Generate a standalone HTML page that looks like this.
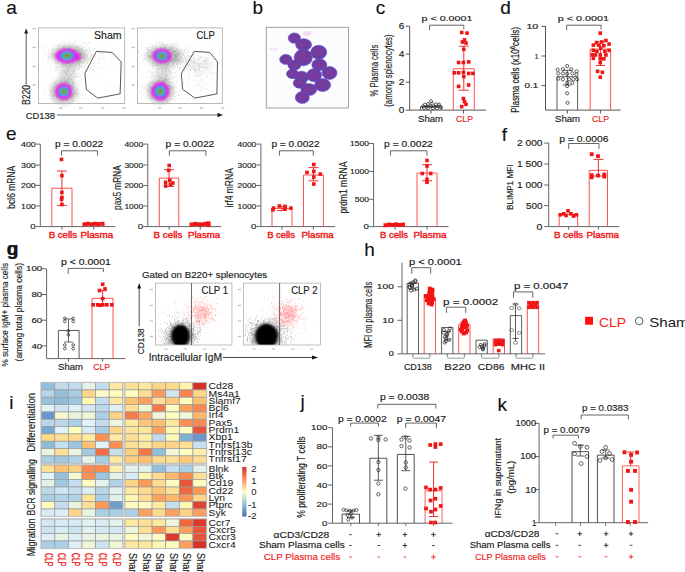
<!DOCTYPE html>
<html><head><meta charset="utf-8"><style>
html,body{margin:0;padding:0;background:#fff;}
body{width:685px;height:572px;overflow:hidden;}
svg{display:block;font-family:"Liberation Sans", sans-serif;}
</style></head><body>
<svg width="685" height="572" viewBox="0 0 685 572">
<defs>
<radialGradient id="fd" cx="50%" cy="50%" r="50%">
<stop offset="0%" stop-color="#c8201a"/>
<stop offset="14%" stop-color="#d85a10"/>
<stop offset="24%" stop-color="#1fb86a"/>
<stop offset="40%" stop-color="#20b8d8"/>
<stop offset="55%" stop-color="#3a3cf0"/>
<stop offset="70%" stop-color="#d43ce8"/>
<stop offset="85%" stop-color="#e860f0" stop-opacity="0.7"/>
<stop offset="100%" stop-color="#f090f0" stop-opacity="0"/>
</radialGradient>
<radialGradient id="blk" cx="50%" cy="50%" r="50%">
<stop offset="0%" stop-color="#000"/>
<stop offset="70%" stop-color="#050505"/>
<stop offset="100%" stop-color="#111" stop-opacity="0"/>
</radialGradient>
<radialGradient id="cellg" cx="48%" cy="48%" r="55%">
<stop offset="0%" stop-color="#7a3e9c"/>
<stop offset="65%" stop-color="#733a9e"/>
<stop offset="88%" stop-color="#6446b4"/>
<stop offset="100%" stop-color="#5e52c4"/>
</radialGradient>
<filter id="bl" x="-50%" y="-50%" width="200%" height="200%"><feGaussianBlur stdDeviation="0.9"/></filter>
<filter id="bl3" x="-50%" y="-50%" width="200%" height="200%"><feGaussianBlur stdDeviation="2.5"/></filter>
<linearGradient id="cbar" x1="0" y1="0" x2="0" y2="1">
<stop offset="0%" stop-color="#d73027"/>
<stop offset="25%" stop-color="#fc8d59"/>
<stop offset="50%" stop-color="#ffffbf"/>
<stop offset="75%" stop-color="#91bfdb"/>
<stop offset="100%" stop-color="#4575b4"/>
</linearGradient>
</defs>
<text x="6.20" y="14.00" font-size="19" fill="#111" stroke="#111" stroke-width="0.15">a</text>
<ellipse cx="69.00" cy="55.80" rx="17.00" ry="10.00" fill="#707070" opacity="0.4" filter="url(#bl3)"/>
<ellipse cx="63.80" cy="91.50" rx="13.00" ry="12.00" fill="#707070" opacity="0.4" filter="url(#bl3)"/>
<ellipse cx="67.40" cy="73.65" rx="8.00" ry="10.00" fill="#707070" opacity="0.18" filter="url(#bl3)"/>
<path d="M73.5 49.5h0.55M78.2 59.1h0.55M73.3 51.0h0.55M57.0 60.3h0.55M79.1 61.9h0.55M74.5 45.9h0.55M64.6 55.0h0.55M75.8 47.1h0.55M73.6 55.4h0.55M72.9 60.7h0.55M70.3 48.2h0.55M75.5 65.6h0.55M62.6 54.0h0.55M68.4 49.2h0.55M65.2 55.0h0.55M76.0 60.1h0.55M70.4 48.1h0.55M67.1 55.7h0.55M62.2 48.2h0.55M67.4 62.3h0.55M70.1 56.6h0.55M67.2 53.4h0.55M82.9 61.4h0.55M80.1 48.6h0.55M42.9 53.5h0.55M51.1 65.9h0.55M68.3 55.0h0.55M65.8 63.2h0.55M72.1 56.8h0.55M72.2 51.8h0.55M91.2 54.3h0.55M58.9 56.1h0.55M66.2 53.4h0.55M90.4 51.2h0.55M76.5 51.4h0.55M76.6 47.5h0.55M64.9 56.3h0.55M53.5 57.8h0.55M71.7 59.8h0.55M71.1 45.7h0.55M57.7 60.1h0.55M63.2 55.6h0.55M69.3 47.8h0.55M60.6 56.2h0.55M69.0 60.2h0.55M71.0 58.6h0.55M70.4 59.7h0.55M64.9 60.9h0.55M75.9 60.6h0.55M78.9 55.5h0.55M73.2 44.2h0.55M61.8 51.5h0.55M77.3 57.6h0.55M65.0 53.1h0.55M78.8 59.5h0.55M59.3 60.1h0.55M79.1 56.0h0.55M69.8 66.0h0.55M57.5 50.3h0.55M66.9 60.8h0.55M70.5 53.1h0.55M72.7 51.4h0.55M60.2 58.9h0.55M58.9 52.3h0.55M72.0 60.4h0.55M65.3 49.3h0.55M72.4 55.9h0.55M77.6 51.1h0.55M53.5 54.4h0.55M72.5 53.6h0.55M82.2 49.5h0.55M67.0 59.3h0.55M61.9 48.8h0.55M77.5 50.3h0.55M72.5 60.6h0.55M79.0 61.1h0.55M66.5 59.4h0.55M55.2 57.6h0.55M68.9 68.2h0.55M65.5 49.0h0.55M77.8 51.6h0.55M71.9 50.2h0.55M53.7 60.6h0.55M58.0 57.3h0.55M78.8 61.8h0.55M76.8 61.1h0.55M63.6 54.5h0.55M70.0 51.2h0.55M74.5 50.3h0.55M74.7 67.9h0.55M78.8 61.0h0.55M72.6 59.0h0.55M69.1 53.9h0.55M67.4 54.6h0.55M80.6 53.8h0.55M47.5 53.9h0.55M68.6 42.5h0.55M70.3 55.4h0.55M55.7 53.6h0.55M73.3 57.3h0.55M63.5 56.9h0.55M78.6 60.4h0.55M68.7 55.6h0.55M76.7 60.1h0.55M82.2 41.6h0.55M73.8 49.7h0.55M61.2 65.2h0.55M54.9 49.0h0.55M87.5 54.2h0.55M68.9 59.6h0.55M63.1 50.9h0.55M71.4 59.7h0.55M68.1 47.9h0.55M78.5 45.2h0.55M70.3 48.4h0.55M70.1 46.6h0.55M62.9 55.6h0.55M74.7 54.0h0.55M59.7 57.5h0.55M76.7 50.0h0.55M85.2 69.7h0.55M54.8 55.2h0.55M45.3 55.5h0.55M76.2 58.2h0.55M95.5 54.4h0.55M60.0 52.2h0.55M57.5 56.2h0.55M75.9 60.8h0.55M61.6 59.4h0.55M64.9 60.9h0.55M66.5 52.6h0.55M75.3 51.5h0.55M65.9 66.8h0.55M72.8 54.4h0.55M68.2 58.4h0.55M61.6 59.8h0.55M66.8 63.5h0.55M60.5 48.3h0.55M70.1 53.1h0.55M58.8 53.4h0.55M59.1 54.1h0.55M84.6 42.5h0.55M69.5 55.2h0.55M69.5 39.8h0.55M75.1 57.4h0.55M65.8 58.7h0.55M67.7 59.0h0.55M74.3 49.1h0.55M72.8 61.0h0.55M58.4 51.0h0.55M78.3 49.0h0.55M64.1 50.4h0.55M59.4 51.1h0.55M61.0 56.7h0.55M66.1 60.3h0.55M86.3 44.2h0.55M58.2 52.8h0.55M71.6 60.7h0.55M48.6 56.9h0.55M70.0 58.6h0.55M79.0 47.5h0.55M67.6 61.0h0.55M63.7 47.2h0.55M72.3 56.8h0.55M77.0 63.3h0.55M76.6 66.1h0.55M89.7 58.6h0.55M72.1 60.6h0.55M64.1 52.5h0.55M68.7 53.2h0.55M69.3 62.2h0.55M71.1 55.8h0.55M69.7 55.1h0.55M71.7 48.0h0.55M53.3 56.6h0.55M78.3 59.4h0.55M64.3 51.4h0.55M58.3 53.0h0.55M76.4 64.5h0.55M83.2 56.8h0.55M74.9 54.2h0.55M71.6 49.5h0.55M60.7 52.4h0.55M98.7 54.4h0.55M78.8 63.3h0.55M58.6 52.4h0.55M62.2 65.7h0.55M70.9 50.7h0.55M54.5 53.8h0.55M71.7 60.4h0.55M65.4 54.5h0.55M82.3 51.2h0.55M79.6 55.1h0.55M42.9 58.3h0.55M70.4 46.4h0.55M53.8 54.4h0.55M81.1 55.2h0.55M71.7 53.6h0.55M75.5 59.8h0.55M59.3 52.7h0.55M88.3 53.8h0.55M90.2 56.0h0.55M59.4 59.8h0.55M73.7 54.6h0.55M63.3 64.1h0.55M69.8 50.8h0.55M57.3 62.9h0.55M88.7 51.1h0.55M60.3 54.9h0.55M67.0 57.8h0.55M75.0 67.1h0.55M63.5 60.7h0.55M67.6 53.6h0.55M64.4 62.9h0.55M68.7 54.6h0.55M58.3 51.4h0.55M65.6 58.3h0.55M67.9 56.3h0.55M66.7 61.0h0.55M70.6 52.8h0.55M67.1 57.9h0.55M77.5 59.3h0.55M66.8 57.3h0.55M68.6 55.6h0.55M63.4 52.0h0.55M64.7 60.8h0.55M57.4 56.6h0.55M75.2 58.5h0.55M58.6 53.9h0.55M62.5 55.9h0.55M73.6 50.1h0.55M74.0 56.3h0.55M66.0 60.0h0.55M49.8 56.3h0.55M74.2 60.5h0.55M72.6 57.5h0.55M55.9 63.3h0.55M77.7 54.8h0.55M63.0 46.8h0.55M58.7 58.2h0.55M71.0 54.9h0.55M68.2 50.4h0.55M72.0 59.4h0.55M53.9 57.3h0.55M88.1 58.2h0.55M64.0 54.0h0.55M54.6 56.9h0.55M76.2 57.2h0.55M66.5 65.6h0.55M73.2 52.0h0.55M66.6 55.7h0.55M69.4 57.8h0.55M72.5 46.3h0.55M62.5 47.0h0.55M76.8 67.7h0.55M65.3 46.1h0.55M61.3 59.0h0.55M70.8 51.1h0.55M74.5 51.6h0.55M67.7 44.9h0.55M61.4 50.8h0.55M76.2 60.1h0.55M52.4 48.2h0.55M59.7 59.1h0.55M70.4 57.5h0.55M56.4 66.9h0.55M70.3 53.2h0.55M69.5 62.7h0.55M79.0 60.7h0.55M60.9 54.2h0.55M63.7 46.7h0.55M73.3 64.1h0.55M45.4 48.3h0.55M101.0 53.2h0.55M63.0 60.7h0.55M62.7 61.9h0.55M78.6 51.2h0.55M69.6 55.6h0.55M52.2 54.4h0.55M76.3 62.3h0.55M78.6 69.6h0.55M65.5 45.7h0.55M67.2 60.8h0.55M74.9 40.1h0.55M60.9 55.9h0.55M74.4 49.7h0.55M72.0 66.8h0.55M63.3 56.7h0.55M56.1 51.7h0.55M67.7 53.1h0.55M61.2 52.6h0.55M80.0 56.8h0.55M71.4 54.9h0.55M77.8 59.4h0.55M71.3 64.3h0.55M72.6 59.7h0.55M62.2 49.1h0.55M76.7 46.9h0.55M87.8 51.6h0.55M66.9 61.6h0.55M64.1 54.0h0.55M68.4 52.1h0.55M65.2 56.6h0.55M63.0 48.0h0.55M71.4 49.5h0.55M67.1 58.6h0.55M84.4 54.1h0.55M70.0 53.3h0.55M73.2 57.5h0.55M79.5 52.6h0.55M67.0 52.0h0.55M84.4 53.3h0.55M63.7 59.1h0.55M61.9 56.1h0.55M66.3 49.2h0.55M68.9 54.1h0.55M56.0 59.4h0.55M69.6 66.1h0.55M53.3 49.5h0.55M83.9 57.7h0.55M69.2 54.4h0.55M63.6 60.3h0.55M60.9 58.3h0.55M66.2 63.9h0.55M67.8 58.7h0.55M59.6 52.8h0.55M60.8 52.8h0.55M68.1 58.0h0.55M64.8 58.0h0.55M79.4 69.0h0.55M81.4 65.0h0.55M70.2 49.3h0.55M74.7 57.7h0.55M56.6 48.5h0.55M76.4 46.7h0.55M69.7 59.9h0.55M74.8 58.8h0.55M86.0 50.1h0.55M47.2 64.8h0.55M72.6 50.4h0.55M59.0 49.4h0.55M75.9 59.4h0.55M56.9 57.0h0.55M65.0 54.9h0.55M72.0 55.4h0.55M76.1 57.0h0.55M70.7 55.0h0.55M62.1 54.9h0.55M64.5 45.4h0.55M78.8 48.4h0.55M69.9 59.2h0.55M53.2 51.9h0.55M78.4 58.8h0.55M74.2 62.6h0.55M78.7 53.8h0.55M66.6 57.4h0.55M78.3 67.2h0.55M59.4 59.6h0.55M75.7 65.9h0.55M65.1 64.2h0.55M76.7 59.9h0.55M80.1 55.2h0.55M62.6 51.2h0.55M69.5 49.7h0.55M70.4 58.5h0.55M81.9 58.4h0.55M77.1 54.8h0.55M57.8 60.5h0.55M74.6 52.5h0.55M77.5 61.9h0.55M91.2 56.0h0.55M53.2 55.6h0.55M64.6 55.8h0.55M83.3 55.3h0.55M56.4 69.5h0.55M58.0 46.9h0.55M75.2 56.8h0.55M80.2 62.6h0.55M63.3 59.7h0.55M75.4 54.1h0.55M71.2 65.4h0.55M85.2 49.9h0.55M70.0 48.6h0.55M79.9 58.9h0.55M61.0 47.8h0.55M68.2 42.7h0.55M69.0 60.7h0.55M81.4 60.0h0.55M75.8 59.8h0.55M62.5 53.1h0.55M76.8 56.8h0.55M77.7 50.5h0.55M68.9 65.3h0.55M67.4 60.2h0.55M68.1 59.9h0.55M53.1 45.1h0.55M71.9 60.2h0.55M72.3 64.0h0.55M61.3 62.5h0.55M77.4 60.1h0.55M56.3 55.8h0.55M64.5 53.9h0.55M65.2 59.1h0.55M89.9 57.9h0.55M54.0 57.1h0.55M75.6 54.1h0.55M79.4 65.0h0.55M73.8 49.4h0.55M81.8 55.7h0.55M60.0 52.6h0.55M47.2 61.5h0.55M77.7 63.7h0.55M58.0 62.6h0.55M66.7 60.0h0.55M58.2 48.1h0.55M80.5 67.2h0.55M78.7 58.6h0.55M62.8 55.2h0.55M79.0 55.9h0.55M71.2 53.9h0.55M68.6 58.1h0.55M70.6 57.5h0.55M68.0 53.8h0.55M76.2 41.7h0.55M73.1 55.6h0.55M66.5 58.4h0.55M80.1 58.7h0.55M63.9 55.0h0.55M72.9 58.3h0.55M74.2 61.5h0.55M84.8 53.2h0.55M64.9 63.9h0.55M87.4 45.0h0.55M71.8 48.9h0.55M68.1 50.8h0.55M63.3 42.4h0.55M75.9 50.3h0.55M70.5 62.7h0.55M59.0 62.6h0.55M58.7 56.3h0.55M64.4 65.3h0.55M63.2 57.1h0.55M80.9 53.1h0.55M83.8 57.1h0.55M78.7 55.0h0.55M73.6 59.8h0.55M65.7 47.5h0.55M70.5 61.3h0.55M78.8 53.3h0.55M91.3 60.5h0.55M79.1 47.3h0.55M67.2 53.5h0.55M70.4 56.2h0.55M65.2 60.8h0.55M62.2 49.1h0.55M68.2 65.0h0.55M72.0 58.5h0.55M88.4 52.9h0.55M70.5 62.5h0.55M83.6 56.4h0.55M87.7 62.2h0.55M70.8 68.6h0.55M86.1 60.0h0.55M77.1 52.9h0.55M65.8 53.5h0.55M72.7 59.0h0.55M70.2 57.4h0.55M67.7 51.2h0.55M68.0 52.1h0.55M71.4 59.5h0.55M74.3 68.7h0.55M61.2 41.3h0.55M69.9 59.8h0.55M54.8 54.6h0.55M72.6 60.1h0.55M76.2 60.6h0.55M71.6 56.1h0.55M72.9 50.2h0.55M75.9 48.1h0.55M63.3 45.5h0.55M67.6 62.5h0.55M75.1 54.6h0.55M80.0 52.8h0.55M73.9 54.3h0.55M95.5 48.4h0.55M69.1 57.5h0.55M80.0 63.1h0.55M82.7 62.1h0.55M68.7 47.2h0.55M61.8 63.3h0.55M58.2 51.6h0.55M71.6 45.3h0.55M81.1 49.0h0.55M72.7 50.5h0.55M71.7 55.8h0.55M66.2 50.1h0.55M75.6 47.5h0.55M48.6 54.3h0.55M72.3 66.4h0.55M70.3 51.9h0.55M56.3 58.4h0.55M91.8 56.2h0.55M56.1 70.4h0.55M59.2 45.4h0.55M58.0 61.8h0.55M81.1 48.8h0.55M61.1 52.5h0.55M76.7 55.3h0.55M75.9 73.3h0.55M72.6 51.6h0.55M56.9 45.4h0.55M63.9 62.9h0.55M86.7 51.2h0.55M57.1 54.5h0.55M61.7 55.7h0.55M68.4 56.3h0.55M78.1 54.9h0.55M72.5 57.3h0.55M77.4 57.9h0.55M59.3 60.5h0.55M79.4 53.5h0.55M75.7 51.7h0.55M54.1 50.0h0.55M85.4 59.1h0.55M92.9 55.5h0.55M62.3 58.8h0.55M70.6 58.8h0.55M84.0 65.1h0.55M55.2 56.9h0.55M50.1 59.9h0.55M57.0 49.2h0.55M64.3 49.9h0.55M64.2 54.1h0.55M76.1 49.1h0.55M72.7 59.6h0.55M57.5 48.5h0.55M75.7 56.2h0.55M88.7 42.3h0.55M82.0 49.7h0.55M79.9 53.9h0.55M70.2 54.4h0.55M79.8 45.9h0.55M60.3 56.4h0.55M77.5 61.2h0.55M69.1 59.4h0.55M81.3 52.2h0.55M74.7 52.6h0.55M59.1 49.3h0.55M71.3 59.3h0.55M82.2 63.7h0.55M58.7 52.9h0.55M64.4 46.5h0.55M62.3 56.9h0.55M55.0 59.7h0.55M79.6 40.8h0.55M83.1 56.6h0.55M78.0 67.7h0.55M72.4 60.3h0.55M69.5 58.8h0.55M72.4 58.0h0.55M62.7 61.6h0.55M78.9 50.6h0.55M80.5 51.2h0.55M79.3 58.0h0.55M64.7 52.0h0.55M70.8 57.2h0.55M68.3 45.3h0.55M87.9 60.0h0.55M71.8 60.5h0.55M51.2 56.0h0.55M74.0 56.7h0.55M88.8 64.7h0.55M76.9 49.8h0.55M78.8 50.8h0.55M70.4 49.8h0.55M50.3 53.5h0.55M51.9 50.2h0.55M57.5 56.0h0.55M68.7 52.2h0.55M73.1 47.8h0.55M76.9 47.3h0.55M66.6 62.5h0.55M79.6 55.4h0.55M67.2 54.5h0.55M63.0 55.9h0.55M78.5 55.3h0.55M60.9 60.0h0.55M42.7 58.9h0.55M59.4 52.6h0.55M70.9 51.3h0.55M39.2 49.8h0.55M66.4 48.9h0.55M66.7 63.5h0.55M55.7 50.8h0.55M55.2 44.7h0.55M65.4 51.2h0.55M64.5 51.5h0.55M82.6 57.6h0.55M73.7 50.9h0.55M54.2 58.7h0.55M61.5 57.9h0.55M77.1 62.8h0.55M89.0 67.7h0.55M73.9 71.5h0.55M73.1 63.2h0.55M88.6 49.4h0.55M69.8 53.6h0.55M66.9 57.2h0.55M55.9 67.2h0.55M64.9 59.5h0.55M91.8 62.4h0.55M55.8 54.8h0.55M70.1 59.0h0.55M55.9 59.8h0.55M71.3 53.3h0.55M78.9 60.1h0.55M67.6 61.7h0.55M77.3 54.9h0.55M77.2 61.4h0.55M74.5 64.9h0.55M87.2 56.2h0.55M77.8 55.8h0.55M67.0 54.1h0.55M63.2 52.4h0.55M61.5 56.7h0.55M74.8 53.5h0.55M66.8 54.1h0.55M97.3 51.5h0.55M88.4 47.4h0.55M67.9 50.6h0.55M66.7 57.6h0.55M86.9 49.3h0.55M51.2 52.2h0.55M65.5 64.8h0.55M79.5 62.0h0.55M60.9 52.0h0.55M65.2 59.1h0.55M66.5 52.2h0.55M76.6 64.8h0.55M71.4 52.6h0.55M74.0 56.2h0.55M76.0 63.4h0.55M70.3 51.2h0.55M81.1 63.0h0.55M62.7 51.3h0.55M55.6 57.1h0.55M52.2 54.2h0.55M53.8 55.3h0.55M64.5 56.7h0.55M80.3 55.4h0.55M71.7 50.2h0.55M64.0 60.6h0.55M59.3 59.8h0.55M64.7 62.9h0.55M66.0 63.4h0.55M64.3 48.4h0.55M55.7 62.9h0.55M65.2 62.9h0.55M80.2 52.9h0.55M48.3 61.5h0.55M67.6 63.9h0.55M48.8 52.8h0.55M71.8 48.2h0.55M62.5 53.8h0.55M49.1 71.2h0.55M71.0 57.1h0.55M88.2 49.1h0.55M71.1 54.4h0.55M81.6 50.3h0.55M69.3 53.6h0.55M48.4 56.3h0.55M74.9 41.7h0.55M65.8 57.8h0.55M55.4 63.6h0.55M77.8 54.7h0.55M72.9 53.7h0.55M64.7 61.8h0.55M78.7 48.8h0.55M61.3 48.9h0.55M76.4 48.2h0.55M60.6 54.9h0.55M75.3 58.0h0.55M59.0 55.3h0.55M84.9 58.8h0.55M72.5 60.4h0.55M84.3 58.5h0.55M61.8 51.4h0.55M65.2 54.3h0.55M78.4 62.7h0.55M42.6 50.0h0.55M59.3 54.4h0.55M80.3 53.5h0.55M74.7 54.8h0.55M79.8 49.9h0.55M66.9 48.4h0.55M75.6 69.9h0.55M62.7 61.0h0.55M56.3 51.9h0.55M53.1 55.5h0.55M64.5 59.5h0.55M64.5 53.9h0.55M63.7 59.2h0.55M50.0 53.8h0.55M64.7 55.3h0.55M72.9 53.3h0.55M64.2 42.3h0.55M61.2 55.9h0.55M46.9 57.2h0.55M90.2 58.4h0.55M59.0 50.3h0.55M86.8 57.7h0.55M85.6 57.0h0.55M72.7 46.1h0.55M64.3 43.7h0.55M71.3 58.4h0.55M58.5 50.6h0.55M72.6 61.3h0.55M70.0 67.6h0.55M75.3 52.6h0.55M79.5 52.0h0.55M87.3 55.7h0.55M66.1 59.5h0.55M80.4 49.6h0.55M62.1 62.7h0.55M61.1 61.3h0.55M63.8 59.4h0.55M60.2 52.8h0.55M79.8 60.8h0.55M79.2 60.5h0.55M82.7 49.2h0.55M69.7 67.3h0.55M72.7 54.1h0.55M64.2 57.8h0.55M58.5 52.9h0.55M74.5 57.9h0.55M72.7 62.2h0.55M58.9 51.4h0.55M75.9 46.7h0.55M52.6 53.3h0.55M68.2 48.6h0.55M63.7 51.6h0.55M64.7 55.1h0.55M59.2 55.4h0.55M79.5 62.9h0.55M75.7 50.2h0.55M81.8 57.7h0.55M71.3 53.0h0.55M57.0 63.3h0.55M66.2 69.7h0.55M58.1 57.5h0.55M74.5 65.0h0.55M82.0 52.9h0.55M73.2 47.0h0.55M63.9 48.8h0.55M66.2 47.1h0.55M71.9 50.5h0.55M55.4 54.5h0.55M71.3 62.1h0.55M71.8 59.6h0.55M64.4 58.4h0.55M65.7 53.5h0.55M71.5 51.8h0.55M61.6 56.0h0.55M61.6 56.6h0.55M77.6 57.2h0.55M72.0 57.8h0.55M86.6 55.2h0.55M59.9 45.2h0.55M52.0 49.7h0.55M79.2 51.3h0.55M79.3 65.1h0.55M62.4 53.5h0.55M55.1 59.5h0.55M69.3 63.9h0.55M52.2 57.6h0.55M66.3 53.6h0.55M47.9 54.2h0.55M67.3 50.2h0.55M48.5 57.5h0.55M67.3 62.0h0.55M84.8 58.9h0.55M67.0 60.0h0.55M77.4 59.7h0.55M63.2 66.8h0.55M60.7 52.3h0.55M54.6 56.7h0.55M80.0 59.7h0.55M69.0 62.7h0.55M85.8 42.4h0.55M57.8 52.9h0.55M67.3 54.7h0.55M70.4 50.1h0.55M83.7 60.5h0.55M87.8 57.0h0.55M63.1 53.6h0.55M58.2 46.8h0.55M52.2 48.5h0.55M82.9 50.4h0.55M68.6 58.3h0.55M63.0 49.1h0.55M69.0 44.4h0.55M43.9 47.8h0.55M52.2 52.5h0.55M78.8 65.0h0.55M73.4 69.6h0.55M71.0 53.2h0.55M59.5 61.0h0.55M75.4 63.5h0.55M87.3 62.9h0.55M57.2 55.2h0.55M69.6 48.6h0.55M65.1 53.1h0.55M73.1 45.6h0.55M69.6 57.1h0.55M68.0 60.1h0.55M60.6 45.4h0.55M69.3 55.5h0.55M63.3 57.4h0.55M68.0 62.7h0.55M68.8 63.4h0.55M76.0 60.2h0.55M63.6 52.0h0.55M66.2 53.8h0.55M80.2 62.4h0.55M67.3 52.5h0.55M66.8 55.6h0.55M78.1 64.4h0.55M72.2 56.5h0.55M70.4 48.2h0.55M71.7 54.2h0.55M57.1 59.3h0.55M74.1 54.8h0.55M82.7 62.2h0.55M75.3 62.9h0.55M53.9 52.2h0.55M72.4 53.0h0.55M60.5 55.2h0.55M67.3 49.2h0.55M70.8 57.9h0.55M57.6 54.8h0.55M82.9 60.1h0.55M68.9 52.5h0.55M77.5 51.0h0.55M75.9 65.9h0.55M83.0 51.0h0.55M81.5 52.6h0.55M54.9 51.8h0.55M70.0 54.1h0.55M48.3 50.8h0.55M65.2 55.6h0.55M76.8 51.9h0.55M78.8 53.5h0.55M82.5 57.8h0.55M65.9 59.7h0.55M72.9 58.4h0.55M70.6 51.8h0.55M82.3 58.0h0.55M85.6 55.1h0.55M66.1 55.2h0.55M107.5 46.3h0.55M69.6 59.5h0.55M66.0 55.0h0.55M75.7 65.2h0.55M77.3 59.3h0.55M75.2 49.7h0.55M63.2 48.3h0.55M84.4 62.1h0.55M70.3 51.0h0.55M85.1 59.6h0.55M83.7 54.1h0.55M57.0 67.4h0.55M60.0 56.2h0.55M59.8 64.1h0.55M72.3 63.1h0.55M70.3 53.3h0.55M72.5 54.0h0.55M61.7 64.0h0.55M74.1 55.8h0.55M83.9 51.1h0.55M56.5 62.5h0.55M67.9 70.0h0.55M72.3 55.7h0.55M68.5 63.6h0.55M67.9 55.0h0.55M87.5 63.4h0.55M82.7 54.6h0.55M78.3 63.3h0.55M62.2 59.0h0.55M92.3 55.0h0.55M73.5 57.3h0.55M64.1 53.0h0.55M66.5 49.8h0.55M65.0 50.2h0.55M91.1 55.8h0.55M71.9 50.3h0.55M70.5 58.5h0.55M48.3 59.0h0.55M77.2 58.7h0.55M59.3 53.4h0.55" stroke="#666" stroke-width="0.55" opacity="0.5"/>
<path d="M64.6 81.8h0.55M64.1 98.0h0.55M73.5 77.0h0.55M58.6 93.1h0.55M61.6 96.1h0.55M62.6 87.3h0.55M63.3 90.0h0.55M59.0 86.4h0.55M59.9 97.3h0.55M71.4 70.9h0.55M59.8 85.2h0.55M70.7 78.9h0.55M78.5 92.7h0.55M73.2 99.9h0.55M51.6 99.2h0.55M69.7 95.8h0.55M67.6 93.1h0.55M68.1 86.5h0.55M52.9 99.4h0.55M69.6 95.6h0.55M56.7 86.0h0.55M73.4 83.2h0.55M71.8 87.4h0.55M82.1 98.5h0.55M61.6 99.6h0.55M53.6 102.0h0.55M71.6 86.5h0.55M70.4 89.2h0.55M61.6 100.5h0.55M73.8 92.9h0.55M69.1 96.5h0.55M55.2 82.9h0.55M61.8 89.1h0.55M61.1 91.4h0.55M63.5 89.2h0.55M65.6 88.8h0.55M59.4 80.9h0.55M62.8 102.1h0.55M68.4 92.5h0.55M63.7 82.1h0.55M62.3 98.5h0.55M62.1 92.0h0.55M63.5 96.2h0.55M50.8 90.3h0.55M65.3 86.5h0.55M57.0 86.6h0.55M65.0 93.8h0.55M53.9 96.6h0.55M70.7 94.8h0.55M65.9 95.8h0.55M54.8 99.4h0.55M65.9 93.5h0.55M58.9 98.2h0.55M76.8 98.8h0.55M67.7 93.6h0.55M58.6 91.2h0.55M65.8 88.9h0.55M64.0 83.9h0.55M72.6 81.6h0.55M66.7 100.2h0.55M67.8 91.6h0.55M56.4 88.2h0.55M69.8 102.0h0.55M78.9 98.1h0.55M68.7 92.1h0.55M64.0 98.3h0.55M65.4 90.5h0.55M57.6 94.1h0.55M56.6 98.7h0.55M64.6 90.0h0.55M61.6 96.3h0.55M58.5 99.5h0.55M68.3 91.1h0.55M53.9 89.2h0.55M55.0 90.0h0.55M77.1 83.3h0.55M78.1 92.9h0.55M77.6 96.1h0.55M68.4 98.3h0.55M68.1 78.0h0.55M61.3 88.6h0.55M58.0 100.0h0.55M65.2 89.6h0.55M60.5 100.8h0.55M61.2 95.4h0.55M69.4 94.9h0.55M53.3 89.1h0.55M62.8 89.3h0.55M58.9 93.0h0.55M62.2 93.8h0.55M56.6 81.3h0.55M72.7 100.4h0.55M77.6 93.9h0.55M56.5 91.3h0.55M68.8 96.4h0.55M68.4 89.8h0.55M56.7 100.2h0.55M65.0 92.8h0.55M74.1 97.1h0.55M70.2 86.6h0.55M75.6 90.6h0.55M56.0 94.8h0.55M59.0 86.2h0.55M66.3 88.1h0.55M66.7 92.0h0.55M64.4 99.6h0.55M61.5 97.3h0.55M61.3 98.2h0.55M59.9 94.3h0.55M67.3 98.2h0.55M44.9 102.3h0.55M75.4 93.4h0.55M60.5 95.2h0.55M54.1 96.1h0.55M68.0 79.3h0.55M54.3 91.7h0.55M66.8 95.0h0.55M61.3 97.2h0.55M68.3 90.2h0.55M69.6 98.6h0.55M73.2 88.1h0.55M60.6 91.1h0.55M64.0 83.5h0.55M54.2 91.7h0.55M68.2 91.3h0.55M65.0 91.6h0.55M54.7 88.7h0.55M72.5 96.4h0.55M73.6 85.2h0.55M54.8 83.6h0.55M68.1 95.3h0.55M72.8 84.4h0.55M69.9 94.6h0.55M57.2 92.2h0.55M54.3 87.6h0.55M63.2 89.8h0.55M60.6 91.4h0.55M64.0 95.0h0.55M63.3 87.9h0.55M67.7 90.7h0.55M60.1 82.7h0.55M62.9 90.2h0.55M84.8 79.5h0.55M63.1 91.7h0.55M69.2 89.0h0.55M65.5 100.3h0.55M57.6 90.9h0.55M67.7 98.0h0.55M63.6 93.7h0.55M69.7 84.4h0.55M78.3 76.1h0.55M65.3 99.0h0.55M69.3 94.3h0.55M56.8 79.1h0.55M64.8 95.9h0.55M74.8 97.7h0.55M63.5 87.3h0.55M59.5 96.9h0.55M65.4 80.6h0.55M62.7 90.3h0.55M62.3 92.0h0.55M61.4 96.8h0.55M77.9 94.3h0.55M57.9 93.2h0.55M61.1 95.3h0.55M60.0 87.5h0.55M72.6 101.3h0.55M62.0 89.5h0.55M73.1 96.9h0.55M65.1 91.7h0.55M63.8 90.1h0.55M53.7 95.5h0.55M72.4 94.6h0.55M67.7 100.4h0.55M66.8 98.7h0.55M63.1 88.0h0.55M61.0 94.9h0.55M55.1 92.3h0.55M70.6 86.5h0.55M65.8 84.5h0.55M61.4 93.3h0.55M59.5 88.2h0.55M64.8 82.7h0.55M63.3 91.1h0.55M75.4 93.1h0.55M69.4 92.3h0.55M59.8 83.8h0.55M56.2 87.9h0.55M62.3 100.5h0.55M57.6 86.6h0.55M64.5 89.5h0.55M68.4 93.9h0.55M66.9 88.4h0.55M62.6 79.0h0.55M68.2 93.6h0.55M57.8 82.6h0.55M63.4 91.4h0.55M69.7 86.0h0.55M66.0 80.7h0.55M55.1 102.3h0.55M55.9 90.9h0.55M52.7 97.6h0.55M76.6 96.4h0.55M53.2 86.8h0.55M63.0 92.1h0.55M76.9 89.2h0.55M71.6 97.8h0.55M73.2 94.3h0.55M60.5 89.2h0.55M69.2 102.3h0.55M85.3 94.9h0.55M63.8 94.5h0.55M66.9 86.4h0.55M61.8 94.2h0.55M63.9 82.0h0.55M66.7 94.5h0.55M73.7 85.4h0.55M57.7 92.7h0.55M54.0 89.7h0.55M64.2 93.0h0.55M65.5 93.8h0.55M73.9 91.1h0.55M69.1 91.1h0.55M59.7 81.8h0.55M68.0 79.2h0.55M71.9 99.7h0.55M66.1 95.2h0.55M61.7 81.9h0.55M61.6 86.9h0.55M51.0 94.8h0.55M73.4 94.3h0.55M55.0 92.2h0.55M61.7 95.5h0.55M61.8 82.6h0.55M61.7 91.3h0.55M62.0 89.8h0.55M53.9 92.1h0.55M67.7 89.7h0.55M64.2 87.3h0.55M64.3 86.7h0.55M71.5 97.3h0.55M71.7 86.0h0.55M73.4 93.9h0.55M77.0 93.8h0.55M67.2 90.9h0.55M53.2 94.3h0.55M65.5 95.0h0.55M64.1 88.0h0.55M64.5 93.7h0.55M57.8 84.5h0.55M69.6 89.5h0.55M70.8 86.5h0.55M67.8 82.4h0.55M62.8 91.5h0.55M61.3 97.5h0.55M68.8 85.9h0.55M63.6 90.6h0.55M60.1 86.9h0.55M64.4 82.8h0.55M50.0 91.0h0.55M59.8 94.7h0.55M60.9 88.9h0.55M54.2 92.6h0.55M65.2 95.9h0.55M65.8 99.3h0.55M59.7 83.5h0.55M62.7 95.5h0.55M68.6 87.5h0.55M71.3 79.3h0.55M58.6 86.4h0.55M66.3 95.7h0.55M71.2 93.5h0.55M63.7 84.4h0.55M58.5 101.9h0.55M58.5 94.1h0.55M61.6 91.1h0.55M56.6 88.0h0.55M77.9 94.2h0.55M59.9 89.0h0.55M66.5 98.9h0.55M65.1 93.5h0.55M68.3 95.5h0.55M61.1 89.5h0.55M54.7 81.9h0.55M75.3 94.9h0.55M63.3 85.0h0.55M64.6 90.8h0.55M65.2 91.4h0.55M72.6 86.4h0.55M69.2 97.3h0.55M72.0 82.2h0.55M69.6 101.2h0.55M64.9 87.7h0.55M65.6 97.7h0.55M58.6 99.9h0.55M50.2 85.9h0.55M62.1 86.7h0.55M56.3 97.6h0.55M81.9 92.7h0.55M74.7 92.0h0.55M72.0 79.7h0.55M60.0 80.9h0.55M78.2 95.0h0.55M51.9 100.8h0.55M55.4 86.9h0.55M58.3 85.9h0.55M57.1 92.9h0.55M64.7 94.5h0.55M65.2 95.1h0.55M77.2 88.7h0.55M70.8 78.9h0.55M72.4 100.9h0.55M66.7 88.3h0.55M62.8 99.6h0.55M59.0 78.6h0.55M53.2 93.9h0.55M57.7 88.3h0.55M61.1 84.5h0.55M69.2 97.8h0.55M52.0 99.8h0.55M54.2 87.7h0.55M65.3 95.7h0.55M56.5 84.6h0.55M66.2 87.5h0.55M60.9 89.9h0.55M58.5 89.3h0.55M54.5 95.6h0.55M63.2 83.7h0.55M58.7 97.8h0.55M59.5 97.7h0.55M59.3 90.1h0.55M65.1 83.9h0.55M64.8 76.2h0.55M51.8 91.1h0.55M62.7 86.9h0.55M66.6 92.2h0.55M71.1 84.7h0.55M69.3 91.5h0.55M65.3 91.1h0.55M55.8 91.6h0.55M58.4 93.3h0.55M70.2 93.4h0.55M58.9 97.8h0.55M71.0 86.5h0.55M72.7 96.1h0.55M56.4 92.5h0.55M66.9 88.8h0.55M63.0 85.1h0.55M78.0 100.9h0.55M69.7 93.0h0.55M60.2 88.2h0.55M66.7 92.0h0.55M57.4 91.5h0.55M62.7 88.1h0.55M65.2 82.6h0.55M64.8 92.5h0.55M66.0 90.5h0.55M57.5 89.7h0.55M50.8 97.9h0.55M61.3 83.1h0.55M57.6 85.4h0.55M58.9 92.6h0.55M78.8 96.9h0.55M71.9 95.5h0.55M62.6 96.2h0.55M53.8 77.4h0.55M54.7 94.7h0.55M66.3 94.2h0.55M71.3 95.9h0.55M61.8 87.1h0.55M64.7 94.8h0.55M65.6 98.0h0.55M71.3 101.8h0.55M50.6 93.2h0.55M64.9 83.0h0.55M66.6 91.9h0.55M70.5 95.7h0.55M66.6 94.8h0.55M59.7 90.3h0.55M53.1 85.0h0.55M65.2 87.5h0.55M65.1 95.8h0.55M67.4 86.4h0.55M57.0 84.9h0.55M55.8 86.2h0.55M74.5 99.3h0.55M65.1 93.1h0.55M76.0 89.4h0.55M66.9 97.0h0.55M53.6 96.0h0.55M69.4 85.3h0.55M72.4 96.9h0.55M60.6 93.1h0.55M50.3 78.3h0.55M68.5 84.0h0.55M62.8 93.2h0.55M65.7 94.7h0.55M45.0 89.7h0.55M67.0 85.2h0.55M44.5 93.2h0.55M57.7 79.8h0.55M70.0 95.2h0.55M51.0 90.6h0.55M50.8 91.4h0.55M60.7 87.4h0.55M75.3 96.9h0.55M75.1 76.6h0.55M59.5 86.0h0.55M70.8 95.3h0.55M67.9 87.1h0.55M65.6 101.0h0.55M66.3 94.4h0.55M58.7 86.7h0.55M69.4 98.8h0.55M71.2 91.1h0.55M82.7 95.4h0.55M70.2 87.7h0.55M46.6 87.8h0.55M55.4 96.3h0.55M66.1 92.4h0.55M64.3 86.9h0.55M50.7 86.1h0.55M62.8 95.9h0.55M61.3 103.0h0.55M63.4 86.4h0.55M62.9 96.1h0.55M70.2 73.1h0.55M74.0 82.9h0.55M68.6 96.1h0.55M56.0 102.0h0.55M57.7 92.2h0.55M59.1 95.3h0.55M63.4 93.5h0.55M60.8 98.3h0.55M61.3 84.9h0.55M57.3 95.9h0.55M70.4 89.0h0.55M69.7 89.6h0.55M70.5 91.8h0.55M63.2 90.5h0.55M67.0 86.9h0.55M57.4 90.2h0.55M56.7 85.7h0.55M60.0 101.3h0.55M67.9 96.3h0.55M62.7 89.2h0.55M55.8 102.0h0.55M64.4 100.1h0.55M66.7 95.0h0.55M64.9 88.4h0.55M59.1 93.5h0.55M64.2 95.5h0.55M60.8 100.8h0.55M61.5 90.7h0.55M63.2 88.2h0.55M76.6 100.8h0.55M74.7 93.8h0.55M68.2 85.9h0.55M61.0 95.0h0.55M61.6 99.0h0.55M61.9 96.7h0.55M71.9 97.1h0.55M44.4 92.1h0.55M65.6 99.1h0.55M49.9 88.0h0.55M63.8 89.0h0.55M73.1 88.6h0.55M57.4 87.7h0.55M72.9 80.9h0.55M74.3 93.3h0.55M67.3 85.5h0.55M72.6 83.8h0.55M58.2 92.5h0.55M72.0 81.7h0.55M75.7 91.2h0.55M65.8 91.1h0.55M72.8 94.7h0.55M71.7 86.3h0.55M58.6 94.9h0.55M73.3 82.2h0.55M69.0 93.0h0.55M64.9 90.9h0.55M70.3 91.2h0.55M69.0 89.4h0.55M60.2 88.1h0.55M69.6 83.9h0.55M56.0 96.6h0.55M62.9 101.0h0.55M51.9 89.2h0.55M51.9 96.2h0.55M66.9 89.3h0.55M63.2 94.2h0.55M64.4 94.6h0.55M67.9 82.4h0.55M66.2 86.6h0.55M57.6 97.7h0.55M64.3 79.3h0.55M63.3 91.6h0.55M60.2 89.4h0.55M62.9 85.6h0.55M61.2 91.9h0.55M59.3 93.6h0.55M61.5 95.1h0.55M65.4 74.6h0.55M78.2 102.4h0.55M58.1 88.5h0.55M67.5 98.3h0.55M53.6 90.8h0.55M74.9 87.8h0.55M61.5 91.1h0.55M72.7 101.7h0.55M70.7 89.3h0.55M53.4 93.0h0.55M67.7 98.8h0.55M62.2 95.3h0.55M68.1 92.1h0.55M64.9 90.3h0.55M69.0 84.6h0.55M65.8 96.4h0.55M62.8 98.7h0.55M53.0 88.0h0.55M60.8 95.8h0.55M57.1 91.3h0.55M62.8 99.7h0.55M60.8 90.9h0.55M62.8 87.3h0.55M60.4 80.6h0.55M60.5 96.2h0.55M52.3 92.6h0.55M63.5 98.8h0.55M66.0 87.9h0.55M59.2 86.9h0.55M59.3 94.9h0.55M75.6 94.2h0.55M65.1 98.7h0.55M66.5 90.5h0.55M61.7 85.6h0.55M60.3 85.1h0.55M57.6 96.8h0.55M74.6 92.2h0.55M51.9 93.8h0.55M65.9 86.2h0.55M63.6 92.4h0.55M62.0 92.9h0.55M52.8 95.5h0.55M55.2 82.0h0.55M70.7 86.5h0.55M58.9 102.7h0.55M70.0 88.9h0.55M68.5 91.0h0.55M67.9 88.9h0.55M69.1 81.8h0.55M55.3 84.5h0.55M60.5 93.9h0.55M68.6 87.1h0.55M75.5 81.8h0.55M59.9 78.9h0.55M63.3 89.0h0.55M56.6 83.6h0.55M66.4 100.5h0.55M58.7 88.7h0.55M62.1 94.9h0.55M55.8 82.3h0.55M72.1 95.8h0.55M52.4 95.6h0.55M67.0 99.5h0.55M65.5 92.9h0.55M66.9 94.8h0.55M56.7 92.5h0.55M71.0 97.5h0.55M70.6 88.8h0.55M64.9 95.0h0.55M66.0 87.7h0.55M62.7 96.0h0.55M68.3 89.6h0.55M58.1 87.2h0.55M67.7 87.0h0.55M66.6 101.0h0.55M53.9 81.3h0.55M45.4 81.8h0.55M63.0 95.6h0.55M62.7 85.0h0.55M72.3 88.4h0.55M64.2 88.2h0.55M54.3 87.1h0.55M63.2 86.7h0.55M59.7 88.9h0.55M56.1 92.9h0.55M63.0 94.7h0.55M71.2 81.9h0.55M64.4 94.4h0.55M66.1 79.8h0.55M56.1 95.2h0.55M52.8 96.5h0.55M67.3 92.5h0.55M59.9 90.2h0.55M71.6 76.2h0.55M66.0 99.3h0.55M58.2 89.4h0.55M65.3 90.1h0.55M72.9 99.4h0.55M62.5 76.3h0.55M56.4 91.0h0.55M59.2 95.3h0.55M58.1 96.1h0.55M55.5 95.4h0.55M66.8 93.3h0.55M71.6 98.1h0.55M61.3 96.5h0.55M69.3 81.8h0.55M70.2 86.5h0.55M62.5 89.7h0.55M61.4 91.1h0.55M66.7 82.9h0.55M64.5 89.3h0.55M65.9 83.0h0.55M72.9 87.5h0.55M60.8 95.1h0.55M65.3 86.1h0.55M56.9 87.5h0.55M62.7 100.2h0.55M59.1 94.6h0.55M58.5 94.8h0.55M62.3 98.0h0.55M60.7 87.9h0.55M66.4 89.0h0.55M69.4 78.1h0.55" stroke="#666" stroke-width="0.55" opacity="0.5"/>
<path d="M71.8 58.5h0.55M66.2 70.8h0.55M67.4 77.2h0.55M60.9 69.0h0.55M71.1 74.3h0.55M71.2 79.1h0.55M68.5 77.4h0.55M57.9 59.8h0.55M62.3 63.9h0.55M67.2 51.0h0.55M62.4 78.8h0.55M69.7 75.3h0.55M73.4 84.4h0.55M62.9 74.0h0.55M66.3 64.4h0.55M63.3 82.2h0.55M73.6 63.0h0.55M72.8 73.6h0.55M83.4 71.9h0.55M67.4 79.8h0.55M61.8 80.9h0.55M69.9 70.2h0.55M66.0 67.7h0.55M68.5 73.2h0.55M74.9 69.0h0.55M65.7 81.2h0.55M71.7 76.6h0.55M54.7 84.8h0.55M73.8 94.6h0.55M68.2 66.7h0.55M66.0 68.8h0.55M64.4 77.5h0.55M75.9 76.8h0.55M64.4 70.8h0.55M75.0 59.8h0.55M64.4 94.0h0.55M67.7 74.3h0.55M69.6 64.2h0.55M79.6 54.3h0.55M68.9 84.9h0.55M68.9 76.3h0.55M67.1 73.6h0.55M65.6 65.3h0.55M63.8 72.8h0.55M78.3 70.5h0.55M76.3 53.5h0.55M63.3 95.1h0.55M68.4 77.1h0.55M60.4 70.8h0.55M73.1 65.8h0.55M71.6 68.7h0.55M68.2 93.1h0.55M62.6 76.8h0.55M72.1 62.8h0.55M71.2 80.8h0.55M66.4 77.6h0.55M71.9 77.8h0.55M59.4 72.5h0.55M63.9 72.2h0.55M61.8 75.3h0.55M68.2 71.9h0.55M77.5 62.2h0.55M67.8 65.5h0.55M74.3 73.6h0.55M67.3 60.7h0.55M65.0 72.5h0.55M73.6 71.0h0.55M70.7 79.5h0.55M76.0 74.9h0.55M73.3 71.2h0.55M62.6 71.2h0.55M52.2 77.0h0.55M68.3 81.1h0.55M60.4 64.9h0.55M59.0 61.2h0.55M58.6 67.5h0.55M63.6 54.9h0.55M66.3 67.2h0.55M67.5 80.3h0.55M79.7 81.5h0.55M60.2 86.0h0.55M67.4 74.1h0.55M60.0 74.8h0.55M61.5 68.8h0.55M67.8 69.3h0.55M69.9 75.9h0.55M59.7 80.9h0.55M74.3 77.0h0.55M61.9 57.2h0.55M73.2 77.6h0.55M67.1 73.6h0.55M72.9 68.8h0.55M70.8 74.7h0.55M65.7 80.8h0.55M70.3 74.7h0.55M59.4 67.7h0.55M59.6 100.6h0.55M65.3 68.4h0.55M75.7 77.3h0.55M62.9 83.7h0.55M63.8 66.6h0.55M77.4 77.9h0.55M67.7 66.7h0.55M67.4 71.4h0.55M61.1 67.4h0.55M67.8 87.7h0.55M71.0 62.4h0.55M67.1 77.7h0.55M72.0 73.8h0.55M69.4 57.5h0.55M73.7 87.5h0.55M72.4 68.9h0.55M66.6 71.4h0.55M72.6 75.2h0.55M78.2 66.2h0.55M69.2 67.2h0.55M60.1 73.2h0.55M68.6 66.4h0.55M66.2 74.3h0.55M83.0 83.7h0.55M71.9 65.3h0.55M60.8 60.7h0.55M66.3 72.4h0.55M76.2 76.7h0.55M60.4 78.9h0.55M64.4 64.6h0.55M67.4 54.5h0.55M66.5 80.6h0.55M63.8 79.2h0.55M68.1 85.7h0.55M58.9 65.7h0.55M63.9 78.0h0.55M63.8 81.6h0.55M65.5 58.7h0.55M65.5 82.0h0.55M67.3 85.0h0.55M65.2 78.1h0.55M64.8 77.8h0.55M69.5 79.4h0.55M72.7 71.4h0.55M73.1 61.9h0.55M60.4 66.0h0.55M68.8 72.0h0.55M71.8 66.6h0.55M65.7 81.7h0.55M70.1 70.2h0.55M66.0 72.6h0.55M69.5 59.2h0.55M58.1 76.7h0.55M70.0 67.8h0.55M64.4 85.6h0.55M62.9 59.6h0.55M65.5 76.1h0.55M73.2 70.2h0.55M72.9 70.6h0.55M68.8 87.1h0.55M72.4 81.2h0.55M64.8 66.6h0.55M59.8 84.7h0.55M56.1 68.2h0.55M67.1 79.9h0.55M66.4 59.5h0.55M67.5 70.9h0.55M67.7 71.1h0.55M74.6 70.8h0.55M61.7 60.7h0.55M62.6 58.2h0.55M78.7 73.3h0.55M71.9 78.3h0.55M65.4 73.7h0.55M55.0 70.7h0.55M62.1 61.4h0.55M65.1 71.3h0.55M66.7 69.0h0.55M68.4 67.7h0.55M65.9 74.9h0.55M74.1 74.9h0.55M60.1 76.7h0.55M65.5 71.4h0.55M63.1 66.8h0.55M71.8 71.9h0.55M68.3 71.0h0.55M71.9 60.3h0.55M67.7 70.7h0.55M89.7 60.2h0.55M71.5 57.7h0.55M62.7 66.9h0.55M67.2 68.3h0.55M64.8 79.0h0.55M71.7 71.0h0.55M73.0 77.7h0.55M69.5 85.0h0.55M66.1 74.4h0.55M63.2 76.5h0.55M76.9 67.9h0.55M73.9 80.0h0.55M49.7 73.9h0.55M67.7 74.0h0.55M62.2 64.4h0.55M65.0 66.0h0.55M77.4 68.1h0.55M60.5 74.3h0.55M61.0 82.2h0.55M82.0 61.3h0.55M64.5 70.5h0.55M65.9 71.0h0.55M74.2 91.7h0.55M64.3 71.8h0.55M67.6 69.1h0.55M68.8 79.4h0.55M75.8 64.5h0.55M57.7 77.8h0.55M62.4 60.0h0.55M66.6 89.6h0.55M72.8 73.1h0.55M63.5 70.0h0.55M70.2 62.9h0.55M64.3 72.2h0.55M65.0 74.1h0.55M75.0 67.6h0.55M66.0 83.0h0.55M85.2 70.8h0.55M69.6 74.2h0.55M74.2 75.7h0.55M71.9 84.3h0.55M58.1 70.4h0.55M58.2 74.0h0.55M70.3 75.8h0.55M60.8 78.4h0.55M64.1 58.8h0.55M65.4 82.7h0.55M61.9 72.5h0.55M74.5 67.7h0.55M72.1 73.2h0.55M68.4 58.1h0.55M70.8 67.3h0.55M62.0 75.0h0.55M72.6 84.4h0.55M62.3 72.8h0.55M76.8 76.7h0.55M63.4 71.1h0.55M64.1 80.4h0.55M74.4 70.3h0.55M71.3 77.2h0.55M61.7 70.8h0.55M71.0 65.8h0.55M67.4 65.6h0.55M67.5 68.4h0.55M71.1 82.8h0.55M71.1 99.1h0.55M73.5 71.9h0.55M70.3 67.6h0.55M69.4 77.8h0.55M66.8 77.5h0.55M76.4 69.3h0.55M62.7 88.9h0.55M78.9 80.6h0.55M80.5 81.1h0.55M80.4 74.1h0.55M66.6 74.6h0.55M80.1 81.4h0.55M74.3 62.5h0.55M73.9 67.2h0.55M87.2 74.3h0.55M68.6 61.9h0.55M70.9 86.8h0.55M59.9 68.6h0.55M54.1 70.2h0.55M69.2 76.2h0.55M70.0 85.7h0.55M71.7 73.3h0.55M69.3 67.5h0.55M55.5 66.2h0.55M69.7 75.5h0.55M74.2 69.0h0.55M76.9 92.6h0.55M61.8 83.7h0.55M62.1 48.3h0.55M63.3 66.2h0.55M63.6 76.5h0.55M57.7 92.2h0.55M63.3 57.5h0.55M76.9 70.1h0.55M61.1 83.3h0.55M56.2 68.1h0.55M65.8 74.2h0.55M64.4 69.6h0.55M71.5 79.0h0.55M62.9 64.9h0.55M66.3 73.8h0.55M62.3 62.0h0.55M61.5 81.5h0.55M69.6 78.5h0.55M68.1 73.4h0.55M67.1 73.9h0.55M70.5 73.9h0.55M62.4 70.7h0.55M67.5 74.9h0.55M68.6 76.6h0.55M74.5 73.1h0.55" stroke="#777" stroke-width="0.55" opacity="0.45"/>
<path d="M79.6 61.1h0.55M81.3 66.0h0.55M80.9 58.0h0.55M89.1 51.0h0.55M86.4 70.9h0.55M102.8 57.8h0.55M83.4 67.6h0.55M85.7 57.2h0.55M79.3 63.9h0.55M85.9 58.7h0.55M81.0 57.3h0.55M77.3 58.7h0.55M86.5 64.5h0.55M99.3 51.3h0.55M77.2 52.9h0.55M79.1 66.6h0.55M84.6 54.6h0.55M87.3 61.0h0.55M96.7 50.3h0.55M79.2 58.2h0.55M83.7 67.4h0.55M77.8 60.3h0.55M77.1 61.2h0.55M80.7 57.0h0.55M74.9 60.4h0.55M88.9 47.2h0.55M94.4 48.3h0.55M80.2 62.6h0.55M78.5 47.3h0.55M96.8 68.8h0.55M82.9 65.6h0.55M98.2 51.2h0.55M58.8 44.4h0.55M83.3 42.7h0.55M75.6 61.8h0.55M80.0 59.0h0.55M92.0 69.1h0.55M94.5 62.9h0.55M83.2 70.6h0.55M93.2 65.8h0.55M74.7 53.0h0.55M87.2 58.3h0.55M83.4 53.7h0.55M69.5 57.4h0.55M92.9 56.0h0.55M78.7 58.0h0.55M88.7 69.1h0.55M77.9 55.7h0.55M86.3 51.2h0.55M90.3 55.2h0.55M84.8 56.3h0.55M80.5 55.5h0.55M90.2 58.4h0.55M86.7 56.6h0.55M81.0 67.4h0.55M85.2 66.0h0.55M84.1 54.3h0.55M81.7 66.5h0.55M92.9 69.5h0.55M100.5 59.7h0.55M80.2 53.8h0.55M83.8 62.7h0.55M76.4 59.1h0.55M72.9 62.0h0.55M95.1 52.3h0.55M78.8 74.4h0.55M87.9 58.3h0.55M72.7 63.4h0.55M79.1 55.6h0.55M89.1 60.8h0.55M89.1 43.7h0.55M87.0 50.6h0.55M88.5 42.5h0.55M86.8 66.7h0.55M93.9 50.1h0.55M100.1 48.9h0.55M89.9 67.7h0.55M83.8 56.4h0.55M75.6 58.7h0.55M80.5 67.4h0.55M81.9 63.3h0.55M97.8 62.1h0.55M70.9 64.5h0.55M77.7 46.2h0.55M75.6 68.9h0.55M92.6 69.2h0.55M78.6 72.8h0.55M68.3 45.2h0.55M66.3 54.0h0.55M87.6 56.0h0.55M70.1 71.9h0.55M94.7 63.9h0.55M94.3 72.4h0.55M74.5 63.1h0.55M81.7 55.5h0.55M84.9 50.9h0.55M71.3 56.0h0.55M73.6 69.8h0.55M79.0 54.0h0.55M84.3 47.5h0.55M87.1 61.9h0.55M67.7 69.6h0.55M86.8 77.0h0.55M83.6 68.7h0.55M82.2 66.8h0.55M80.5 47.5h0.55M93.8 57.3h0.55M98.6 57.3h0.55M80.5 60.9h0.55M83.0 53.5h0.55M70.3 65.5h0.55M81.0 68.8h0.55M90.8 60.7h0.55M83.7 57.9h0.55M87.8 61.3h0.55M83.6 62.6h0.55M85.5 65.5h0.55M90.6 53.9h0.55M91.6 70.1h0.55M67.2 60.2h0.55M82.8 58.7h0.55M58.6 64.8h0.55M84.9 55.0h0.55M79.9 66.1h0.55M79.5 75.0h0.55M98.9 63.0h0.55M88.1 61.3h0.55M95.0 56.5h0.55M90.5 70.4h0.55M100.1 67.8h0.55M82.7 49.3h0.55M82.7 66.7h0.55M84.1 55.2h0.55M107.0 51.6h0.55M81.0 59.3h0.55M85.2 55.2h0.55M97.3 68.0h0.55M93.3 51.0h0.55M80.5 50.8h0.55M100.7 53.1h0.55M89.3 58.8h0.55M98.0 63.9h0.55M90.4 52.1h0.55M92.0 54.7h0.55M78.3 48.8h0.55M97.8 58.4h0.55M78.7 52.6h0.55M85.7 75.0h0.55M94.8 73.3h0.55M81.9 53.2h0.55M86.1 60.7h0.55M85.1 62.7h0.55M86.4 55.9h0.55M90.3 57.0h0.55M71.5 64.2h0.55M80.3 57.8h0.55M103.6 57.6h0.55M67.4 59.5h0.55M79.3 68.4h0.55M92.2 57.9h0.55M68.4 62.4h0.55M77.2 61.4h0.55M77.8 64.7h0.55M99.1 58.4h0.55M77.2 56.3h0.55M90.7 54.9h0.55M79.3 61.4h0.55M85.1 60.7h0.55M74.8 57.9h0.55M71.8 61.3h0.55M80.8 76.3h0.55M72.6 65.3h0.55M83.4 46.9h0.55M86.1 68.9h0.55M88.7 60.7h0.55M98.7 52.6h0.55M97.8 69.1h0.55M75.1 59.2h0.55M78.3 66.9h0.55M100.2 55.4h0.55M84.5 67.1h0.55M81.5 57.8h0.55M94.6 66.4h0.55M79.4 65.5h0.55M93.4 51.7h0.55M82.3 62.3h0.55M96.6 63.0h0.55M83.7 59.3h0.55M92.4 47.3h0.55M94.5 61.7h0.55M99.5 57.5h0.55M77.8 68.1h0.55M81.5 52.3h0.55M72.2 66.6h0.55M69.5 60.7h0.55M80.5 77.5h0.55M86.4 52.7h0.55M96.3 66.4h0.55M81.2 56.0h0.55M102.2 53.1h0.55" stroke="#777" stroke-width="0.55" opacity="0.4"/>
<path d="M107.0 65.9h0.5M120.3 57.9h0.5M45.0 91.2h0.5M100.4 74.0h0.5M45.3 53.3h0.5M84.0 70.2h0.5M69.5 72.0h0.5M79.2 56.4h0.5M100.8 76.8h0.5M40.9 87.5h0.5M91.8 53.3h0.5M111.8 58.4h0.5M112.7 49.4h0.5M81.8 59.6h0.5M93.1 88.2h0.5M53.1 85.9h0.5M57.2 97.0h0.5M119.9 63.9h0.5M43.3 46.0h0.5M114.3 50.2h0.5M62.1 71.6h0.5M83.6 46.7h0.5M59.6 83.2h0.5M47.7 58.5h0.5M110.7 69.3h0.5M91.8 65.4h0.5M111.7 62.9h0.5M91.7 91.7h0.5M98.9 42.3h0.5M50.0 94.1h0.5M41.1 45.6h0.5M47.5 47.6h0.5M109.6 52.0h0.5M43.1 92.9h0.5M48.3 100.3h0.5M48.8 49.7h0.5M45.7 73.6h0.5M67.3 76.6h0.5M89.0 51.9h0.5M114.9 84.7h0.5M54.2 68.3h0.5M44.4 54.9h0.5M118.8 54.9h0.5M51.8 78.5h0.5M100.4 42.1h0.5M115.9 90.1h0.5M73.7 89.4h0.5M120.5 73.6h0.5M65.8 41.5h0.5M53.8 82.9h0.5M110.4 63.1h0.5M93.8 44.1h0.5M65.0 59.2h0.5M43.6 64.2h0.5M64.6 47.5h0.5M91.2 98.4h0.5M86.8 66.2h0.5M62.7 89.9h0.5M74.3 76.8h0.5M67.9 63.5h0.5M46.6 71.5h0.5M92.5 71.1h0.5M84.3 63.3h0.5M111.0 46.9h0.5M105.9 91.5h0.5M73.2 70.9h0.5M102.8 71.0h0.5M91.1 67.7h0.5M114.9 65.8h0.5M58.8 96.5h0.5M64.9 96.9h0.5M79.5 85.5h0.5M51.5 42.8h0.5M87.4 63.7h0.5M72.5 82.3h0.5M100.5 73.9h0.5M105.8 90.0h0.5M48.3 57.5h0.5M121.4 93.0h0.5M104.1 58.7h0.5M101.8 68.5h0.5M60.2 55.8h0.5M61.2 85.3h0.5M111.8 49.5h0.5M44.3 89.1h0.5M50.3 82.6h0.5M89.5 51.7h0.5M59.6 86.8h0.5M82.6 44.6h0.5M83.5 66.5h0.5M73.0 90.2h0.5M105.4 55.8h0.5M56.9 77.4h0.5M101.8 70.3h0.5M74.1 40.0h0.5M113.9 66.0h0.5M53.0 101.3h0.5M59.0 43.1h0.5M67.1 50.5h0.5M57.3 41.0h0.5M65.2 72.7h0.5M71.6 56.3h0.5M103.6 42.8h0.5M96.8 45.7h0.5M104.1 44.8h0.5M85.1 81.3h0.5M64.0 47.6h0.5M52.1 99.0h0.5M117.8 70.9h0.5M91.3 58.8h0.5M57.4 95.7h0.5M65.4 88.2h0.5M86.8 61.3h0.5M78.1 76.0h0.5M44.0 78.8h0.5M65.5 97.7h0.5M86.7 99.4h0.5M106.4 85.0h0.5M56.0 49.6h0.5M59.6 76.6h0.5" stroke="#888" stroke-width="0.5" opacity="0.45"/>
<g filter="url(#bl)">
<ellipse cx="67.00" cy="55.80" rx="11.50" ry="7.40" fill="#ee22ee"/>
<ellipse cx="75.50" cy="56.80" rx="5.50" ry="3.80" fill="#ee22ee"/>
<ellipse cx="67.00" cy="55.80" rx="7.82" ry="5.03" fill="#4a5cf6"/>
<ellipse cx="67.00" cy="55.80" rx="5.75" ry="3.70" fill="#22c8c0"/>
<ellipse cx="67.00" cy="55.80" rx="3.91" ry="2.52" fill="#28c840"/>
<ellipse cx="67.00" cy="55.80" rx="2.30" ry="1.48" fill="#c03a14"/>
</g>
<g filter="url(#bl)">
<ellipse cx="63.80" cy="91.50" rx="8.60" ry="8.20" fill="#ee22ee"/>
<ellipse cx="63.80" cy="91.50" rx="5.85" ry="5.58" fill="#4a5cf6"/>
<ellipse cx="63.80" cy="91.50" rx="4.30" ry="4.10" fill="#22c8c0"/>
<ellipse cx="63.80" cy="91.50" rx="2.92" ry="2.79" fill="#28c840"/>
<ellipse cx="63.80" cy="91.50" rx="1.72" ry="1.64" fill="#c03a14"/>
</g>
<rect x="38.40" y="27.90" width="86.30" height="75.70" fill="none" stroke="#a8a8a8" stroke-width="0.8"/>
<polygon points="96.4,51.4 112.2,52.4 121.2,62.0 120.1,93.9 97.7,98.1 86.4,89.7 84.9,73.4" fill="none" stroke="#4a3434" stroke-width="0.85"/>
<text x="94.00" y="39.20" font-size="10.5" fill="#1a1a1a" stroke="#1a1a1a" stroke-width="0.15" textLength="27.60" lengthAdjust="spacingAndGlyphs">Sham</text>
<rect x="32.60" y="27.90" width="3.20" height="1.40" fill="#c4c4c4"/>
<rect x="32.60" y="46.70" width="3.20" height="1.40" fill="#c4c4c4"/>
<rect x="32.60" y="65.90" width="3.20" height="1.40" fill="#c4c4c4"/>
<rect x="32.60" y="84.40" width="3.20" height="1.40" fill="#c4c4c4"/>
<rect x="59.20" y="107.40" width="3.20" height="1.40" fill="#c4c4c4"/>
<rect x="79.10" y="107.40" width="3.20" height="1.40" fill="#c4c4c4"/>
<rect x="101.10" y="107.40" width="3.20" height="1.40" fill="#c4c4c4"/>
<rect x="122.10" y="107.40" width="3.20" height="1.40" fill="#c4c4c4"/>
<ellipse cx="164.00" cy="55.90" rx="17.00" ry="10.00" fill="#707070" opacity="0.4" filter="url(#bl3)"/>
<ellipse cx="160.30" cy="91.30" rx="13.00" ry="12.00" fill="#707070" opacity="0.4" filter="url(#bl3)"/>
<ellipse cx="163.15" cy="73.60" rx="8.00" ry="10.00" fill="#707070" opacity="0.18" filter="url(#bl3)"/>
<path d="M174.7 57.6h0.55M172.0 52.5h0.55M163.7 48.8h0.55M172.5 48.5h0.55M188.0 62.8h0.55M168.0 52.5h0.55M182.2 62.5h0.55M162.1 54.5h0.55M158.9 60.7h0.55M175.0 50.8h0.55M145.8 48.9h0.55M174.6 54.8h0.55M165.0 46.3h0.55M160.2 48.5h0.55M165.9 58.5h0.55M166.1 64.5h0.55M177.5 56.9h0.55M173.4 46.8h0.55M167.0 50.2h0.55M162.8 56.9h0.55M155.6 55.1h0.55M167.0 69.1h0.55M139.2 66.3h0.55M174.7 54.3h0.55M165.0 67.5h0.55M148.4 50.7h0.55M170.6 50.7h0.55M156.1 63.8h0.55M160.3 50.1h0.55M147.1 52.8h0.55M157.5 64.8h0.55M166.6 53.6h0.55M164.2 63.5h0.55M167.9 59.9h0.55M157.7 53.6h0.55M170.6 59.5h0.55M150.2 62.2h0.55M159.3 60.5h0.55M138.5 51.3h0.55M161.9 61.2h0.55M159.4 43.0h0.55M163.0 54.2h0.55M170.6 56.2h0.55M178.0 61.1h0.55M153.1 63.5h0.55M162.5 48.4h0.55M145.3 52.8h0.55M183.1 55.1h0.55M177.9 53.2h0.55M169.5 57.9h0.55M177.0 59.4h0.55M173.5 59.6h0.55M158.6 53.9h0.55M172.1 73.5h0.55M176.7 49.4h0.55M173.0 54.7h0.55M164.1 64.5h0.55M161.1 60.5h0.55M188.7 60.3h0.55M167.7 63.0h0.55M170.5 55.0h0.55M151.0 56.6h0.55M171.8 62.3h0.55M167.5 65.1h0.55M156.4 49.0h0.55M177.9 53.2h0.55M165.0 56.2h0.55M171.5 61.2h0.55M169.6 49.3h0.55M158.0 61.4h0.55M167.9 52.4h0.55M178.8 60.4h0.55M153.9 57.6h0.55M154.6 64.4h0.55M155.9 50.5h0.55M172.4 59.4h0.55M160.4 54.6h0.55M167.9 52.3h0.55M176.4 61.4h0.55M153.7 50.8h0.55M179.7 60.3h0.55M165.3 50.4h0.55M163.2 49.6h0.55M180.3 60.0h0.55M169.6 68.1h0.55M151.8 58.7h0.55M164.4 50.9h0.55M157.3 58.0h0.55M167.6 54.4h0.55M160.3 52.4h0.55M161.6 57.2h0.55M174.6 59.0h0.55M148.1 60.5h0.55M167.8 50.3h0.55M162.6 65.0h0.55M168.2 54.4h0.55M141.3 47.1h0.55M155.4 51.3h0.55M160.9 56.6h0.55M181.5 51.2h0.55M152.4 57.1h0.55M153.7 50.9h0.55M163.1 61.6h0.55M168.2 56.9h0.55M158.9 54.4h0.55M165.8 61.3h0.55M148.6 50.6h0.55M181.9 55.0h0.55M161.6 59.1h0.55M166.3 57.9h0.55M192.0 56.1h0.55M159.4 60.6h0.55M152.6 52.9h0.55M155.1 55.7h0.55M181.7 50.9h0.55M163.1 55.4h0.55M157.2 49.3h0.55M164.6 49.3h0.55M164.5 55.7h0.55M175.1 50.1h0.55M172.2 59.9h0.55M168.8 61.1h0.55M169.8 58.9h0.55M156.9 59.9h0.55M152.4 58.6h0.55M169.1 47.4h0.55M170.3 49.6h0.55M166.7 57.6h0.55M167.9 49.8h0.55M171.3 52.0h0.55M153.6 55.5h0.55M161.6 57.4h0.55M156.4 47.0h0.55M146.4 55.9h0.55M170.3 60.5h0.55M162.7 57.8h0.55M169.1 64.0h0.55M171.3 53.2h0.55M156.0 62.8h0.55M180.1 67.7h0.55M168.1 59.7h0.55M175.1 61.3h0.55M182.0 61.4h0.55M160.3 43.8h0.55M158.9 51.9h0.55M166.8 61.8h0.55M176.1 48.8h0.55M176.4 57.4h0.55M145.3 58.8h0.55M179.4 62.7h0.55M160.6 55.0h0.55M169.9 60.6h0.55M151.8 55.7h0.55M156.2 64.5h0.55M168.7 52.2h0.55M147.2 52.8h0.55M173.1 58.0h0.55M159.6 65.0h0.55M167.8 57.2h0.55M166.5 55.6h0.55M159.5 52.3h0.55M178.1 61.5h0.55M188.4 51.9h0.55M171.3 54.4h0.55M147.8 54.2h0.55M166.2 61.9h0.55M162.7 51.0h0.55M174.1 51.1h0.55M165.6 56.9h0.55M186.4 56.0h0.55M171.9 47.6h0.55M171.0 50.9h0.55M161.6 52.2h0.55M156.1 55.9h0.55M164.2 51.1h0.55M167.0 66.6h0.55M169.8 57.2h0.55M167.0 62.4h0.55M162.2 57.5h0.55M165.5 57.1h0.55M160.4 59.8h0.55M155.1 53.8h0.55M156.3 45.7h0.55M169.9 58.2h0.55M172.3 51.6h0.55M162.8 63.0h0.55M163.6 50.8h0.55M170.5 56.6h0.55M163.6 55.9h0.55M196.4 52.6h0.55M166.3 53.6h0.55M159.8 54.8h0.55M146.9 56.7h0.55M167.1 57.2h0.55M175.3 56.0h0.55M164.4 55.7h0.55M177.4 43.5h0.55M159.1 63.4h0.55M164.0 59.5h0.55M163.1 48.8h0.55M157.5 51.1h0.55M150.2 44.0h0.55M155.5 39.5h0.55M146.0 53.2h0.55M172.6 65.0h0.55M163.3 56.6h0.55M164.0 57.0h0.55M159.3 56.2h0.55M174.5 59.0h0.55M156.5 55.6h0.55M181.8 51.3h0.55M175.9 52.6h0.55M158.0 59.6h0.55M163.0 53.7h0.55M171.3 45.3h0.55M177.5 58.9h0.55M157.1 57.1h0.55M160.0 63.2h0.55M190.0 56.4h0.55M174.2 55.9h0.55M174.0 55.3h0.55M184.3 51.5h0.55M169.5 57.4h0.55M160.4 53.0h0.55M147.7 50.2h0.55M173.6 55.3h0.55M153.7 56.4h0.55M171.7 57.9h0.55M145.3 59.6h0.55M160.3 67.9h0.55M164.8 54.4h0.55M152.5 63.3h0.55M159.5 55.9h0.55M156.7 56.6h0.55M166.3 60.3h0.55M152.4 51.2h0.55M162.4 55.4h0.55M178.7 59.7h0.55M179.0 47.9h0.55M183.9 50.7h0.55M169.2 53.4h0.55M160.9 55.7h0.55M168.3 60.1h0.55M172.1 48.8h0.55M167.8 63.5h0.55M179.5 59.7h0.55M158.4 59.2h0.55M162.9 45.0h0.55M149.8 57.6h0.55M160.8 51.6h0.55M177.4 59.9h0.55M165.5 55.3h0.55M172.5 53.5h0.55M169.3 50.8h0.55M174.6 54.5h0.55M156.6 59.5h0.55M170.3 46.8h0.55M171.8 51.7h0.55M176.6 54.4h0.55M178.9 54.7h0.55M160.0 53.2h0.55M150.7 56.9h0.55M158.6 56.2h0.55M178.2 44.3h0.55M155.1 61.4h0.55M151.2 48.0h0.55M151.9 62.2h0.55M152.0 60.1h0.55M172.2 46.1h0.55M157.3 56.4h0.55M158.8 63.3h0.55M176.4 63.5h0.55M174.4 56.8h0.55M173.8 51.6h0.55M157.3 62.5h0.55M148.0 47.6h0.55M168.5 47.6h0.55M182.6 60.1h0.55M161.4 49.2h0.55M162.3 58.9h0.55M182.3 52.4h0.55M163.0 62.2h0.55M147.6 55.4h0.55M164.4 59.4h0.55M159.0 54.8h0.55M171.3 53.4h0.55M186.5 52.1h0.55M156.9 50.8h0.55M166.6 58.1h0.55M161.2 58.4h0.55M158.4 65.0h0.55M169.6 57.5h0.55M180.5 54.4h0.55M169.4 58.6h0.55M160.7 63.8h0.55M170.2 48.0h0.55M167.4 65.1h0.55M173.2 51.4h0.55M159.5 51.5h0.55M166.4 70.0h0.55M181.5 61.9h0.55M165.2 52.9h0.55M174.8 60.6h0.55M164.9 63.4h0.55M165.7 59.7h0.55M157.6 61.9h0.55M193.5 57.9h0.55M177.0 58.8h0.55M176.8 49.6h0.55M176.6 50.2h0.55M154.8 57.0h0.55M157.4 48.5h0.55M163.2 59.6h0.55M148.2 55.4h0.55M156.0 62.4h0.55M173.3 60.8h0.55M143.6 53.6h0.55M156.0 41.1h0.55M164.0 47.9h0.55M164.0 55.9h0.55M164.6 67.2h0.55M157.3 56.0h0.55M174.1 59.1h0.55M141.3 55.8h0.55M169.1 41.2h0.55M149.8 59.2h0.55M157.7 54.5h0.55M164.2 47.6h0.55M181.1 59.7h0.55M155.8 55.6h0.55M150.5 72.1h0.55M174.7 43.7h0.55M164.1 51.5h0.55M165.1 56.2h0.55M170.6 53.8h0.55M175.0 59.5h0.55M166.6 60.8h0.55M143.8 58.5h0.55M162.9 56.3h0.55M165.2 52.1h0.55M153.4 56.9h0.55M154.7 60.8h0.55M171.4 56.6h0.55M167.4 44.4h0.55M155.9 65.2h0.55M170.6 53.2h0.55M166.3 60.8h0.55M152.0 53.2h0.55M162.2 61.9h0.55M151.8 54.1h0.55M156.3 64.1h0.55M168.0 63.1h0.55M152.7 52.4h0.55M152.5 39.9h0.55M168.8 57.8h0.55M154.9 50.5h0.55M162.2 61.3h0.55M162.5 58.0h0.55M163.4 53.9h0.55M168.8 50.7h0.55M160.6 51.2h0.55M157.2 64.0h0.55M160.4 61.2h0.55M176.6 54.7h0.55M174.3 57.7h0.55M164.5 61.0h0.55M177.3 54.9h0.55M172.1 46.0h0.55M154.2 65.1h0.55M180.2 54.2h0.55M193.1 52.6h0.55M168.6 56.1h0.55M148.8 50.7h0.55M180.0 50.0h0.55M171.1 57.2h0.55M163.9 52.0h0.55M144.6 58.3h0.55M164.0 58.2h0.55M162.0 66.8h0.55M161.8 54.5h0.55M160.8 56.5h0.55M174.6 53.0h0.55M160.8 62.5h0.55M169.3 58.7h0.55M145.9 58.1h0.55M155.1 66.4h0.55M164.9 57.6h0.55M156.1 57.5h0.55M165.4 48.8h0.55M164.5 46.4h0.55M166.9 53.2h0.55M161.7 56.6h0.55M171.4 50.0h0.55M151.4 50.7h0.55M161.0 60.2h0.55M180.3 52.9h0.55M160.8 52.8h0.55M180.4 54.1h0.55M168.5 50.0h0.55M162.6 60.8h0.55M165.9 63.9h0.55M181.1 61.7h0.55M161.9 64.5h0.55M153.9 45.2h0.55M170.1 61.0h0.55M172.2 55.3h0.55M173.6 63.6h0.55M149.8 52.5h0.55M169.0 60.5h0.55M165.7 65.9h0.55M162.6 59.5h0.55M160.3 56.8h0.55M169.7 55.3h0.55M164.3 59.1h0.55M164.6 55.1h0.55M185.1 49.8h0.55M165.6 59.6h0.55M153.4 65.4h0.55M155.8 58.4h0.55M157.4 62.2h0.55M148.8 63.0h0.55M175.9 56.5h0.55M183.6 55.9h0.55M158.7 51.8h0.55M174.1 57.6h0.55M157.5 59.1h0.55M158.1 51.1h0.55M147.4 54.7h0.55M164.4 62.1h0.55M177.3 52.7h0.55M177.6 60.4h0.55M170.2 58.4h0.55M162.3 54.6h0.55M177.0 61.2h0.55M182.4 59.7h0.55M157.3 56.0h0.55M167.6 56.9h0.55M164.5 58.5h0.55M158.5 59.1h0.55M153.2 58.7h0.55M156.7 60.2h0.55M166.1 53.6h0.55M167.5 64.4h0.55M166.4 55.8h0.55M177.8 55.4h0.55M158.1 63.5h0.55M152.4 61.8h0.55M153.2 46.1h0.55M169.0 56.3h0.55M159.6 60.6h0.55M148.5 59.3h0.55M174.3 47.1h0.55M179.0 52.5h0.55M166.8 52.1h0.55M171.4 59.8h0.55M151.0 61.1h0.55M150.9 58.3h0.55M166.6 56.1h0.55M167.1 51.9h0.55M163.1 62.2h0.55M162.1 44.2h0.55M158.7 59.3h0.55M179.4 59.6h0.55M156.4 58.0h0.55M163.7 56.3h0.55M175.4 57.1h0.55M154.8 60.0h0.55M166.4 52.7h0.55M163.9 60.3h0.55M171.2 56.3h0.55M140.5 56.8h0.55M162.0 41.7h0.55M157.1 49.0h0.55M175.9 55.1h0.55M164.4 52.6h0.55M159.4 61.3h0.55M173.9 48.1h0.55M171.4 62.9h0.55M175.2 60.7h0.55M175.8 57.5h0.55M172.7 53.6h0.55M159.3 49.8h0.55M168.0 49.6h0.55M168.0 52.3h0.55M168.6 56.2h0.55M168.4 59.9h0.55M165.9 60.1h0.55M160.8 62.2h0.55M164.3 61.9h0.55M155.2 52.4h0.55M156.0 53.3h0.55M172.2 62.1h0.55M161.8 51.8h0.55M165.9 61.8h0.55M159.6 56.5h0.55M148.7 48.7h0.55M161.0 58.7h0.55M181.2 57.5h0.55M164.0 51.8h0.55M158.2 43.1h0.55M171.9 57.8h0.55M160.2 58.7h0.55M158.9 60.8h0.55M149.4 58.6h0.55M147.8 52.3h0.55M169.2 47.1h0.55M166.4 55.5h0.55M165.4 61.6h0.55M171.9 55.7h0.55M160.4 49.5h0.55M165.2 47.0h0.55M156.3 41.8h0.55M156.4 57.3h0.55M157.5 58.7h0.55M174.7 44.3h0.55M172.1 52.9h0.55M154.9 64.0h0.55M161.8 44.5h0.55M166.2 64.4h0.55M156.9 62.6h0.55M171.7 61.0h0.55M157.1 59.0h0.55M161.6 59.0h0.55M161.6 59.8h0.55M146.5 65.4h0.55M147.5 50.2h0.55M156.3 46.6h0.55M176.8 45.4h0.55M170.8 57.5h0.55M169.5 61.9h0.55M158.7 52.3h0.55M160.3 58.6h0.55M165.4 57.5h0.55M167.6 62.7h0.55M149.7 60.3h0.55M157.8 58.6h0.55M157.3 52.6h0.55M178.1 54.2h0.55M159.5 61.2h0.55M156.8 57.2h0.55M173.1 63.5h0.55M160.5 52.8h0.55M174.2 61.5h0.55M155.3 55.3h0.55M183.8 58.6h0.55M164.1 46.8h0.55M166.3 60.0h0.55M162.5 51.3h0.55M164.4 62.8h0.55M165.1 61.0h0.55M161.6 52.8h0.55M177.3 64.4h0.55M142.4 64.6h0.55M152.8 65.9h0.55M161.2 63.1h0.55M163.6 54.4h0.55M179.3 64.3h0.55M170.4 49.5h0.55M164.9 54.6h0.55M156.9 58.2h0.55M184.6 47.6h0.55M173.6 63.0h0.55M190.4 59.8h0.55M150.0 55.7h0.55M182.2 44.7h0.55M163.9 52.7h0.55M156.4 60.8h0.55M166.2 60.0h0.55M166.1 51.5h0.55M161.8 49.3h0.55M150.5 56.5h0.55M161.5 50.0h0.55M152.1 47.5h0.55M165.9 64.3h0.55M151.3 56.4h0.55M167.2 58.3h0.55M160.8 55.0h0.55M174.5 61.6h0.55M157.1 61.6h0.55M151.4 55.5h0.55M150.9 53.9h0.55M167.6 54.1h0.55M204.3 61.2h0.55M151.1 57.0h0.55M158.6 49.8h0.55M180.3 63.6h0.55M171.4 56.4h0.55M177.5 59.0h0.55M167.9 64.1h0.55M169.6 59.1h0.55M165.3 60.8h0.55M153.6 55.8h0.55M166.8 59.6h0.55M155.0 61.3h0.55M171.0 58.5h0.55M143.8 55.4h0.55M163.0 54.8h0.55M165.4 57.7h0.55M182.8 53.7h0.55M156.1 59.3h0.55M170.6 53.8h0.55M146.2 61.7h0.55M188.0 56.9h0.55M138.1 52.8h0.55M179.2 58.6h0.55M160.4 50.4h0.55M145.8 72.6h0.55M158.2 52.5h0.55M172.6 55.5h0.55M162.3 63.9h0.55M155.3 53.2h0.55M165.4 51.3h0.55M163.6 50.9h0.55M172.8 62.4h0.55M170.4 50.1h0.55M158.8 65.4h0.55M155.8 59.6h0.55M164.0 55.5h0.55M162.0 62.4h0.55M166.1 56.2h0.55M153.2 54.7h0.55M164.7 49.3h0.55M155.3 48.4h0.55M169.1 57.5h0.55M166.2 45.2h0.55M161.0 47.6h0.55M147.7 47.7h0.55M174.8 55.7h0.55M155.0 48.5h0.55M158.7 55.0h0.55M162.6 69.7h0.55M167.6 56.0h0.55M158.0 65.4h0.55M158.3 56.7h0.55M149.2 49.8h0.55M174.0 52.7h0.55M158.6 52.2h0.55M158.9 58.1h0.55M142.7 59.5h0.55M157.7 56.7h0.55M172.4 53.5h0.55M174.2 51.4h0.55M153.2 53.4h0.55M164.2 50.8h0.55M169.9 51.4h0.55M149.4 69.2h0.55M159.8 60.5h0.55M170.7 49.9h0.55M174.6 55.7h0.55M149.2 57.4h0.55M152.6 55.4h0.55M175.3 51.9h0.55M159.6 57.5h0.55M167.3 56.3h0.55M152.0 58.2h0.55M175.3 61.7h0.55M167.6 52.6h0.55M177.8 56.6h0.55M154.2 53.0h0.55M158.2 50.9h0.55M151.4 52.6h0.55M151.2 56.7h0.55M150.2 52.5h0.55M165.1 50.4h0.55M154.0 51.6h0.55M162.9 56.4h0.55M156.1 63.3h0.55M166.5 62.6h0.55M171.2 47.0h0.55M171.0 54.0h0.55M171.7 58.8h0.55M161.5 53.4h0.55M170.0 54.8h0.55M160.4 50.6h0.55M154.8 56.5h0.55M150.6 54.9h0.55M162.6 51.0h0.55M165.8 58.5h0.55M179.5 61.3h0.55M158.4 58.3h0.55M177.9 49.5h0.55M147.6 57.2h0.55M162.4 59.9h0.55M186.8 61.8h0.55M160.0 62.2h0.55M154.4 60.8h0.55M153.2 54.7h0.55M185.8 58.5h0.55M176.0 59.5h0.55M158.0 56.4h0.55M159.0 57.5h0.55M138.6 50.2h0.55M161.8 57.4h0.55M179.2 53.4h0.55M144.2 54.9h0.55M174.5 65.0h0.55M169.9 57.0h0.55M179.6 57.4h0.55M158.4 52.4h0.55M166.5 47.7h0.55M177.5 49.2h0.55M168.9 53.9h0.55M171.1 54.5h0.55M160.8 46.0h0.55M162.2 52.1h0.55M158.2 55.7h0.55M165.2 51.3h0.55M164.4 53.7h0.55M161.5 56.4h0.55M142.6 62.3h0.55M149.9 57.6h0.55M163.4 64.0h0.55M175.8 48.3h0.55M155.2 62.7h0.55M158.8 54.8h0.55M163.7 61.1h0.55M173.8 66.5h0.55M180.8 60.9h0.55M166.9 58.1h0.55M164.2 64.4h0.55M156.1 53.2h0.55M168.0 61.4h0.55M161.2 57.9h0.55M165.7 57.9h0.55M155.2 52.5h0.55M175.0 57.6h0.55M160.0 57.8h0.55M148.7 55.7h0.55M163.7 57.6h0.55M153.0 48.3h0.55M169.5 60.9h0.55M177.4 54.5h0.55M169.6 57.1h0.55M162.6 52.4h0.55M155.8 53.9h0.55M159.3 52.3h0.55M185.6 62.6h0.55M174.9 51.3h0.55M154.1 51.8h0.55M154.8 54.9h0.55M168.1 49.2h0.55M165.3 50.3h0.55M165.5 56.9h0.55M170.6 57.4h0.55M153.7 59.9h0.55M156.5 58.2h0.55M174.7 51.1h0.55M167.8 50.2h0.55M162.1 61.4h0.55M163.7 43.9h0.55M171.1 56.6h0.55M167.7 59.5h0.55M158.0 62.1h0.55M153.0 63.2h0.55M172.7 61.6h0.55M152.6 66.1h0.55M185.2 46.0h0.55M153.2 54.2h0.55M158.6 57.7h0.55M175.6 43.5h0.55M179.2 51.7h0.55M165.5 62.1h0.55M138.1 52.2h0.55M163.5 61.2h0.55M143.8 59.3h0.55M159.7 62.3h0.55M173.3 60.3h0.55M172.7 58.8h0.55M166.0 59.6h0.55M167.3 51.1h0.55M171.0 65.0h0.55M160.9 54.6h0.55M161.1 51.5h0.55M176.9 58.4h0.55M169.7 48.4h0.55M176.9 67.2h0.55M168.9 68.8h0.55M168.7 62.4h0.55M173.1 50.9h0.55M172.0 58.5h0.55M182.0 57.5h0.55M170.8 53.2h0.55M160.2 54.5h0.55M160.9 58.5h0.55M155.4 53.4h0.55M167.1 55.9h0.55M157.8 56.4h0.55M151.8 49.3h0.55M171.3 54.4h0.55M179.6 53.9h0.55M148.9 65.1h0.55M174.5 57.0h0.55M167.0 58.6h0.55M154.6 57.6h0.55M158.0 56.3h0.55M162.9 56.8h0.55M187.8 55.7h0.55M167.2 44.9h0.55M180.7 56.5h0.55M158.9 52.9h0.55M175.5 54.7h0.55M173.0 51.1h0.55M158.1 51.4h0.55M159.1 56.4h0.55M169.8 53.8h0.55M149.1 56.6h0.55M164.6 57.6h0.55M151.9 56.3h0.55M164.9 56.9h0.55M169.1 53.1h0.55M171.8 55.1h0.55M168.9 59.7h0.55M163.0 55.4h0.55M159.5 59.5h0.55M156.4 56.7h0.55M158.8 61.8h0.55M160.6 51.0h0.55M159.7 57.8h0.55M166.6 60.9h0.55M158.1 52.2h0.55M149.0 57.1h0.55M171.6 58.2h0.55M157.3 55.7h0.55M148.2 61.3h0.55M155.6 58.2h0.55M161.4 55.0h0.55M162.6 60.8h0.55M166.9 58.3h0.55M184.0 71.6h0.55M151.7 47.8h0.55M180.9 57.1h0.55M166.5 56.0h0.55M161.6 56.2h0.55M142.4 45.3h0.55M161.9 56.7h0.55M171.3 53.1h0.55M154.3 60.0h0.55M149.5 50.2h0.55M151.7 65.3h0.55M166.5 55.8h0.55M165.1 53.4h0.55M180.7 57.7h0.55M159.9 48.1h0.55M172.8 50.3h0.55M152.5 59.1h0.55M162.5 54.3h0.55M175.7 56.4h0.55M161.8 43.7h0.55M170.0 48.4h0.55M152.0 46.6h0.55M155.3 64.7h0.55M159.2 54.8h0.55M153.4 62.6h0.55M160.0 54.2h0.55M179.4 61.3h0.55M162.4 52.7h0.55M167.2 53.1h0.55M180.4 54.8h0.55M165.0 56.0h0.55M163.3 44.6h0.55M159.9 55.4h0.55M176.0 50.3h0.55M173.9 51.7h0.55M185.4 53.9h0.55M185.6 53.2h0.55M149.9 55.0h0.55M172.6 61.3h0.55M186.1 61.5h0.55M168.2 64.9h0.55M166.7 51.9h0.55M153.5 54.9h0.55M176.5 53.9h0.55M155.0 53.1h0.55M166.9 58.9h0.55M161.8 59.6h0.55M169.8 55.1h0.55M160.8 56.5h0.55M160.9 62.5h0.55M175.5 55.0h0.55M164.8 61.8h0.55M174.3 55.9h0.55M158.5 58.5h0.55M180.0 66.0h0.55M170.4 53.1h0.55M177.4 58.0h0.55M172.9 62.9h0.55M149.4 56.8h0.55M139.4 63.3h0.55M175.8 70.0h0.55M160.3 63.9h0.55M161.1 55.9h0.55M156.7 51.9h0.55M159.5 57.4h0.55M168.1 53.3h0.55M173.9 52.2h0.55M162.1 60.3h0.55M143.1 59.9h0.55M171.0 47.4h0.55" stroke="#666" stroke-width="0.55" opacity="0.5"/>
<path d="M157.3 97.7h0.55M153.8 88.8h0.55M165.4 85.2h0.55M163.5 92.0h0.55M167.4 91.2h0.55M160.7 83.9h0.55M164.5 85.3h0.55M165.7 92.6h0.55M160.6 103.0h0.55M167.0 75.5h0.55M148.5 75.9h0.55M167.9 86.9h0.55M151.6 88.7h0.55M158.4 96.7h0.55M162.5 81.0h0.55M161.7 93.3h0.55M151.3 93.7h0.55M161.0 97.4h0.55M145.5 87.5h0.55M159.0 86.4h0.55M157.3 90.0h0.55M170.9 88.2h0.55M158.4 88.3h0.55M155.3 88.4h0.55M155.5 96.3h0.55M154.5 90.0h0.55M160.3 90.4h0.55M161.8 95.6h0.55M171.5 90.0h0.55M151.5 93.2h0.55M164.3 82.2h0.55M150.6 92.3h0.55M158.3 92.0h0.55M168.0 87.7h0.55M168.7 88.2h0.55M166.2 86.4h0.55M156.4 99.3h0.55M166.9 90.9h0.55M170.8 87.2h0.55M150.9 87.6h0.55M156.6 85.6h0.55M161.0 93.1h0.55M162.1 92.6h0.55M162.6 86.5h0.55M159.0 87.0h0.55M155.9 93.3h0.55M164.1 84.3h0.55M155.4 101.0h0.55M159.3 92.4h0.55M163.7 88.1h0.55M163.6 93.2h0.55M166.5 79.9h0.55M166.9 95.1h0.55M165.4 87.7h0.55M171.0 97.7h0.55M151.4 97.2h0.55M162.1 86.5h0.55M162.1 100.9h0.55M159.1 89.6h0.55M160.6 89.8h0.55M163.3 98.3h0.55M158.4 97.7h0.55M174.7 87.5h0.55M174.5 92.7h0.55M157.5 87.8h0.55M167.9 85.6h0.55M166.6 87.2h0.55M162.5 94.0h0.55M159.6 80.0h0.55M164.4 93.0h0.55M161.9 86.4h0.55M157.2 89.7h0.55M166.9 99.4h0.55M162.0 94.3h0.55M168.6 89.1h0.55M151.9 102.9h0.55M155.5 81.3h0.55M139.4 91.7h0.55M157.9 97.5h0.55M152.8 83.0h0.55M164.7 94.5h0.55M167.6 89.8h0.55M161.4 101.9h0.55M166.9 97.0h0.55M155.8 95.0h0.55M152.1 81.8h0.55M170.1 89.7h0.55M167.5 102.0h0.55M165.7 96.5h0.55M158.3 86.9h0.55M167.7 90.1h0.55M164.9 79.9h0.55M178.7 92.2h0.55M142.3 85.0h0.55M152.2 82.2h0.55M166.5 85.0h0.55M165.8 96.3h0.55M162.9 81.4h0.55M159.4 73.2h0.55M171.9 88.4h0.55M168.5 88.4h0.55M163.0 83.9h0.55M163.5 98.7h0.55M172.4 95.7h0.55M153.7 96.2h0.55M152.7 94.3h0.55M159.8 97.1h0.55M153.5 94.0h0.55M166.7 90.2h0.55M165.5 97.8h0.55M165.6 92.8h0.55M159.0 87.8h0.55M156.5 93.6h0.55M163.5 78.9h0.55M146.2 92.2h0.55M149.9 87.0h0.55M153.5 81.7h0.55M150.9 95.0h0.55M152.6 99.4h0.55M165.1 95.2h0.55M159.7 86.3h0.55M149.0 82.2h0.55M143.4 89.1h0.55M173.3 86.9h0.55M162.5 92.8h0.55M163.3 102.5h0.55M156.9 96.7h0.55M153.6 93.7h0.55M169.6 93.9h0.55M152.1 81.5h0.55M157.4 96.0h0.55M160.3 92.6h0.55M154.2 86.6h0.55M156.5 90.9h0.55M156.5 90.1h0.55M156.8 95.3h0.55M170.9 88.2h0.55M160.6 98.7h0.55M167.1 91.7h0.55M154.1 88.3h0.55M156.4 100.5h0.55M155.8 90.4h0.55M149.2 91.4h0.55M160.2 84.6h0.55M150.3 99.0h0.55M152.0 91.2h0.55M160.2 95.0h0.55M162.2 89.6h0.55M154.6 93.2h0.55M161.2 83.2h0.55M168.5 88.5h0.55M170.2 83.2h0.55M166.5 89.4h0.55M158.0 96.2h0.55M169.1 88.1h0.55M158.2 90.9h0.55M158.1 92.6h0.55M166.9 102.1h0.55M162.8 96.6h0.55M163.7 80.8h0.55M154.5 100.0h0.55M158.4 80.5h0.55M162.5 81.8h0.55M163.9 92.7h0.55M164.2 101.4h0.55M147.9 86.2h0.55M175.9 83.5h0.55M165.9 89.2h0.55M154.6 92.3h0.55M168.6 100.0h0.55M159.5 91.7h0.55M157.7 88.7h0.55M171.8 88.6h0.55M152.7 92.1h0.55M153.4 94.3h0.55M154.4 84.8h0.55M156.4 90.0h0.55M183.0 96.0h0.55M153.4 94.3h0.55M161.6 76.8h0.55M165.7 87.4h0.55M169.3 93.8h0.55M154.5 89.0h0.55M174.2 98.8h0.55M161.8 89.5h0.55M154.5 94.6h0.55M155.1 94.3h0.55M163.9 88.2h0.55M160.6 87.8h0.55M157.5 88.8h0.55M161.6 84.1h0.55M176.9 91.4h0.55M170.6 86.7h0.55M157.1 91.2h0.55M155.6 84.2h0.55M167.5 101.5h0.55M153.1 94.5h0.55M147.7 100.1h0.55M153.7 87.1h0.55M151.2 88.8h0.55M150.0 94.3h0.55M158.7 93.4h0.55M154.7 93.2h0.55M157.9 96.4h0.55M162.8 94.4h0.55M156.6 98.6h0.55M150.1 87.8h0.55M153.7 97.7h0.55M166.2 68.5h0.55M152.7 93.3h0.55M152.3 89.6h0.55M163.2 88.0h0.55M153.7 91.1h0.55M153.7 90.6h0.55M162.0 93.7h0.55M159.3 84.7h0.55M156.3 87.3h0.55M157.4 93.6h0.55M167.8 87.9h0.55M162.6 88.5h0.55M155.4 94.6h0.55M157.3 92.5h0.55M171.4 87.6h0.55M158.7 86.1h0.55M162.8 94.6h0.55M162.5 96.1h0.55M156.8 95.2h0.55M161.6 94.5h0.55M153.7 89.4h0.55M158.5 85.9h0.55M168.5 90.7h0.55M159.3 90.2h0.55M171.2 87.1h0.55M161.9 92.7h0.55M161.3 87.9h0.55M154.3 88.9h0.55M168.0 95.7h0.55M170.4 86.5h0.55M162.6 88.4h0.55M160.5 88.3h0.55M158.8 90.7h0.55M164.0 96.4h0.55M168.0 94.5h0.55M166.8 82.0h0.55M162.3 89.1h0.55M160.7 84.7h0.55M161.5 93.1h0.55M159.4 87.9h0.55M153.0 98.0h0.55M154.8 89.2h0.55M153.8 92.3h0.55M170.4 96.0h0.55M163.9 86.7h0.55M164.3 81.7h0.55M156.8 94.1h0.55M160.4 93.1h0.55M165.9 79.0h0.55M179.8 90.5h0.55M164.2 87.7h0.55M161.4 86.9h0.55M165.1 91.2h0.55M160.8 81.7h0.55M155.0 82.0h0.55M147.9 98.9h0.55M163.9 95.0h0.55M150.2 90.4h0.55M168.8 91.6h0.55M156.6 92.9h0.55M157.1 91.2h0.55M152.7 87.3h0.55M155.6 94.8h0.55M162.2 83.6h0.55M156.6 95.0h0.55M158.9 102.2h0.55M156.2 90.6h0.55M163.5 86.1h0.55M162.7 80.7h0.55M163.2 98.2h0.55M152.8 86.6h0.55M154.4 92.4h0.55M150.8 95.5h0.55M164.8 85.0h0.55M141.5 91.5h0.55M170.5 99.7h0.55M157.8 85.7h0.55M155.3 89.2h0.55M161.1 91.3h0.55M158.0 80.8h0.55M157.4 88.4h0.55M162.6 96.9h0.55M156.2 85.2h0.55M171.1 91.5h0.55M150.7 93.5h0.55M165.9 89.3h0.55M161.7 87.3h0.55M152.7 89.8h0.55M165.9 88.4h0.55M169.1 85.9h0.55M148.9 89.7h0.55M164.1 90.3h0.55M159.3 76.7h0.55M161.5 92.0h0.55M148.3 89.9h0.55M164.3 91.6h0.55M168.2 78.4h0.55M155.2 91.2h0.55M157.6 80.8h0.55M162.2 98.1h0.55M158.6 95.2h0.55M150.4 87.7h0.55M151.7 99.1h0.55M149.5 94.8h0.55M160.2 84.8h0.55M172.8 87.0h0.55M169.2 93.9h0.55M158.3 101.7h0.55M158.5 88.4h0.55M166.5 100.2h0.55M164.7 92.3h0.55M168.8 86.6h0.55M163.1 99.8h0.55M157.2 85.5h0.55M164.1 90.0h0.55M172.3 77.7h0.55M161.9 89.1h0.55M174.5 96.5h0.55M154.0 83.2h0.55M158.0 81.4h0.55M161.7 101.3h0.55M159.4 95.4h0.55M166.6 86.5h0.55M162.4 90.8h0.55M170.6 83.7h0.55M151.8 97.6h0.55M158.1 94.8h0.55M174.1 93.6h0.55M157.8 90.8h0.55M152.7 96.3h0.55M154.2 85.4h0.55M152.0 91.9h0.55M159.0 100.1h0.55M161.9 90.2h0.55M162.4 92.3h0.55M165.4 97.1h0.55M159.0 80.7h0.55M165.8 77.8h0.55M167.9 100.3h0.55M150.3 93.4h0.55M153.1 94.5h0.55M163.4 88.5h0.55M151.9 91.7h0.55M167.6 96.5h0.55M155.9 90.8h0.55M155.7 87.7h0.55M161.0 85.5h0.55M176.4 81.6h0.55M152.2 75.5h0.55M159.7 88.6h0.55M154.8 88.3h0.55M159.0 87.2h0.55M159.6 83.9h0.55M158.4 86.5h0.55M160.3 89.0h0.55M163.7 97.6h0.55M159.8 97.8h0.55M158.2 97.9h0.55M153.9 95.7h0.55M163.0 85.3h0.55M160.9 87.2h0.55M159.0 88.4h0.55M155.6 95.5h0.55M156.6 89.8h0.55M153.3 98.5h0.55M172.4 93.2h0.55M164.4 93.8h0.55M174.1 77.2h0.55M148.0 92.7h0.55M148.9 84.9h0.55M162.1 97.4h0.55M158.7 90.6h0.55M156.8 96.4h0.55M155.8 96.0h0.55M158.2 88.1h0.55M142.0 87.1h0.55M177.1 98.6h0.55M157.7 100.4h0.55M158.6 86.6h0.55M166.7 81.3h0.55M158.9 97.4h0.55M162.4 82.4h0.55M165.1 91.5h0.55M165.6 78.3h0.55M164.0 98.8h0.55M167.9 94.2h0.55M168.1 89.2h0.55M161.3 83.8h0.55M164.3 73.6h0.55M156.9 91.2h0.55M166.2 96.1h0.55M151.6 93.2h0.55M150.9 83.3h0.55M155.3 96.5h0.55M164.2 94.0h0.55M156.6 81.5h0.55M158.5 80.7h0.55M169.5 85.4h0.55M172.2 99.7h0.55M176.0 87.7h0.55M165.6 100.0h0.55M164.6 80.9h0.55M153.5 90.2h0.55M160.3 91.8h0.55M168.4 96.5h0.55M164.8 94.2h0.55M154.6 90.1h0.55M159.0 87.1h0.55M164.8 93.7h0.55M162.2 94.7h0.55M156.7 95.8h0.55M167.0 97.4h0.55M147.8 84.7h0.55M164.8 85.8h0.55M154.9 96.8h0.55M150.5 92.9h0.55M158.4 79.3h0.55M168.6 85.5h0.55M159.4 89.5h0.55M160.5 90.0h0.55M157.4 94.1h0.55M157.6 94.9h0.55M159.6 82.7h0.55M161.8 87.2h0.55M170.6 101.9h0.55M141.3 85.4h0.55M162.2 92.1h0.55M166.6 101.1h0.55M148.2 91.0h0.55M164.8 91.2h0.55M167.1 85.8h0.55M157.5 86.7h0.55M162.1 99.1h0.55M156.2 95.5h0.55M151.7 93.4h0.55M156.5 88.5h0.55M155.6 102.4h0.55M155.9 92.8h0.55M165.0 86.2h0.55M166.5 84.6h0.55M163.9 87.5h0.55M154.9 93.0h0.55M153.3 78.5h0.55M171.5 86.4h0.55M153.3 96.8h0.55M154.3 97.2h0.55M172.3 89.5h0.55M162.5 84.9h0.55M168.6 89.6h0.55M170.8 99.0h0.55M159.4 94.2h0.55M166.8 95.9h0.55M152.3 95.9h0.55M160.1 86.8h0.55M166.0 92.4h0.55M170.1 85.7h0.55M160.5 84.7h0.55M164.2 94.8h0.55M154.6 83.0h0.55M166.8 101.4h0.55M151.3 93.1h0.55M157.9 82.8h0.55M159.4 87.8h0.55M153.9 84.5h0.55M156.2 97.8h0.55M158.2 95.3h0.55M167.0 92.0h0.55M164.8 102.5h0.55M162.7 91.9h0.55M162.9 90.0h0.55M163.1 85.6h0.55M153.7 83.7h0.55M158.0 94.1h0.55M158.8 97.0h0.55M165.6 91.0h0.55M162.5 93.5h0.55M164.2 92.0h0.55M152.2 102.8h0.55M171.3 93.0h0.55M155.9 99.2h0.55M153.5 90.4h0.55M160.5 86.0h0.55M162.2 81.4h0.55M158.9 84.4h0.55M170.5 94.2h0.55M156.4 84.9h0.55M156.9 98.6h0.55M151.0 88.9h0.55M169.3 79.2h0.55M157.7 92.5h0.55M157.5 88.1h0.55M154.3 95.9h0.55M156.5 84.7h0.55M162.8 91.9h0.55M166.5 82.0h0.55M167.9 81.2h0.55M155.0 90.8h0.55M161.6 94.8h0.55M170.7 88.0h0.55M164.6 98.8h0.55M166.0 79.4h0.55M169.3 95.0h0.55M164.2 92.9h0.55M161.1 81.5h0.55M178.1 94.1h0.55M150.3 89.3h0.55M162.2 99.1h0.55M165.3 81.1h0.55M161.5 95.7h0.55M160.8 89.4h0.55M158.0 101.3h0.55M148.3 88.8h0.55M152.8 89.5h0.55M151.0 90.7h0.55M155.8 90.8h0.55M156.8 97.9h0.55M163.1 87.6h0.55M167.5 86.3h0.55M154.8 90.9h0.55M160.9 91.2h0.55M175.1 100.7h0.55M166.1 87.7h0.55M149.6 87.3h0.55M165.8 95.1h0.55M161.3 94.7h0.55M161.0 84.6h0.55M163.2 88.9h0.55M166.5 82.2h0.55M162.7 96.2h0.55M167.7 85.7h0.55M163.2 86.7h0.55M166.9 88.4h0.55M164.6 85.1h0.55M154.7 91.4h0.55M150.3 96.8h0.55M173.8 92.9h0.55M153.1 92.0h0.55M167.9 80.1h0.55M168.4 90.8h0.55M159.4 87.1h0.55M169.6 97.2h0.55M157.0 89.7h0.55M158.0 93.4h0.55M151.1 82.0h0.55M174.9 86.4h0.55M161.5 92.0h0.55M165.7 88.8h0.55M149.6 91.2h0.55M164.2 101.7h0.55M148.2 82.9h0.55M156.1 83.1h0.55M165.5 99.6h0.55M170.8 92.5h0.55M172.0 86.5h0.55M160.6 93.6h0.55M151.8 97.1h0.55M163.5 86.3h0.55M157.8 97.2h0.55M166.0 90.2h0.55M164.3 100.3h0.55M173.1 76.8h0.55M160.0 90.5h0.55M164.2 98.9h0.55M158.9 87.3h0.55M157.7 94.5h0.55M156.9 98.5h0.55M159.3 91.9h0.55M156.6 88.6h0.55M161.2 86.5h0.55M150.5 86.6h0.55M157.6 96.5h0.55M164.9 85.0h0.55M155.4 95.9h0.55M153.7 91.5h0.55M173.3 89.8h0.55M157.1 86.8h0.55M173.0 88.2h0.55M160.3 78.1h0.55M164.3 95.3h0.55M166.9 88.3h0.55M156.3 99.3h0.55M155.3 86.2h0.55M161.3 86.0h0.55M160.3 90.9h0.55M166.0 88.7h0.55M157.4 83.7h0.55M156.1 78.0h0.55M162.4 85.7h0.55M155.6 87.1h0.55M154.3 95.8h0.55M162.7 96.1h0.55M157.9 84.6h0.55M151.4 96.3h0.55M166.7 84.5h0.55M159.1 86.7h0.55M145.0 88.4h0.55M155.3 85.4h0.55M167.6 96.1h0.55M160.6 101.3h0.55M155.8 84.6h0.55M162.1 93.8h0.55M155.9 91.2h0.55M158.0 94.4h0.55M163.2 87.5h0.55M153.8 99.4h0.55M173.1 95.6h0.55M142.4 94.8h0.55M166.7 86.8h0.55M162.8 91.0h0.55M173.6 95.9h0.55M165.1 98.0h0.55M168.4 91.9h0.55M165.3 95.7h0.55M159.2 100.9h0.55M148.0 90.2h0.55M158.6 89.7h0.55M163.6 91.8h0.55M162.3 75.3h0.55M154.2 95.2h0.55" stroke="#666" stroke-width="0.55" opacity="0.5"/>
<path d="M166.5 74.5h0.55M175.1 74.4h0.55M154.9 60.0h0.55M165.1 86.2h0.55M165.8 67.6h0.55M167.4 79.3h0.55M156.0 61.1h0.55M144.7 55.1h0.55M163.5 74.4h0.55M164.8 76.8h0.55M164.8 63.3h0.55M159.1 92.4h0.55M158.2 68.3h0.55M162.6 83.9h0.55M157.5 81.9h0.55M157.5 61.0h0.55M164.8 76.6h0.55M166.5 65.8h0.55M156.5 74.5h0.55M152.2 71.9h0.55M157.0 80.9h0.55M167.3 67.0h0.55M161.3 77.5h0.55M167.3 79.1h0.55M166.9 82.2h0.55M170.1 66.5h0.55M161.1 78.8h0.55M163.9 79.2h0.55M168.3 81.8h0.55M160.6 54.0h0.55M157.3 57.4h0.55M169.8 57.0h0.55M172.2 68.5h0.55M158.0 62.4h0.55M166.3 69.2h0.55M165.9 70.6h0.55M164.5 81.3h0.55M160.9 80.2h0.55M158.1 68.6h0.55M156.0 71.4h0.55M169.0 58.4h0.55M163.1 67.7h0.55M166.6 71.0h0.55M152.3 68.5h0.55M169.1 88.6h0.55M168.9 52.2h0.55M164.9 67.8h0.55M175.6 72.5h0.55M164.4 79.5h0.55M164.1 75.6h0.55M157.5 58.8h0.55M159.3 64.7h0.55M166.0 76.6h0.55M165.1 73.6h0.55M170.2 81.7h0.55M159.6 77.3h0.55M166.1 71.0h0.55M157.6 69.8h0.55M162.1 78.5h0.55M159.3 67.0h0.55M149.8 70.5h0.55M167.8 82.0h0.55M157.6 69.2h0.55M157.8 76.4h0.55M164.0 51.8h0.55M156.1 66.2h0.55M157.4 72.7h0.55M147.6 77.0h0.55M162.9 71.4h0.55M166.9 73.2h0.55M160.3 65.8h0.55M169.6 72.1h0.55M171.8 78.9h0.55M167.1 65.0h0.55M161.1 61.5h0.55M167.3 80.8h0.55M167.4 87.4h0.55M163.8 84.1h0.55M169.7 67.4h0.55M165.7 70.6h0.55M155.8 69.4h0.55M161.5 77.3h0.55M163.6 79.3h0.55M155.6 66.9h0.55M154.4 77.9h0.55M163.4 76.0h0.55M165.9 84.8h0.55M156.8 71.7h0.55M166.0 75.6h0.55M157.2 58.7h0.55M155.6 69.5h0.55M168.3 78.1h0.55M163.8 62.7h0.55M152.0 66.3h0.55M153.1 72.6h0.55M163.3 70.2h0.55M157.6 65.5h0.55M157.7 68.4h0.55M154.5 77.3h0.55M161.2 84.3h0.55M176.7 80.4h0.55M153.0 75.4h0.55M172.8 84.0h0.55M157.5 60.7h0.55M155.6 82.2h0.55M167.9 73.8h0.55M161.3 72.3h0.55M161.1 67.9h0.55M169.5 73.0h0.55M174.7 76.7h0.55M165.1 67.8h0.55M156.3 65.5h0.55M156.2 76.5h0.55M162.1 85.4h0.55M168.8 82.3h0.55M165.2 82.1h0.55M164.4 67.8h0.55M169.4 69.2h0.55M149.4 70.0h0.55M168.1 88.4h0.55M163.2 69.5h0.55M162.8 82.6h0.55M165.3 79.7h0.55M161.0 66.4h0.55M156.3 76.8h0.55M150.7 84.2h0.55M164.8 78.8h0.55M155.5 75.4h0.55M162.2 82.2h0.55M152.5 62.0h0.55M162.6 69.3h0.55M165.7 73.7h0.55M160.5 79.2h0.55M165.3 83.4h0.55M158.4 68.4h0.55M159.9 73.8h0.55M164.0 83.2h0.55M162.9 82.7h0.55M165.8 68.5h0.55M163.7 66.0h0.55M168.9 70.5h0.55M172.9 76.3h0.55M166.9 54.0h0.55M168.8 84.7h0.55M165.3 71.7h0.55M156.8 81.7h0.55M168.3 85.3h0.55M168.3 70.0h0.55M156.5 61.6h0.55M162.1 59.8h0.55M153.9 86.6h0.55M165.1 68.0h0.55M172.1 73.0h0.55M164.1 62.3h0.55M158.9 69.1h0.55M169.7 75.5h0.55M166.3 77.5h0.55M164.4 73.1h0.55M168.1 65.1h0.55M161.8 71.5h0.55M169.7 71.0h0.55M150.5 83.0h0.55M166.3 68.5h0.55M158.2 63.3h0.55M165.4 76.5h0.55M158.4 65.9h0.55M153.3 83.8h0.55M166.2 83.8h0.55M155.0 70.2h0.55M148.5 70.1h0.55M161.7 78.5h0.55M171.0 60.2h0.55M173.7 81.7h0.55M172.3 83.9h0.55M151.6 75.2h0.55M162.7 74.1h0.55M157.1 68.2h0.55M164.2 66.5h0.55M151.5 76.5h0.55M166.8 75.9h0.55M164.2 68.7h0.55M170.7 81.5h0.55M170.3 70.5h0.55M163.6 81.3h0.55M153.3 65.5h0.55M166.5 76.1h0.55M159.0 78.5h0.55M163.3 81.4h0.55M170.1 71.1h0.55M151.4 73.8h0.55M161.3 74.5h0.55M157.0 82.4h0.55M164.3 66.4h0.55M165.7 71.7h0.55M165.0 59.2h0.55M165.5 86.7h0.55M158.1 75.0h0.55M159.4 70.8h0.55M162.4 72.6h0.55M164.1 79.7h0.55M162.3 70.9h0.55M157.3 75.6h0.55M161.0 61.9h0.55M164.0 63.3h0.55M156.1 82.8h0.55M157.3 73.8h0.55M165.9 60.5h0.55M176.7 74.3h0.55M163.9 79.7h0.55M156.3 85.9h0.55M172.6 67.2h0.55M166.3 74.8h0.55M156.8 66.9h0.55M164.7 59.8h0.55M165.4 65.4h0.55M169.3 73.0h0.55M157.4 69.1h0.55M169.4 71.3h0.55M160.7 69.3h0.55M164.7 75.0h0.55M155.7 91.3h0.55M170.4 77.9h0.55M164.3 81.5h0.55M157.7 89.2h0.55M165.6 62.2h0.55M167.3 63.6h0.55M168.7 66.9h0.55M168.1 63.0h0.55M151.7 82.1h0.55M156.4 63.8h0.55M162.5 68.0h0.55M164.0 81.1h0.55M155.4 66.6h0.55M169.4 75.5h0.55M165.7 80.1h0.55M152.1 68.1h0.55M155.5 83.0h0.55M170.0 78.8h0.55M151.8 76.9h0.55M175.4 72.3h0.55M172.8 65.7h0.55M155.3 89.1h0.55M165.3 69.0h0.55M169.1 71.4h0.55M154.4 72.6h0.55M151.2 72.2h0.55M171.9 78.1h0.55M161.2 67.3h0.55M152.3 73.3h0.55M169.2 81.3h0.55M169.1 64.9h0.55M165.2 73.3h0.55M162.1 63.4h0.55M156.6 72.4h0.55M152.3 75.4h0.55M167.1 66.8h0.55M165.4 88.7h0.55M153.6 62.1h0.55M156.8 82.9h0.55M157.4 72.3h0.55M159.5 76.1h0.55M161.7 65.6h0.55M171.1 78.4h0.55M162.7 76.9h0.55M169.0 60.4h0.55M162.9 72.2h0.55M168.3 71.7h0.55M161.5 80.3h0.55M168.0 63.7h0.55M157.8 79.4h0.55M151.9 76.2h0.55M168.8 85.8h0.55M154.5 62.8h0.55M155.4 81.3h0.55M171.4 51.9h0.55M160.3 63.0h0.55M162.8 70.9h0.55M164.1 64.2h0.55M165.5 79.5h0.55M168.5 69.4h0.55M160.8 74.1h0.55M156.6 73.1h0.55M168.3 79.0h0.55M161.7 67.8h0.55M159.3 81.7h0.55M166.3 71.9h0.55M166.7 76.9h0.55M163.7 78.4h0.55M149.7 77.6h0.55M175.1 67.2h0.55M162.1 69.1h0.55M153.8 68.8h0.55M165.8 75.4h0.55M170.4 75.1h0.55M169.6 56.1h0.55M164.9 56.9h0.55M165.4 79.6h0.55M151.6 64.3h0.55M145.9 77.1h0.55M170.1 67.1h0.55" stroke="#777" stroke-width="0.55" opacity="0.45"/>
<path d="M183.4 55.4h0.55M182.3 63.0h0.55M170.3 61.9h0.55M190.4 50.9h0.55M190.5 65.7h0.55M184.8 60.1h0.55M163.5 74.2h0.55M173.2 59.6h0.55M184.3 59.0h0.55M188.4 54.9h0.55M172.5 64.2h0.55M156.7 57.5h0.55M170.6 60.7h0.55M185.9 67.3h0.55M172.6 69.6h0.55M192.9 61.7h0.55M177.0 58.0h0.55M194.5 59.0h0.55M169.5 52.7h0.55M179.5 69.3h0.55M186.7 64.3h0.55M171.9 50.9h0.55M211.0 51.6h0.55M191.0 55.4h0.55M176.1 70.9h0.55M184.3 50.2h0.55M176.8 59.2h0.55M178.1 60.9h0.55M191.8 52.4h0.55M181.6 57.7h0.55M195.2 70.4h0.55M179.4 67.9h0.55M187.9 49.9h0.55M185.5 62.7h0.55M190.6 59.8h0.55M177.0 67.5h0.55M184.0 51.4h0.55M183.7 60.4h0.55M166.8 64.6h0.55M187.4 52.2h0.55M182.7 59.5h0.55M172.8 59.4h0.55M186.2 62.7h0.55M188.4 55.6h0.55M176.2 77.9h0.55M184.4 64.4h0.55M192.5 52.5h0.55M183.2 54.3h0.55M180.6 52.2h0.55M178.4 60.5h0.55M171.5 60.2h0.55M189.3 64.9h0.55M178.7 62.0h0.55M171.6 55.1h0.55M153.8 56.7h0.55M179.8 63.9h0.55M173.9 65.0h0.55M177.9 50.9h0.55M179.9 56.4h0.55M177.8 65.6h0.55M183.6 55.5h0.55M188.7 60.7h0.55M175.9 53.9h0.55M182.6 67.8h0.55M175.0 57.7h0.55M187.0 56.7h0.55M177.8 63.1h0.55M177.5 59.0h0.55M182.6 62.0h0.55M180.0 68.6h0.55M174.5 60.1h0.55M182.1 60.8h0.55M186.1 70.7h0.55M179.3 59.2h0.55M174.8 58.9h0.55M190.5 66.6h0.55M180.5 51.7h0.55M172.3 68.5h0.55M171.6 59.2h0.55M178.0 55.7h0.55M190.1 57.1h0.55M190.8 55.2h0.55M186.2 65.1h0.55M169.1 56.0h0.55M176.5 45.7h0.55M191.6 55.5h0.55M187.3 64.7h0.55M182.1 58.3h0.55M187.2 55.5h0.55M177.6 52.4h0.55M183.2 67.8h0.55M184.4 55.9h0.55M172.9 64.0h0.55M189.1 45.9h0.55M176.8 57.8h0.55M186.1 53.6h0.55M171.3 57.9h0.55M193.0 60.8h0.55M199.9 56.8h0.55M175.2 62.4h0.55M186.4 67.6h0.55M171.9 60.5h0.55M197.0 51.7h0.55M168.3 66.6h0.55M177.2 55.0h0.55M175.6 59.7h0.55M195.5 67.2h0.55M170.8 60.6h0.55M183.3 58.7h0.55M189.8 58.3h0.55M182.8 51.3h0.55M176.0 56.9h0.55M182.8 51.2h0.55M175.6 62.8h0.55M185.9 56.6h0.55M185.2 59.8h0.55M182.1 67.1h0.55M188.4 65.5h0.55M176.2 61.9h0.55M177.4 65.6h0.55M182.2 64.8h0.55M184.9 59.8h0.55M176.0 64.3h0.55M185.1 69.5h0.55M185.5 58.0h0.55M180.6 61.6h0.55M178.7 48.8h0.55M175.7 54.0h0.55M191.6 60.6h0.55M173.3 56.9h0.55M194.4 61.5h0.55M177.0 57.9h0.55M166.7 58.6h0.55M185.8 59.5h0.55M181.3 55.6h0.55M175.8 64.5h0.55M178.6 54.9h0.55M177.8 60.2h0.55M185.9 68.7h0.55M169.5 60.8h0.55M170.8 55.6h0.55M190.7 56.3h0.55M184.6 63.8h0.55M178.1 64.5h0.55M193.3 55.0h0.55M175.3 55.5h0.55M198.5 73.7h0.55M173.4 54.0h0.55M182.5 70.4h0.55M182.0 61.2h0.55M193.2 55.5h0.55M185.5 58.2h0.55M184.5 57.4h0.55M185.8 57.4h0.55M188.7 62.5h0.55M189.4 48.1h0.55M174.7 67.2h0.55M175.5 63.0h0.55M182.2 54.3h0.55M165.9 49.0h0.55M165.0 71.6h0.55M182.7 48.8h0.55M183.6 62.0h0.55M176.6 63.7h0.55M172.9 51.5h0.55M171.9 68.2h0.55M181.6 49.1h0.55M195.2 47.5h0.55M176.6 51.1h0.55M183.5 54.0h0.55M179.0 69.5h0.55M177.4 51.3h0.55M186.8 73.0h0.55M165.9 61.1h0.55M174.8 66.8h0.55M182.7 63.4h0.55M180.7 54.5h0.55M165.6 57.7h0.55M195.2 63.0h0.55M201.3 62.8h0.55M174.4 73.7h0.55M188.2 53.4h0.55M184.0 50.4h0.55M180.7 51.2h0.55M167.9 50.5h0.55M186.2 58.5h0.55M183.0 62.1h0.55M171.6 73.4h0.55M188.6 60.5h0.55M174.3 55.4h0.55M189.8 60.7h0.55M181.1 73.8h0.55M176.1 56.2h0.55M198.4 53.6h0.55M192.6 63.2h0.55M186.3 64.9h0.55M171.9 64.9h0.55M176.6 64.2h0.55M185.0 66.9h0.55M175.2 72.7h0.55" stroke="#777" stroke-width="0.55" opacity="0.4"/>
<path d="M146.8 86.6h0.5M187.2 99.6h0.5M144.0 66.6h0.5M195.6 93.1h0.5M201.6 100.2h0.5M158.8 75.8h0.5M191.3 47.1h0.5M210.5 56.2h0.5M163.2 70.4h0.5M204.4 67.6h0.5M187.0 70.7h0.5M201.1 81.7h0.5M148.6 56.8h0.5M152.4 70.2h0.5M143.3 40.4h0.5M207.3 84.9h0.5M199.6 76.0h0.5M217.0 52.2h0.5M159.7 90.9h0.5M182.9 73.6h0.5M187.9 78.1h0.5M184.4 56.2h0.5M208.5 78.7h0.5M198.5 47.6h0.5M142.3 62.8h0.5M177.6 55.4h0.5M192.1 99.2h0.5M165.1 94.2h0.5M197.4 82.1h0.5M204.7 51.1h0.5M146.3 49.5h0.5M171.1 59.0h0.5M194.7 52.8h0.5M182.7 53.5h0.5M202.1 72.4h0.5M161.0 77.2h0.5M140.5 74.1h0.5M201.1 90.6h0.5M171.2 63.2h0.5M214.9 42.6h0.5M140.5 53.2h0.5M173.2 56.5h0.5M177.4 44.1h0.5M171.6 43.2h0.5M156.5 43.6h0.5M166.5 46.7h0.5M147.4 70.9h0.5M168.1 66.8h0.5M166.4 93.4h0.5M195.0 85.6h0.5M149.1 61.8h0.5M212.3 46.6h0.5M155.7 75.2h0.5M169.5 99.3h0.5M210.8 62.5h0.5M217.2 99.4h0.5M217.0 67.9h0.5M198.4 55.7h0.5M200.9 78.4h0.5M170.1 91.8h0.5M199.8 46.2h0.5M148.2 96.2h0.5M189.1 64.2h0.5M156.3 64.2h0.5M172.3 82.8h0.5M148.5 90.6h0.5M141.5 46.8h0.5M151.8 66.5h0.5M174.6 85.3h0.5M200.4 67.8h0.5M158.3 100.1h0.5M148.7 79.7h0.5M145.0 48.8h0.5M175.6 46.5h0.5M171.5 66.4h0.5M179.6 75.0h0.5M183.8 67.5h0.5M162.0 92.1h0.5M159.7 77.7h0.5M217.4 97.4h0.5M142.2 96.9h0.5M190.4 73.0h0.5M154.8 64.1h0.5M197.4 51.1h0.5M172.4 83.2h0.5M202.1 78.7h0.5M216.7 72.6h0.5M169.5 96.3h0.5M172.3 64.7h0.5M210.1 70.8h0.5" stroke="#888" stroke-width="0.5" opacity="0.45"/>
<path d="M199.2 59.0h0.55M204.2 71.0h0.55M205.3 65.5h0.55M194.3 67.8h0.55M193.7 66.8h0.55M200.7 63.5h0.55M191.1 68.2h0.55M197.7 59.9h0.55M218.7 63.0h0.55M203.7 65.8h0.55M195.9 51.4h0.55M195.6 71.8h0.55M194.2 63.9h0.55M191.2 63.3h0.55M197.4 59.3h0.55M205.5 63.7h0.55M207.1 57.3h0.55M206.0 59.2h0.55M183.8 61.0h0.55M201.6 64.6h0.55M193.4 64.3h0.55M200.7 61.0h0.55M198.8 61.9h0.55M196.7 67.6h0.55M189.5 60.7h0.55M198.6 72.3h0.55M199.2 67.9h0.55M203.2 61.2h0.55M199.8 57.6h0.55M192.1 65.1h0.55M211.3 69.9h0.55M212.4 65.2h0.55M196.9 65.1h0.55M188.9 56.9h0.55M217.9 68.7h0.55M212.5 58.9h0.55M205.5 72.6h0.55M186.9 64.8h0.55M213.2 73.0h0.55M208.3 68.1h0.55M194.4 54.5h0.55M180.3 64.1h0.55M211.1 67.7h0.55M194.6 71.9h0.55M200.6 63.9h0.55M205.0 67.2h0.55M208.6 56.0h0.55M197.9 65.6h0.55M204.9 63.6h0.55M202.2 67.8h0.55M198.5 64.2h0.55M204.2 63.5h0.55M198.0 64.0h0.55M198.0 67.9h0.55M198.5 72.0h0.55M187.2 69.4h0.55M194.4 70.4h0.55M190.6 59.6h0.55M205.1 57.5h0.55M187.2 59.2h0.55M214.9 59.3h0.55M200.8 67.5h0.55M199.2 64.1h0.55M189.2 63.3h0.55M195.4 76.5h0.55M212.6 63.4h0.55M199.9 69.4h0.55M186.6 65.1h0.55M206.3 59.2h0.55M212.6 56.2h0.55M195.6 61.8h0.55M199.0 67.0h0.55M211.8 67.6h0.55M180.0 71.4h0.55M209.3 67.6h0.55M194.1 74.5h0.55M202.7 61.3h0.55M209.4 61.4h0.55M206.0 69.0h0.55M203.8 64.2h0.55M209.9 70.5h0.55M194.2 73.3h0.55M201.0 67.0h0.55M193.5 63.3h0.55M202.2 52.3h0.55M195.6 63.7h0.55M191.9 66.6h0.55M192.0 58.2h0.55M207.1 67.3h0.55M185.3 66.4h0.55M188.6 66.1h0.55M184.3 69.9h0.55M189.2 73.0h0.55M184.1 59.8h0.55M188.3 64.3h0.55M189.3 66.8h0.55M211.2 73.2h0.55M199.3 65.6h0.55M192.2 68.5h0.55M183.3 65.8h0.55M192.6 66.3h0.55M209.6 66.5h0.55M195.4 71.1h0.55M205.5 68.0h0.55M201.3 70.0h0.55M199.0 65.9h0.55M196.4 63.8h0.55M197.3 64.9h0.55M195.6 70.3h0.55M192.9 65.7h0.55M198.9 57.3h0.55M206.8 67.5h0.55M203.1 59.2h0.55M186.3 53.6h0.55M203.4 64.5h0.55M201.7 73.8h0.55M194.1 69.4h0.55M205.6 68.1h0.55M203.7 60.8h0.55M213.7 59.4h0.55M181.5 59.6h0.55M204.7 62.9h0.55M190.0 61.1h0.55M199.8 65.4h0.55M202.9 66.1h0.55M210.6 60.2h0.55M200.4 67.5h0.55M192.3 53.6h0.55M205.3 61.8h0.55M202.9 62.0h0.55M208.1 61.0h0.55M177.2 63.7h0.55M199.2 63.6h0.55M174.8 66.1h0.55M200.9 66.8h0.55M198.5 55.9h0.55M192.1 69.5h0.55M202.2 67.1h0.55M200.4 71.2h0.55M207.4 72.3h0.55M210.3 73.9h0.55M199.7 71.6h0.55M197.2 64.9h0.55M192.8 72.6h0.55M208.9 65.2h0.55M198.3 63.3h0.55M197.2 65.6h0.55M204.0 74.5h0.55M194.2 70.6h0.55M197.1 66.0h0.55M199.0 65.3h0.55M206.8 60.7h0.55M190.5 69.9h0.55M189.5 46.7h0.55M194.0 65.7h0.55M193.3 63.4h0.55M192.6 62.0h0.55M204.9 69.6h0.55M194.9 63.6h0.55M213.5 72.8h0.55M206.7 58.7h0.55M199.2 76.0h0.55M198.0 62.1h0.55M204.5 68.8h0.55M218.3 62.2h0.55M202.6 62.1h0.55M191.4 65.3h0.55M199.4 68.9h0.55M191.7 61.4h0.55M196.7 62.3h0.55M199.5 58.3h0.55M194.7 58.5h0.55M210.0 65.9h0.55M193.9 69.3h0.55M198.3 69.1h0.55M203.3 64.6h0.55M203.7 65.9h0.55M197.2 52.0h0.55M200.3 60.6h0.55M198.5 62.6h0.55M171.6 67.0h0.55M205.1 67.1h0.55M200.9 64.3h0.55M197.9 65.1h0.55M206.5 76.1h0.55M184.7 60.5h0.55M209.3 65.3h0.55M194.5 62.6h0.55M191.4 61.6h0.55M190.9 63.3h0.55M202.2 65.7h0.55M194.0 61.1h0.55M205.1 74.4h0.55M187.7 64.0h0.55M208.9 64.0h0.55M197.5 72.9h0.55M213.9 72.8h0.55M202.5 71.6h0.55M195.8 70.8h0.55M197.1 55.4h0.55M183.9 62.2h0.55M197.2 63.5h0.55M189.0 61.1h0.55M193.8 72.5h0.55M216.4 69.8h0.55M190.6 60.4h0.55M203.8 57.8h0.55M203.5 56.7h0.55M196.8 58.4h0.55M198.3 65.6h0.55M193.8 68.0h0.55M213.8 61.9h0.55M203.7 72.5h0.55M207.6 63.7h0.55M184.9 66.9h0.55M197.9 59.0h0.55M190.3 63.3h0.55M208.1 58.2h0.55M196.8 65.0h0.55M192.9 68.9h0.55M199.9 63.8h0.55M200.5 64.1h0.55M198.4 70.8h0.55M212.1 62.6h0.55M207.1 70.5h0.55M200.9 66.5h0.55M204.1 61.5h0.55M196.3 60.4h0.55M187.8 65.9h0.55M199.0 69.6h0.55M180.0 63.8h0.55M206.7 58.3h0.55M195.7 62.2h0.55M183.7 69.7h0.55M200.2 66.5h0.55M220.8 63.7h0.55M193.6 64.5h0.55M198.1 75.1h0.55M203.1 51.4h0.55M189.6 58.4h0.55M211.6 70.4h0.55M196.2 68.3h0.55M202.0 67.0h0.55M206.2 60.7h0.55M198.3 69.6h0.55M205.1 60.9h0.55M186.6 61.9h0.55M188.0 60.3h0.55M200.9 67.7h0.55M193.8 58.6h0.55M194.3 67.7h0.55M199.4 62.0h0.55M204.4 68.2h0.55M210.0 62.5h0.55M215.0 73.2h0.55M211.1 63.3h0.55M207.3 64.2h0.55M192.8 62.1h0.55M192.4 61.9h0.55M189.6 64.5h0.55M196.3 65.6h0.55M201.7 56.7h0.55M216.1 61.1h0.55M194.0 65.3h0.55M205.1 60.9h0.55M195.5 64.6h0.55M199.4 69.0h0.55M185.5 69.4h0.55M219.6 71.1h0.55M201.9 67.7h0.55M199.8 71.9h0.55M200.5 56.6h0.55M188.4 61.6h0.55M207.1 59.9h0.55M203.1 61.8h0.55M207.5 68.5h0.55M213.3 64.4h0.55M206.7 54.9h0.55M196.3 74.4h0.55M197.9 69.3h0.55M188.6 65.2h0.55M219.6 62.3h0.55M189.0 60.0h0.55M210.4 59.1h0.55M193.1 58.8h0.55M202.6 68.3h0.55M200.3 56.9h0.55M192.4 67.9h0.55M208.0 71.2h0.55M206.5 64.4h0.55M201.5 71.0h0.55M207.6 68.4h0.55M214.9 64.9h0.55M191.2 64.7h0.55M196.4 73.6h0.55M189.4 74.1h0.55M194.2 58.5h0.55M197.9 65.6h0.55M198.1 56.8h0.55M200.9 62.9h0.55M213.7 71.4h0.55M207.5 66.0h0.55M197.1 61.3h0.55M204.7 68.9h0.55M195.6 68.6h0.55M208.2 68.2h0.55M196.7 69.9h0.55M199.0 66.4h0.55M188.7 66.3h0.55M195.9 67.6h0.55M216.3 68.3h0.55M179.2 77.5h0.55M199.1 59.5h0.55M194.6 60.1h0.55M195.3 60.1h0.55M210.0 55.5h0.55M193.4 59.7h0.55M186.9 58.7h0.55M197.8 68.5h0.55M198.4 69.5h0.55M204.7 57.4h0.55M210.8 63.9h0.55M205.3 57.7h0.55M206.3 60.7h0.55M194.0 65.5h0.55M192.3 63.0h0.55M201.6 63.2h0.55M203.7 71.5h0.55M206.1 66.7h0.55M203.5 60.5h0.55M194.8 60.2h0.55M193.6 56.8h0.55M209.1 63.7h0.55M206.5 71.1h0.55M184.1 69.8h0.55M203.5 63.0h0.55M202.8 58.8h0.55M192.7 61.6h0.55M189.1 56.9h0.55M206.2 51.4h0.55M202.9 51.4h0.55M188.2 65.0h0.55M198.8 60.3h0.55M209.1 56.2h0.55M195.8 68.1h0.55M213.0 68.0h0.55M188.1 71.2h0.55M210.0 64.5h0.55M197.5 60.7h0.55M191.5 67.9h0.55M196.8 58.7h0.55M206.4 62.3h0.55M188.8 70.1h0.55M208.5 58.5h0.55M204.9 64.7h0.55M180.1 62.3h0.55M201.7 57.8h0.55M209.2 73.0h0.55M193.3 58.0h0.55M177.6 60.6h0.55M206.0 63.6h0.55M207.9 69.7h0.55M211.9 66.3h0.55M191.4 60.4h0.55M190.5 60.0h0.55M194.6 68.0h0.55M209.7 63.9h0.55M191.3 63.5h0.55M199.8 64.5h0.55M185.5 65.9h0.55M211.4 63.1h0.55M199.1 70.8h0.55M200.2 74.8h0.55M207.8 62.6h0.55M204.1 68.5h0.55M199.4 66.5h0.55M197.8 62.1h0.55M186.8 60.0h0.55M206.7 61.2h0.55M197.5 68.0h0.55M197.7 69.0h0.55M186.3 59.9h0.55M209.7 66.0h0.55M200.6 58.8h0.55M200.8 70.7h0.55M195.4 62.8h0.55M204.1 61.8h0.55M206.8 59.5h0.55M204.4 67.5h0.55M190.6 69.5h0.55M184.9 57.7h0.55M198.4 70.3h0.55M203.5 60.6h0.55M178.7 62.6h0.55M191.6 60.8h0.55M194.9 69.6h0.55M199.6 74.4h0.55M208.5 61.1h0.55M195.8 69.8h0.55M206.8 63.4h0.55M196.6 73.5h0.55M207.3 66.1h0.55M193.9 62.1h0.55M199.2 72.8h0.55M206.5 65.8h0.55M199.2 66.9h0.55M179.3 69.7h0.55M196.5 62.9h0.55M203.0 66.8h0.55M199.4 67.2h0.55M190.1 66.9h0.55M194.8 56.0h0.55M205.0 64.7h0.55M206.5 69.2h0.55M203.0 69.1h0.55M193.3 62.6h0.55M191.4 65.4h0.55M216.8 61.9h0.55" stroke="#888" stroke-width="0.55" opacity="0.5"/>
<path d="M191.8 66.9h0.55M185.9 91.9h0.55M198.4 59.0h0.55M204.0 80.3h0.55M198.9 84.4h0.55M204.1 88.3h0.55M198.8 85.1h0.55M200.3 97.8h0.55M198.1 77.2h0.55M199.2 65.6h0.55M187.4 57.0h0.55M195.1 75.6h0.55M187.8 76.9h0.55M186.7 66.3h0.55M214.6 87.0h0.55M189.9 88.6h0.55M187.6 80.8h0.55M162.9 80.6h0.55M196.0 67.7h0.55M197.1 83.7h0.55M177.9 89.9h0.55M195.0 75.9h0.55M201.7 76.8h0.55M186.9 69.9h0.55M205.4 84.7h0.55M196.0 71.3h0.55M201.4 82.4h0.55M189.5 69.5h0.55M197.9 75.6h0.55M201.9 83.0h0.55M204.1 76.9h0.55M191.6 79.9h0.55M192.3 75.5h0.55M207.7 67.0h0.55M191.8 87.3h0.55M192.0 62.4h0.55M196.6 75.9h0.55M187.7 85.2h0.55M206.9 76.5h0.55M183.2 82.4h0.55M190.4 69.3h0.55M201.6 84.2h0.55M196.6 91.0h0.55M187.5 81.3h0.55M203.1 67.5h0.55M200.9 72.7h0.55M198.2 94.0h0.55M189.0 85.9h0.55M200.1 76.1h0.55M179.1 75.0h0.55M204.8 81.3h0.55M203.0 79.9h0.55M180.7 86.9h0.55M183.5 82.9h0.55M188.4 84.6h0.55M196.1 94.5h0.55M211.2 76.3h0.55M194.4 67.3h0.55M208.2 74.9h0.55M201.3 90.0h0.55M196.2 80.1h0.55M187.9 76.7h0.55M205.7 77.1h0.55M201.7 62.0h0.55M184.4 79.4h0.55M190.7 69.5h0.55M208.0 94.2h0.55M189.7 71.0h0.55M205.6 70.6h0.55M200.3 74.4h0.55M200.7 85.8h0.55M194.1 69.4h0.55M197.6 80.6h0.55M208.6 70.5h0.55M203.4 101.4h0.55M171.3 87.6h0.55M189.3 78.5h0.55M207.2 77.0h0.55M185.1 82.9h0.55M192.8 66.4h0.55M189.7 81.5h0.55M208.3 93.7h0.55M187.8 66.2h0.55M202.4 67.9h0.55M202.1 67.8h0.55M213.0 81.9h0.55M202.3 74.4h0.55M198.7 81.1h0.55M200.4 91.6h0.55M197.0 83.3h0.55M196.4 76.5h0.55M205.4 90.2h0.55M179.5 67.6h0.55M186.9 74.9h0.55M201.0 87.3h0.55M211.3 79.5h0.55M198.1 98.0h0.55M193.8 65.6h0.55M194.4 70.4h0.55M184.5 79.8h0.55M200.0 80.4h0.55M206.9 88.5h0.55M204.0 83.7h0.55M202.0 86.5h0.55M208.2 85.7h0.55M195.8 69.8h0.55M202.5 77.3h0.55M198.5 75.4h0.55M188.7 98.8h0.55M194.8 81.0h0.55M196.9 89.5h0.55M210.9 78.3h0.55M200.0 82.2h0.55M198.8 85.1h0.55M210.1 73.2h0.55M183.8 74.3h0.55M183.2 83.8h0.55M197.2 84.2h0.55M201.8 89.9h0.55M200.0 75.2h0.55M202.1 87.5h0.55M200.6 89.2h0.55M176.0 76.5h0.55M196.5 73.1h0.55M188.1 73.5h0.55M205.0 83.4h0.55M204.4 61.4h0.55M187.8 92.7h0.55M193.7 60.8h0.55M187.8 72.1h0.55M212.9 75.7h0.55M201.2 79.4h0.55M211.0 73.1h0.55M207.1 66.8h0.55M196.9 76.0h0.55M199.7 94.6h0.55M186.6 78.1h0.55M197.1 88.6h0.55M195.2 70.7h0.55M189.5 84.3h0.55M182.4 94.6h0.55M201.6 81.8h0.55M188.8 70.4h0.55M167.1 90.1h0.55M193.8 91.5h0.55M206.8 89.7h0.55M206.7 77.0h0.55M200.4 78.7h0.55M191.7 76.5h0.55M197.0 75.2h0.55M200.8 58.3h0.55M188.8 85.4h0.55M188.8 78.9h0.55M190.2 65.0h0.55M195.1 85.5h0.55M195.0 64.8h0.55M189.4 83.8h0.55M199.9 86.1h0.55M198.1 92.5h0.55M204.3 65.9h0.55" stroke="#888" stroke-width="0.55" opacity="0.4"/>
<g filter="url(#bl)">
<ellipse cx="162.00" cy="55.90" rx="9.50" ry="7.30" fill="#ee22ee"/>
<ellipse cx="166.00" cy="56.90" rx="5.00" ry="4.50" fill="#ee22ee"/>
<ellipse cx="162.00" cy="55.90" rx="6.46" ry="4.96" fill="#4a5cf6"/>
<ellipse cx="162.00" cy="55.90" rx="4.75" ry="3.65" fill="#22c8c0"/>
<ellipse cx="162.00" cy="55.90" rx="3.23" ry="2.48" fill="#28c840"/>
<ellipse cx="162.00" cy="55.90" rx="1.90" ry="1.46" fill="#c03a14"/>
</g>
<g filter="url(#bl)">
<ellipse cx="160.30" cy="91.30" rx="9.00" ry="9.20" fill="#ee22ee"/>
<ellipse cx="160.30" cy="91.30" rx="6.12" ry="6.26" fill="#4a5cf6"/>
<ellipse cx="160.30" cy="91.30" rx="4.50" ry="4.60" fill="#22c8c0"/>
<ellipse cx="160.30" cy="91.30" rx="3.06" ry="3.13" fill="#28c840"/>
<ellipse cx="160.30" cy="91.30" rx="1.80" ry="1.84" fill="#c03a14"/>
</g>
<rect x="137.40" y="27.90" width="84.90" height="75.70" fill="none" stroke="#a8a8a8" stroke-width="0.8"/>
<polygon points="194.4,51.4 209.7,52.4 217.5,61.8 216.9,93.9 194.8,98.1 182.5,89.1 181.4,73.4" fill="none" stroke="#4a3434" stroke-width="0.85"/>
<text x="196.50" y="39.20" font-size="10.5" fill="#1a1a1a" stroke="#1a1a1a" stroke-width="0.15" textLength="18.30" lengthAdjust="spacingAndGlyphs">CLP</text>
<rect x="131.60" y="27.90" width="3.20" height="1.40" fill="#c4c4c4"/>
<rect x="131.60" y="46.70" width="3.20" height="1.40" fill="#c4c4c4"/>
<rect x="131.60" y="65.90" width="3.20" height="1.40" fill="#c4c4c4"/>
<rect x="131.60" y="84.40" width="3.20" height="1.40" fill="#c4c4c4"/>
<rect x="158.20" y="107.40" width="3.20" height="1.40" fill="#c4c4c4"/>
<rect x="178.10" y="107.40" width="3.20" height="1.40" fill="#c4c4c4"/>
<rect x="200.10" y="107.40" width="3.20" height="1.40" fill="#c4c4c4"/>
<rect x="221.10" y="107.40" width="3.20" height="1.40" fill="#c4c4c4"/>
<line x1="26.20" y1="31.50" x2="26.20" y2="84.50" stroke="#444" stroke-width="0.9"/>
<path d="M26.2,28.5 L24.2,33.5 L28.2,33.5 Z" fill="#222"/>
<text transform="translate(30.20,95.00) rotate(-90)" x="0" y="0" font-size="11" fill="#1a1a1a" text-anchor="middle" stroke="#1a1a1a" stroke-width="0.15" textLength="20.00" lengthAdjust="spacingAndGlyphs">B220</text>
<text x="25.80" y="118.50" font-size="9.8" fill="#1a1a1a" stroke="#1a1a1a" stroke-width="0.15" textLength="29.20" lengthAdjust="spacingAndGlyphs">CD138</text>
<line x1="57.00" y1="115.00" x2="219.00" y2="115.00" stroke="#555" stroke-width="0.9"/>
<path d="M223,115 L217.5,112.8 L217.5,117.2 Z" fill="#222"/>
<text x="252.60" y="13.60" font-size="19" fill="#111" stroke="#111" stroke-width="0.15">b</text>
<rect x="266.20" y="27.30" width="82.30" height="80.70" fill="#fcfbfd" stroke="#8a8a8a" stroke-width="0.8"/>
<ellipse cx="307" cy="33.5" rx="4.5" ry="2.5" fill="#ecd6ee" opacity="0.8"/>
<ellipse cx="274" cy="49" rx="5" ry="1.3" fill="#f0e2f2" opacity="0.8"/>
<ellipse cx="294.4" cy="38.1" rx="6.2" ry="5.2" fill="url(#cellg)" stroke="#5a4cbc" stroke-width="0.6"/>
<ellipse cx="303.6" cy="44.7" rx="8" ry="6" fill="url(#cellg)" stroke="#5a4cbc" stroke-width="0.6"/>
<ellipse cx="318.7" cy="52.3" rx="8" ry="7" fill="url(#cellg)" stroke="#5a4cbc" stroke-width="0.6"/>
<ellipse cx="303.3" cy="57.5" rx="9.2" ry="8.3" fill="url(#cellg)" stroke="#5a4cbc" stroke-width="0.6"/>
<ellipse cx="285.9" cy="59.5" rx="6.2" ry="5" fill="url(#cellg)" stroke="#5a4cbc" stroke-width="0.6"/>
<ellipse cx="294.4" cy="65.1" rx="6.5" ry="5" fill="url(#cellg)" stroke="#5a4cbc" stroke-width="0.6"/>
<ellipse cx="319.3" cy="64.7" rx="7.5" ry="6" fill="url(#cellg)" stroke="#5a4cbc" stroke-width="0.6"/>
<ellipse cx="292.5" cy="73.9" rx="6" ry="4.8" fill="url(#cellg)" stroke="#5a4cbc" stroke-width="0.6"/>
<ellipse cx="301.6" cy="77.2" rx="7" ry="6" fill="url(#cellg)" stroke="#5a4cbc" stroke-width="0.6"/>
<ellipse cx="314.1" cy="75.2" rx="7.5" ry="6.5" fill="url(#cellg)" stroke="#5a4cbc" stroke-width="0.6"/>
<ellipse cx="329.5" cy="73" rx="7.5" ry="6.5" fill="url(#cellg)" stroke="#5a4cbc" stroke-width="0.6"/>
<ellipse cx="299.7" cy="83.1" rx="6.5" ry="5.2" fill="url(#cellg)" stroke="#5a4cbc" stroke-width="0.6"/>
<ellipse cx="322.6" cy="85" rx="8" ry="6.5" fill="url(#cellg)" stroke="#5a4cbc" stroke-width="0.6"/>
<ellipse cx="308.8" cy="89.6" rx="8" ry="6" fill="url(#cellg)" stroke="#5a4cbc" stroke-width="0.6"/>
<ellipse cx="302.3" cy="97.5" rx="7" ry="6" fill="url(#cellg)" stroke="#5a4cbc" stroke-width="0.6"/>
<text x="375.80" y="14.30" font-size="19" fill="#111" stroke="#111" stroke-width="0.15">c</text>
<line x1="409.70" y1="26.20" x2="409.70" y2="110.10" stroke="#444" stroke-width="0.9"/>
<line x1="409.70" y1="110.10" x2="486.10" y2="110.10" stroke="#444" stroke-width="0.9"/>
<line x1="405.70" y1="26.20" x2="409.70" y2="26.20" stroke="#444" stroke-width="0.9"/>
<text x="404.40" y="29.30" font-size="8.6" fill="#1a1a1a" stroke="#1a1a1a" stroke-width="0.15" text-anchor="end" textLength="5.60" lengthAdjust="spacingAndGlyphs">6</text>
<line x1="405.70" y1="54.10" x2="409.70" y2="54.10" stroke="#444" stroke-width="0.9"/>
<text x="404.40" y="57.20" font-size="8.6" fill="#1a1a1a" stroke="#1a1a1a" stroke-width="0.15" text-anchor="end" textLength="5.60" lengthAdjust="spacingAndGlyphs">4</text>
<line x1="405.70" y1="82.20" x2="409.70" y2="82.20" stroke="#444" stroke-width="0.9"/>
<text x="404.40" y="85.30" font-size="8.6" fill="#1a1a1a" stroke="#1a1a1a" stroke-width="0.15" text-anchor="end" textLength="5.60" lengthAdjust="spacingAndGlyphs">2</text>
<line x1="405.70" y1="110.10" x2="409.70" y2="110.10" stroke="#444" stroke-width="0.9"/>
<text x="404.40" y="113.20" font-size="8.6" fill="#1a1a1a" stroke="#1a1a1a" stroke-width="0.15" text-anchor="end" textLength="5.60" lengthAdjust="spacingAndGlyphs">0</text>
<line x1="431.00" y1="110.10" x2="431.00" y2="113.60" stroke="#444" stroke-width="0.9"/>
<line x1="463.50" y1="110.10" x2="463.50" y2="113.60" stroke="#444" stroke-width="0.9"/>
<text x="418.00" y="122.10" font-size="8.3" fill="#1a1a1a" stroke="#1a1a1a" stroke-width="0.15" textLength="25.00" lengthAdjust="spacingAndGlyphs">Sham</text>
<text x="456.00" y="122.10" font-size="8.3" fill="#ee1c1c" stroke="#ee1c1c" stroke-width="0.15" textLength="17.00" lengthAdjust="spacingAndGlyphs">CLP</text>
<path d="M420.50,110.10V106.60H441.50V110.10" fill="none" stroke="#333" stroke-width="0.8"/>
<path d="M453.30,110.10V68.80H474.30V110.10" fill="none" stroke="#ff4040" stroke-width="0.9"/>
<line x1="463.80" y1="46.20" x2="463.80" y2="90.20" stroke="#ee1c1c" stroke-width="0.9"/>
<line x1="458.80" y1="46.20" x2="468.80" y2="46.20" stroke="#ee1c1c" stroke-width="0.9"/>
<line x1="458.80" y1="90.20" x2="468.80" y2="90.20" stroke="#ee1c1c" stroke-width="0.9"/>
<circle cx="431.00" cy="101.20" r="1.50" fill="none" stroke="#222" stroke-width="0.7"/>
<circle cx="425.00" cy="104.50" r="1.50" fill="none" stroke="#222" stroke-width="0.7"/>
<circle cx="428.00" cy="104.00" r="1.50" fill="none" stroke="#222" stroke-width="0.7"/>
<circle cx="432.00" cy="103.80" r="1.50" fill="none" stroke="#222" stroke-width="0.7"/>
<circle cx="436.00" cy="104.30" r="1.50" fill="none" stroke="#222" stroke-width="0.7"/>
<circle cx="439.00" cy="104.50" r="1.50" fill="none" stroke="#222" stroke-width="0.7"/>
<circle cx="423.00" cy="106.30" r="1.50" fill="none" stroke="#222" stroke-width="0.7"/>
<circle cx="427.00" cy="106.50" r="1.50" fill="none" stroke="#222" stroke-width="0.7"/>
<circle cx="431.00" cy="106.30" r="1.50" fill="none" stroke="#222" stroke-width="0.7"/>
<circle cx="435.00" cy="106.60" r="1.50" fill="none" stroke="#222" stroke-width="0.7"/>
<circle cx="439.00" cy="106.40" r="1.50" fill="none" stroke="#222" stroke-width="0.7"/>
<circle cx="424.00" cy="108.30" r="1.50" fill="none" stroke="#222" stroke-width="0.7"/>
<circle cx="428.00" cy="108.30" r="1.50" fill="none" stroke="#222" stroke-width="0.7"/>
<circle cx="433.00" cy="108.30" r="1.50" fill="none" stroke="#222" stroke-width="0.7"/>
<circle cx="437.00" cy="108.30" r="1.50" fill="none" stroke="#222" stroke-width="0.7"/>
<circle cx="441.00" cy="107.30" r="1.50" fill="none" stroke="#222" stroke-width="0.7"/>
<line x1="425.00" y1="106.40" x2="437.00" y2="106.40" stroke="#333" stroke-width="0.8"/>
<rect x="459.90" y="30.70" width="3.60" height="3.60" fill="#f01414"/>
<rect x="465.20" y="31.30" width="3.60" height="3.60" fill="#f01414"/>
<rect x="462.70" y="38.10" width="3.60" height="3.60" fill="#f01414"/>
<rect x="460.60" y="40.20" width="3.60" height="3.60" fill="#f01414"/>
<rect x="464.20" y="41.20" width="3.60" height="3.60" fill="#f01414"/>
<rect x="462.00" y="47.50" width="3.60" height="3.60" fill="#f01414"/>
<rect x="456.80" y="60.70" width="3.60" height="3.60" fill="#f01414"/>
<rect x="461.60" y="60.70" width="3.60" height="3.60" fill="#f01414"/>
<rect x="466.90" y="60.10" width="3.60" height="3.60" fill="#f01414"/>
<rect x="452.60" y="71.00" width="3.60" height="3.60" fill="#f01414"/>
<rect x="456.80" y="71.00" width="3.60" height="3.60" fill="#f01414"/>
<rect x="461.60" y="70.60" width="3.60" height="3.60" fill="#f01414"/>
<rect x="466.90" y="71.60" width="3.60" height="3.60" fill="#f01414"/>
<rect x="471.10" y="71.60" width="3.60" height="3.60" fill="#f01414"/>
<rect x="462.00" y="74.80" width="3.60" height="3.60" fill="#f01414"/>
<rect x="456.80" y="84.60" width="3.60" height="3.60" fill="#f01414"/>
<rect x="466.90" y="83.20" width="3.60" height="3.60" fill="#f01414"/>
<rect x="461.60" y="96.80" width="3.60" height="3.60" fill="#f01414"/>
<rect x="462.70" y="99.90" width="3.60" height="3.60" fill="#f01414"/>
<rect x="464.20" y="102.50" width="3.60" height="3.60" fill="#f01414"/>
<rect x="459.90" y="104.80" width="3.60" height="3.60" fill="#f01414"/>
<path d="M429.60,30.30 V25.20 H463.80 V29.20" fill="none" stroke="#555" stroke-width="0.9"/>
<text x="421.50" y="20.90" font-size="8" fill="#1a1a1a" stroke="#1a1a1a" stroke-width="0.15" textLength="50.90" lengthAdjust="spacingAndGlyphs">p &lt; 0.0001</text>
<text transform="translate(377.60,70.60) rotate(-90)" x="0" y="0" font-size="10.5" fill="#1a1a1a" text-anchor="middle" stroke="#1a1a1a" stroke-width="0.15" textLength="51.80" lengthAdjust="spacingAndGlyphs">% Plasma cells</text>
<text transform="translate(392.20,70.60) rotate(-90)" x="0" y="0" font-size="10.5" fill="#1a1a1a" text-anchor="middle" stroke="#1a1a1a" stroke-width="0.15" textLength="72.40" lengthAdjust="spacingAndGlyphs">(among splenocytes)</text>
<text x="500.30" y="14.00" font-size="19" fill="#111" stroke="#111" stroke-width="0.15">d</text>
<line x1="545.50" y1="26.20" x2="545.50" y2="110.10" stroke="#444" stroke-width="0.9"/>
<line x1="545.50" y1="110.10" x2="620.70" y2="110.10" stroke="#444" stroke-width="0.9"/>
<line x1="541.50" y1="26.40" x2="545.50" y2="26.40" stroke="#444" stroke-width="0.9"/>
<text x="538.30" y="28.90" font-size="6.8" fill="#1a1a1a" stroke="#1a1a1a" stroke-width="0.15" text-anchor="end" textLength="11.90" lengthAdjust="spacingAndGlyphs">10</text>
<line x1="541.50" y1="56.00" x2="545.50" y2="56.00" stroke="#444" stroke-width="0.9"/>
<text x="538.30" y="58.50" font-size="6.8" fill="#1a1a1a" stroke="#1a1a1a" stroke-width="0.15" text-anchor="end" textLength="3.60" lengthAdjust="spacingAndGlyphs">1</text>
<line x1="541.50" y1="85.60" x2="545.50" y2="85.60" stroke="#444" stroke-width="0.9"/>
<text x="538.30" y="88.10" font-size="6.8" fill="#1a1a1a" stroke="#1a1a1a" stroke-width="0.15" text-anchor="end" textLength="13.70" lengthAdjust="spacingAndGlyphs">0.1</text>
<line x1="567.30" y1="110.10" x2="567.30" y2="113.60" stroke="#444" stroke-width="0.9"/>
<line x1="600.40" y1="110.10" x2="600.40" y2="113.60" stroke="#444" stroke-width="0.9"/>
<text x="555.00" y="122.10" font-size="8.3" fill="#1a1a1a" stroke="#1a1a1a" stroke-width="0.15" textLength="25.00" lengthAdjust="spacingAndGlyphs">Sham</text>
<text x="592.00" y="122.10" font-size="8.3" fill="#ee1c1c" stroke="#ee1c1c" stroke-width="0.15" textLength="17.00" lengthAdjust="spacingAndGlyphs">CLP</text>
<path d="M557.00,110.10V76.69H577.60V110.10" fill="none" stroke="#333" stroke-width="0.8"/>
<path d="M590.20,110.10V49.18H610.60V110.10" fill="none" stroke="#ff4040" stroke-width="0.9"/>
<line x1="567.30" y1="70.25" x2="567.30" y2="84.97" stroke="#333" stroke-width="0.8"/>
<line x1="562.80" y1="70.25" x2="571.80" y2="70.25" stroke="#333" stroke-width="0.8"/>
<line x1="562.80" y1="84.97" x2="571.80" y2="84.97" stroke="#333" stroke-width="0.8"/>
<line x1="600.40" y1="41.88" x2="600.40" y2="65.44" stroke="#ee1c1c" stroke-width="0.9"/>
<line x1="595.90" y1="41.88" x2="604.90" y2="41.88" stroke="#ee1c1c" stroke-width="0.9"/>
<line x1="595.90" y1="65.44" x2="604.90" y2="65.44" stroke="#ee1c1c" stroke-width="0.9"/>
<circle cx="567.13" cy="66.08" r="1.60" fill="none" stroke="#222" stroke-width="0.7"/>
<circle cx="562.93" cy="69.23" r="1.60" fill="none" stroke="#222" stroke-width="0.7"/>
<circle cx="571.32" cy="69.23" r="1.60" fill="none" stroke="#222" stroke-width="0.7"/>
<circle cx="557.69" cy="69.65" r="1.60" fill="none" stroke="#222" stroke-width="0.7"/>
<circle cx="576.57" cy="71.32" r="1.60" fill="none" stroke="#222" stroke-width="0.7"/>
<circle cx="558.32" cy="73.42" r="1.60" fill="none" stroke="#222" stroke-width="0.7"/>
<circle cx="562.93" cy="73.42" r="1.60" fill="none" stroke="#222" stroke-width="0.7"/>
<circle cx="567.13" cy="73.84" r="1.60" fill="none" stroke="#222" stroke-width="0.7"/>
<circle cx="572.37" cy="73.42" r="1.60" fill="none" stroke="#222" stroke-width="0.7"/>
<circle cx="576.57" cy="74.47" r="1.60" fill="none" stroke="#222" stroke-width="0.7"/>
<circle cx="558.32" cy="78.67" r="1.60" fill="none" stroke="#222" stroke-width="0.7"/>
<circle cx="562.93" cy="79.30" r="1.60" fill="none" stroke="#222" stroke-width="0.7"/>
<circle cx="569.23" cy="79.30" r="1.60" fill="none" stroke="#222" stroke-width="0.7"/>
<circle cx="573.42" cy="79.30" r="1.60" fill="none" stroke="#222" stroke-width="0.7"/>
<circle cx="577.20" cy="79.30" r="1.60" fill="none" stroke="#222" stroke-width="0.7"/>
<circle cx="567.13" cy="82.86" r="1.60" fill="none" stroke="#222" stroke-width="0.7"/>
<circle cx="572.37" cy="82.86" r="1.60" fill="none" stroke="#222" stroke-width="0.7"/>
<circle cx="567.13" cy="86.01" r="1.60" fill="none" stroke="#222" stroke-width="0.7"/>
<circle cx="567.13" cy="93.35" r="1.60" fill="none" stroke="#222" stroke-width="0.7"/>
<circle cx="567.55" cy="102.79" r="1.60" fill="none" stroke="#222" stroke-width="0.7"/>
<rect x="598.47" y="31.34" width="3.60" height="3.60" fill="#f01414"/>
<rect x="594.70" y="40.78" width="3.60" height="3.60" fill="#f01414"/>
<rect x="599.94" y="40.16" width="3.60" height="3.60" fill="#f01414"/>
<rect x="604.14" y="38.69" width="3.60" height="3.60" fill="#f01414"/>
<rect x="607.28" y="42.25" width="3.60" height="3.60" fill="#f01414"/>
<rect x="591.55" y="43.30" width="3.60" height="3.60" fill="#f01414"/>
<rect x="596.79" y="43.30" width="3.60" height="3.60" fill="#f01414"/>
<rect x="602.04" y="43.93" width="3.60" height="3.60" fill="#f01414"/>
<rect x="598.89" y="46.45" width="3.60" height="3.60" fill="#f01414"/>
<rect x="591.55" y="48.55" width="3.60" height="3.60" fill="#f01414"/>
<rect x="595.12" y="49.60" width="3.60" height="3.60" fill="#f01414"/>
<rect x="603.09" y="49.60" width="3.60" height="3.60" fill="#f01414"/>
<rect x="607.28" y="48.55" width="3.60" height="3.60" fill="#f01414"/>
<rect x="593.65" y="53.16" width="3.60" height="3.60" fill="#f01414"/>
<rect x="598.47" y="53.16" width="3.60" height="3.60" fill="#f01414"/>
<rect x="604.14" y="53.16" width="3.60" height="3.60" fill="#f01414"/>
<rect x="590.50" y="53.16" width="3.60" height="3.60" fill="#f01414"/>
<rect x="598.47" y="56.94" width="3.60" height="3.60" fill="#f01414"/>
<rect x="602.04" y="56.94" width="3.60" height="3.60" fill="#f01414"/>
<rect x="591.55" y="56.52" width="3.60" height="3.60" fill="#f01414"/>
<rect x="598.47" y="60.71" width="3.60" height="3.60" fill="#f01414"/>
<rect x="595.75" y="69.52" width="3.60" height="3.60" fill="#f01414"/>
<rect x="600.57" y="70.57" width="3.60" height="3.60" fill="#f01414"/>
<rect x="598.47" y="75.40" width="3.60" height="3.60" fill="#f01414"/>
<path d="M566.70,30.30 V25.20 H601.10 V29.50" fill="none" stroke="#555" stroke-width="0.9"/>
<text x="557.70" y="20.90" font-size="8" fill="#1a1a1a" stroke="#1a1a1a" stroke-width="0.15" textLength="51.30" lengthAdjust="spacingAndGlyphs">p &lt; 0.0001</text>
<text transform="translate(518.5,69.9) rotate(-90)" font-size="10.5" fill="#1a1a1a" stroke="#1a1a1a" stroke-width="0.22" text-anchor="middle" textLength="85.8" lengthAdjust="spacingAndGlyphs">Plasma cells (x10<tspan dy="-3.6" font-size="8">6</tspan><tspan dy="3.6">cells)</tspan></text>
<text x="6.00" y="140.00" font-size="19" fill="#111" stroke="#111" stroke-width="0.15">e</text>
<line x1="40.30" y1="144.10" x2="40.30" y2="226.60" stroke="#555" stroke-width="0.9"/>
<line x1="40.30" y1="226.60" x2="115.40" y2="226.60" stroke="#555" stroke-width="0.9"/>
<line x1="35.80" y1="144.10" x2="40.30" y2="144.10" stroke="#555" stroke-width="0.9"/>
<text x="35.70" y="146.80" font-size="7.6" fill="#1a1a1a" stroke="#1a1a1a" stroke-width="0.15" text-anchor="end" textLength="14.70" lengthAdjust="spacingAndGlyphs">400</text>
<line x1="35.80" y1="165.10" x2="40.30" y2="165.10" stroke="#555" stroke-width="0.9"/>
<text x="35.70" y="167.80" font-size="7.6" fill="#1a1a1a" stroke="#1a1a1a" stroke-width="0.15" text-anchor="end" textLength="14.70" lengthAdjust="spacingAndGlyphs">300</text>
<line x1="35.80" y1="185.40" x2="40.30" y2="185.40" stroke="#555" stroke-width="0.9"/>
<text x="35.70" y="188.10" font-size="7.6" fill="#1a1a1a" stroke="#1a1a1a" stroke-width="0.15" text-anchor="end" textLength="14.70" lengthAdjust="spacingAndGlyphs">200</text>
<line x1="35.80" y1="206.00" x2="40.30" y2="206.00" stroke="#555" stroke-width="0.9"/>
<text x="35.70" y="208.70" font-size="7.6" fill="#1a1a1a" stroke="#1a1a1a" stroke-width="0.15" text-anchor="end" textLength="14.70" lengthAdjust="spacingAndGlyphs">100</text>
<line x1="35.80" y1="226.60" x2="40.30" y2="226.60" stroke="#555" stroke-width="0.9"/>
<text x="35.70" y="229.30" font-size="7.6" fill="#1a1a1a" stroke="#1a1a1a" stroke-width="0.15" text-anchor="end" textLength="5.40" lengthAdjust="spacingAndGlyphs">0</text>
<line x1="61.90" y1="226.60" x2="61.90" y2="229.60" stroke="#555" stroke-width="0.9"/>
<line x1="93.80" y1="226.60" x2="93.80" y2="229.60" stroke="#555" stroke-width="0.9"/>
<path d="M51.80,226.60V188.24H72.00V226.60" fill="none" stroke="#ff4040" stroke-width="0.9"/>
<path d="M83.80,226.60V224.12H103.80V226.60" fill="none" stroke="#ff4040" stroke-width="0.9"/>
<line x1="61.90" y1="171.00" x2="61.90" y2="205.40" stroke="#ee1c1c" stroke-width="0.9"/>
<line x1="56.90" y1="171.00" x2="66.90" y2="171.00" stroke="#ee1c1c" stroke-width="0.9"/>
<line x1="56.90" y1="205.40" x2="66.90" y2="205.40" stroke="#ee1c1c" stroke-width="0.9"/>
<rect x="59.70" y="157.60" width="3.60" height="3.60" fill="#f01414"/>
<rect x="60.10" y="173.80" width="3.60" height="3.60" fill="#f01414"/>
<rect x="60.10" y="190.60" width="3.60" height="3.60" fill="#f01414"/>
<rect x="60.10" y="195.80" width="3.60" height="3.60" fill="#f01414"/>
<rect x="59.70" y="197.50" width="3.60" height="3.60" fill="#f01414"/>
<rect x="60.10" y="202.70" width="3.60" height="3.60" fill="#f01414"/>
<rect x="82.50" y="222.30" width="4.00" height="4.00" fill="#f01414"/>
<rect x="86.00" y="221.80" width="4.00" height="4.00" fill="#f01414"/>
<rect x="89.50" y="222.30" width="4.00" height="4.00" fill="#f01414"/>
<rect x="93.00" y="221.80" width="4.00" height="4.00" fill="#f01414"/>
<rect x="96.50" y="222.10" width="4.00" height="4.00" fill="#f01414"/>
<rect x="100.50" y="221.80" width="4.00" height="4.00" fill="#f01414"/>
<path d="M61.50,155.70 V150.80 H97.50 V155.70" fill="none" stroke="#555" stroke-width="0.9"/>
<text x="55.00" y="146.90" font-size="8.6" fill="#1a1a1a" stroke="#1a1a1a" stroke-width="0.15" textLength="48.20" lengthAdjust="spacingAndGlyphs">p = 0.0022</text>
<text x="48.70" y="237.50" font-size="8.6" fill="#ee1c1c" stroke="#ee1c1c" stroke-width="0.4" textLength="28.30" lengthAdjust="spacingAndGlyphs">B cells</text>
<text x="80.40" y="237.50" font-size="8.6" fill="#ee1c1c" stroke="#ee1c1c" stroke-width="0.4" textLength="32.80" lengthAdjust="spacingAndGlyphs">Plasma</text>
<text transform="translate(15.30,187.30) rotate(-90)" x="0" y="0" font-size="10.6" fill="#1a1a1a" text-anchor="middle" stroke="#1a1a1a" stroke-width="0.15" textLength="42.80" lengthAdjust="spacingAndGlyphs">bcl6 mRNA</text>
<line x1="147.80" y1="144.10" x2="147.80" y2="226.60" stroke="#555" stroke-width="0.9"/>
<line x1="147.80" y1="226.60" x2="221.20" y2="226.60" stroke="#555" stroke-width="0.9"/>
<line x1="143.30" y1="144.10" x2="147.80" y2="144.10" stroke="#555" stroke-width="0.9"/>
<text x="143.20" y="146.80" font-size="7.6" fill="#1a1a1a" stroke="#1a1a1a" stroke-width="0.15" text-anchor="end" textLength="18.80" lengthAdjust="spacingAndGlyphs">4000</text>
<line x1="143.30" y1="165.00" x2="147.80" y2="165.00" stroke="#555" stroke-width="0.9"/>
<text x="143.20" y="167.70" font-size="7.6" fill="#1a1a1a" stroke="#1a1a1a" stroke-width="0.15" text-anchor="end" textLength="18.80" lengthAdjust="spacingAndGlyphs">3000</text>
<line x1="143.30" y1="185.50" x2="147.80" y2="185.50" stroke="#555" stroke-width="0.9"/>
<text x="143.20" y="188.20" font-size="7.6" fill="#1a1a1a" stroke="#1a1a1a" stroke-width="0.15" text-anchor="end" textLength="18.80" lengthAdjust="spacingAndGlyphs">2000</text>
<line x1="143.30" y1="206.00" x2="147.80" y2="206.00" stroke="#555" stroke-width="0.9"/>
<text x="143.20" y="208.70" font-size="7.6" fill="#1a1a1a" stroke="#1a1a1a" stroke-width="0.15" text-anchor="end" textLength="18.80" lengthAdjust="spacingAndGlyphs">1000</text>
<line x1="143.30" y1="226.60" x2="147.80" y2="226.60" stroke="#555" stroke-width="0.9"/>
<text x="143.20" y="229.30" font-size="7.6" fill="#1a1a1a" stroke="#1a1a1a" stroke-width="0.15" text-anchor="end" textLength="5.40" lengthAdjust="spacingAndGlyphs">0</text>
<line x1="169.05" y1="226.60" x2="169.05" y2="229.60" stroke="#555" stroke-width="0.9"/>
<line x1="200.25" y1="226.60" x2="200.25" y2="229.60" stroke="#555" stroke-width="0.9"/>
<path d="M159.30,226.60V178.10H178.80V226.60" fill="none" stroke="#ff4040" stroke-width="0.9"/>
<path d="M190.50,226.60V225.36H210.00V226.60" fill="none" stroke="#ff4040" stroke-width="0.9"/>
<line x1="169.05" y1="169.70" x2="169.05" y2="186.50" stroke="#ee1c1c" stroke-width="0.9"/>
<line x1="164.05" y1="169.70" x2="174.05" y2="169.70" stroke="#ee1c1c" stroke-width="0.9"/>
<line x1="164.05" y1="186.50" x2="174.05" y2="186.50" stroke="#ee1c1c" stroke-width="0.9"/>
<rect x="167.40" y="163.70" width="3.60" height="3.60" fill="#f01414"/>
<rect x="166.90" y="168.50" width="3.60" height="3.60" fill="#f01414"/>
<rect x="168.00" y="178.40" width="3.60" height="3.60" fill="#f01414"/>
<rect x="163.80" y="180.50" width="3.60" height="3.60" fill="#f01414"/>
<rect x="171.10" y="181.20" width="3.60" height="3.60" fill="#f01414"/>
<rect x="163.80" y="184.20" width="3.60" height="3.60" fill="#f01414"/>
<rect x="169.00" y="182.70" width="3.60" height="3.60" fill="#f01414"/>
<rect x="189.50" y="222.60" width="4.00" height="4.00" fill="#f01414"/>
<rect x="193.00" y="221.90" width="4.00" height="4.00" fill="#f01414"/>
<rect x="196.50" y="222.30" width="4.00" height="4.00" fill="#f01414"/>
<rect x="200.00" y="222.40" width="4.00" height="4.00" fill="#f01414"/>
<rect x="203.50" y="221.80" width="4.00" height="4.00" fill="#f01414"/>
<rect x="206.50" y="221.30" width="4.00" height="4.00" fill="#f01414"/>
<rect x="206.50" y="223.00" width="4.00" height="4.00" fill="#f01414"/>
<path d="M169.40,155.70 V150.80 H205.90 V155.70" fill="none" stroke="#555" stroke-width="0.9"/>
<text x="165.60" y="146.90" font-size="8.6" fill="#1a1a1a" stroke="#1a1a1a" stroke-width="0.15" textLength="48.70" lengthAdjust="spacingAndGlyphs">p = 0.0022</text>
<text x="153.60" y="237.50" font-size="8.6" fill="#ee1c1c" stroke="#ee1c1c" stroke-width="0.4" textLength="28.80" lengthAdjust="spacingAndGlyphs">B cells</text>
<text x="188.00" y="237.50" font-size="8.6" fill="#ee1c1c" stroke="#ee1c1c" stroke-width="0.4" textLength="32.10" lengthAdjust="spacingAndGlyphs">Plasma</text>
<text transform="translate(121.20,187.60) rotate(-90)" x="0" y="0" font-size="10.6" fill="#1a1a1a" text-anchor="middle" stroke="#1a1a1a" stroke-width="0.15" textLength="44.60" lengthAdjust="spacingAndGlyphs">pax5 mRNA</text>
<line x1="260.90" y1="144.10" x2="260.90" y2="226.60" stroke="#555" stroke-width="0.9"/>
<line x1="260.90" y1="226.60" x2="335.00" y2="226.60" stroke="#555" stroke-width="0.9"/>
<line x1="256.40" y1="144.10" x2="260.90" y2="144.10" stroke="#555" stroke-width="0.9"/>
<text x="256.30" y="146.80" font-size="7.6" fill="#1a1a1a" stroke="#1a1a1a" stroke-width="0.15" text-anchor="end" textLength="18.80" lengthAdjust="spacingAndGlyphs">4000</text>
<line x1="256.40" y1="165.00" x2="260.90" y2="165.00" stroke="#555" stroke-width="0.9"/>
<text x="256.30" y="167.70" font-size="7.6" fill="#1a1a1a" stroke="#1a1a1a" stroke-width="0.15" text-anchor="end" textLength="18.80" lengthAdjust="spacingAndGlyphs">3000</text>
<line x1="256.40" y1="185.50" x2="260.90" y2="185.50" stroke="#555" stroke-width="0.9"/>
<text x="256.30" y="188.20" font-size="7.6" fill="#1a1a1a" stroke="#1a1a1a" stroke-width="0.15" text-anchor="end" textLength="18.80" lengthAdjust="spacingAndGlyphs">2000</text>
<line x1="256.40" y1="206.00" x2="260.90" y2="206.00" stroke="#555" stroke-width="0.9"/>
<text x="256.30" y="208.70" font-size="7.6" fill="#1a1a1a" stroke="#1a1a1a" stroke-width="0.15" text-anchor="end" textLength="18.80" lengthAdjust="spacingAndGlyphs">1000</text>
<line x1="256.40" y1="226.60" x2="260.90" y2="226.60" stroke="#555" stroke-width="0.9"/>
<text x="256.30" y="229.30" font-size="7.6" fill="#1a1a1a" stroke="#1a1a1a" stroke-width="0.15" text-anchor="end" textLength="5.40" lengthAdjust="spacingAndGlyphs">0</text>
<line x1="282.00" y1="226.60" x2="282.00" y2="229.60" stroke="#555" stroke-width="0.9"/>
<line x1="313.45" y1="226.60" x2="313.45" y2="229.60" stroke="#555" stroke-width="0.9"/>
<path d="M272.00,226.60V208.50H292.00V226.60" fill="none" stroke="#ff4040" stroke-width="0.9"/>
<path d="M303.50,226.60V175.00H323.40V226.60" fill="none" stroke="#ff4040" stroke-width="0.9"/>
<line x1="282.00" y1="206.50" x2="282.00" y2="210.50" stroke="#ee1c1c" stroke-width="0.9"/>
<line x1="277.00" y1="206.50" x2="287.00" y2="206.50" stroke="#ee1c1c" stroke-width="0.9"/>
<line x1="277.00" y1="210.50" x2="287.00" y2="210.50" stroke="#ee1c1c" stroke-width="0.9"/>
<line x1="313.45" y1="167.60" x2="313.45" y2="180.80" stroke="#ee1c1c" stroke-width="0.9"/>
<line x1="308.45" y1="167.60" x2="318.45" y2="167.60" stroke="#ee1c1c" stroke-width="0.9"/>
<line x1="308.45" y1="180.80" x2="318.45" y2="180.80" stroke="#ee1c1c" stroke-width="0.9"/>
<rect x="271.10" y="208.00" width="3.60" height="3.60" fill="#f01414"/>
<rect x="271.70" y="206.30" width="3.60" height="3.60" fill="#f01414"/>
<rect x="277.60" y="204.20" width="3.60" height="3.60" fill="#f01414"/>
<rect x="283.20" y="204.60" width="3.60" height="3.60" fill="#f01414"/>
<rect x="283.20" y="207.40" width="3.60" height="3.60" fill="#f01414"/>
<rect x="289.10" y="206.30" width="3.60" height="3.60" fill="#f01414"/>
<rect x="312.00" y="162.70" width="3.60" height="3.60" fill="#f01414"/>
<rect x="305.20" y="170.60" width="3.60" height="3.60" fill="#f01414"/>
<rect x="312.00" y="169.60" width="3.60" height="3.60" fill="#f01414"/>
<rect x="318.50" y="172.30" width="3.60" height="3.60" fill="#f01414"/>
<rect x="312.00" y="175.30" width="3.60" height="3.60" fill="#f01414"/>
<rect x="312.00" y="182.20" width="3.60" height="3.60" fill="#f01414"/>
<path d="M279.40,155.70 V150.80 H313.30 V155.70" fill="none" stroke="#555" stroke-width="0.9"/>
<text x="271.40" y="146.90" font-size="8.6" fill="#1a1a1a" stroke="#1a1a1a" stroke-width="0.15" textLength="48.20" lengthAdjust="spacingAndGlyphs">p = 0.0022</text>
<text x="267.20" y="237.50" font-size="8.6" fill="#ee1c1c" stroke="#ee1c1c" stroke-width="0.4" textLength="27.70" lengthAdjust="spacingAndGlyphs">B cells</text>
<text x="301.40" y="237.50" font-size="8.6" fill="#ee1c1c" stroke="#ee1c1c" stroke-width="0.4" textLength="32.30" lengthAdjust="spacingAndGlyphs">Plasma</text>
<text transform="translate(233.20,187.80) rotate(-90)" x="0" y="0" font-size="10.6" fill="#1a1a1a" text-anchor="middle" stroke="#1a1a1a" stroke-width="0.15" textLength="39.40" lengthAdjust="spacingAndGlyphs">irf4 mRNA</text>
<line x1="373.60" y1="143.50" x2="373.60" y2="226.60" stroke="#555" stroke-width="0.9"/>
<line x1="373.60" y1="226.60" x2="448.50" y2="226.60" stroke="#555" stroke-width="0.9"/>
<line x1="369.10" y1="143.50" x2="373.60" y2="143.50" stroke="#555" stroke-width="0.9"/>
<text x="369.00" y="146.20" font-size="7.6" fill="#1a1a1a" stroke="#1a1a1a" stroke-width="0.15" text-anchor="end" textLength="19.00" lengthAdjust="spacingAndGlyphs">1500</text>
<line x1="369.10" y1="171.40" x2="373.60" y2="171.40" stroke="#555" stroke-width="0.9"/>
<text x="369.00" y="174.10" font-size="7.6" fill="#1a1a1a" stroke="#1a1a1a" stroke-width="0.15" text-anchor="end" textLength="19.00" lengthAdjust="spacingAndGlyphs">1000</text>
<line x1="369.10" y1="199.30" x2="373.60" y2="199.30" stroke="#555" stroke-width="0.9"/>
<text x="369.00" y="202.00" font-size="7.6" fill="#1a1a1a" stroke="#1a1a1a" stroke-width="0.15" text-anchor="end" textLength="14.25" lengthAdjust="spacingAndGlyphs">500</text>
<line x1="369.10" y1="226.60" x2="373.60" y2="226.60" stroke="#555" stroke-width="0.9"/>
<text x="369.00" y="229.30" font-size="7.6" fill="#1a1a1a" stroke="#1a1a1a" stroke-width="0.15" text-anchor="end" textLength="5.40" lengthAdjust="spacingAndGlyphs">0</text>
<line x1="395.00" y1="226.60" x2="395.00" y2="229.60" stroke="#555" stroke-width="0.9"/>
<line x1="427.00" y1="226.60" x2="427.00" y2="229.60" stroke="#555" stroke-width="0.9"/>
<path d="M385.00,226.60V225.49H405.00V226.60" fill="none" stroke="#ff4040" stroke-width="0.9"/>
<path d="M417.00,226.60V173.00H437.00V226.60" fill="none" stroke="#ff4040" stroke-width="0.9"/>
<line x1="427.00" y1="164.70" x2="427.00" y2="180.80" stroke="#ee1c1c" stroke-width="0.9"/>
<line x1="422.00" y1="164.70" x2="432.00" y2="164.70" stroke="#ee1c1c" stroke-width="0.9"/>
<line x1="422.00" y1="180.80" x2="432.00" y2="180.80" stroke="#ee1c1c" stroke-width="0.9"/>
<rect x="383.50" y="223.20" width="4.00" height="4.00" fill="#f01414"/>
<rect x="387.00" y="222.60" width="4.00" height="4.00" fill="#f01414"/>
<rect x="390.50" y="222.90" width="4.00" height="4.00" fill="#f01414"/>
<rect x="394.00" y="222.40" width="4.00" height="4.00" fill="#f01414"/>
<rect x="397.50" y="223.00" width="4.00" height="4.00" fill="#f01414"/>
<rect x="401.00" y="222.60" width="4.00" height="4.00" fill="#f01414"/>
<rect x="425.20" y="158.70" width="3.60" height="3.60" fill="#f01414"/>
<rect x="425.20" y="164.20" width="3.60" height="3.60" fill="#f01414"/>
<rect x="420.50" y="171.70" width="3.60" height="3.60" fill="#f01414"/>
<rect x="428.90" y="171.70" width="3.60" height="3.60" fill="#f01414"/>
<rect x="425.20" y="177.60" width="3.60" height="3.60" fill="#f01414"/>
<rect x="425.20" y="180.50" width="3.60" height="3.60" fill="#f01414"/>
<path d="M390.40,155.70 V150.80 H427.00 V155.70" fill="none" stroke="#555" stroke-width="0.9"/>
<text x="384.10" y="146.90" font-size="8.6" fill="#1a1a1a" stroke="#1a1a1a" stroke-width="0.15" textLength="48.70" lengthAdjust="spacingAndGlyphs">p = 0.0022</text>
<text x="380.00" y="237.50" font-size="8.6" fill="#ee1c1c" stroke="#ee1c1c" stroke-width="0.4" textLength="28.00" lengthAdjust="spacingAndGlyphs">B cells</text>
<text x="413.50" y="237.50" font-size="8.6" fill="#ee1c1c" stroke="#ee1c1c" stroke-width="0.4" textLength="32.90" lengthAdjust="spacingAndGlyphs">Plasma</text>
<text transform="translate(347.00,187.60) rotate(-90)" x="0" y="0" font-size="10.6" fill="#1a1a1a" text-anchor="middle" stroke="#1a1a1a" stroke-width="0.15" textLength="52.00" lengthAdjust="spacingAndGlyphs">prdm1 mRNA</text>
<text x="501.80" y="141.00" font-size="19" fill="#111" stroke="#111" stroke-width="0.15">f</text>
<line x1="548.70" y1="143.10" x2="548.70" y2="226.60" stroke="#555" stroke-width="0.9"/>
<line x1="548.70" y1="226.60" x2="619.30" y2="226.60" stroke="#555" stroke-width="0.9"/>
<line x1="544.20" y1="143.10" x2="548.70" y2="143.10" stroke="#555" stroke-width="0.9"/>
<text x="542.50" y="146.20" font-size="8.7" fill="#1a1a1a" stroke="#1a1a1a" stroke-width="0.15" text-anchor="end" textLength="25.50" lengthAdjust="spacingAndGlyphs">2 000</text>
<line x1="544.20" y1="164.00" x2="548.70" y2="164.00" stroke="#555" stroke-width="0.9"/>
<text x="542.50" y="167.10" font-size="8.7" fill="#1a1a1a" stroke="#1a1a1a" stroke-width="0.15" text-anchor="end" textLength="25.50" lengthAdjust="spacingAndGlyphs">1 500</text>
<line x1="544.20" y1="185.00" x2="548.70" y2="185.00" stroke="#555" stroke-width="0.9"/>
<text x="542.50" y="188.10" font-size="8.7" fill="#1a1a1a" stroke="#1a1a1a" stroke-width="0.15" text-anchor="end" textLength="25.50" lengthAdjust="spacingAndGlyphs">1 000</text>
<line x1="544.20" y1="205.60" x2="548.70" y2="205.60" stroke="#555" stroke-width="0.9"/>
<text x="542.50" y="208.70" font-size="8.7" fill="#1a1a1a" stroke="#1a1a1a" stroke-width="0.15" text-anchor="end" textLength="16.50" lengthAdjust="spacingAndGlyphs">500</text>
<line x1="544.20" y1="226.60" x2="548.70" y2="226.60" stroke="#555" stroke-width="0.9"/>
<text x="542.50" y="229.70" font-size="8.7" fill="#1a1a1a" stroke="#1a1a1a" stroke-width="0.15" text-anchor="end" textLength="5.90" lengthAdjust="spacingAndGlyphs">0</text>
<line x1="568.60" y1="226.60" x2="568.60" y2="229.60" stroke="#555" stroke-width="0.9"/>
<line x1="598.40" y1="226.60" x2="598.40" y2="229.60" stroke="#555" stroke-width="0.9"/>
<path d="M559.20,226.60V214.40H577.70V226.60" fill="none" stroke="#ff4040" stroke-width="0.9"/>
<path d="M589.20,226.60V170.30H607.50V226.60" fill="none" stroke="#ff4040" stroke-width="0.9"/>
<line x1="598.40" y1="159.40" x2="598.40" y2="176.00" stroke="#ee1c1c" stroke-width="0.9"/>
<line x1="593.40" y1="159.40" x2="603.40" y2="159.40" stroke="#ee1c1c" stroke-width="0.9"/>
<line x1="593.40" y1="176.00" x2="603.40" y2="176.00" stroke="#ee1c1c" stroke-width="0.9"/>
<rect x="558.50" y="213.00" width="3.60" height="3.60" fill="#f01414"/>
<rect x="562.00" y="212.00" width="3.60" height="3.60" fill="#f01414"/>
<rect x="566.20" y="209.00" width="3.60" height="3.60" fill="#f01414"/>
<rect x="569.00" y="212.00" width="3.60" height="3.60" fill="#f01414"/>
<rect x="571.70" y="214.30" width="3.60" height="3.60" fill="#f01414"/>
<rect x="574.60" y="213.00" width="3.60" height="3.60" fill="#f01414"/>
<rect x="564.20" y="213.70" width="3.60" height="3.60" fill="#f01414"/>
<rect x="589.80" y="152.30" width="3.80" height="3.80" fill="#f01414"/>
<rect x="596.10" y="154.20" width="3.80" height="3.80" fill="#f01414"/>
<rect x="589.80" y="175.40" width="3.80" height="3.80" fill="#f01414"/>
<rect x="596.10" y="173.70" width="3.80" height="3.80" fill="#f01414"/>
<rect x="602.40" y="174.70" width="3.80" height="3.80" fill="#f01414"/>
<rect x="602.40" y="172.60" width="3.80" height="3.80" fill="#f01414"/>
<rect x="589.80" y="173.30" width="3.80" height="3.80" fill="#f01414"/>
<path d="M568.70,149.00 V143.50 H599.00 V149.00" fill="none" stroke="#555" stroke-width="0.9"/>
<text x="559.20" y="141.60" font-size="9.2" fill="#1a1a1a" stroke="#1a1a1a" stroke-width="0.15" textLength="49.30" lengthAdjust="spacingAndGlyphs">p = 0.0006</text>
<text x="554.00" y="237.90" font-size="8.6" fill="#ee1c1c" stroke="#ee1c1c" stroke-width="0.4" textLength="29.00" lengthAdjust="spacingAndGlyphs">B cells</text>
<text x="586.50" y="237.90" font-size="8.6" fill="#ee1c1c" stroke="#ee1c1c" stroke-width="0.4" textLength="32.50" lengthAdjust="spacingAndGlyphs">Plasma</text>
<text transform="translate(512.60,187.20) rotate(-90)" x="0" y="0" font-size="9.2" fill="#1a1a1a" text-anchor="middle" stroke="#1a1a1a" stroke-width="0.15" textLength="45.60" lengthAdjust="spacingAndGlyphs">BLIMP1 MFI</text>
<text x="6.50" y="254.50" font-size="19" fill="#111" stroke="#111" stroke-width="0.15">g</text>
<text x="8.00" y="254.50" font-size="19" fill="#111" stroke="#111" stroke-width="0.15">g</text>
<line x1="46.60" y1="268.90" x2="46.60" y2="358.60" stroke="#555" stroke-width="0.9"/>
<line x1="46.60" y1="358.60" x2="125.50" y2="358.60" stroke="#555" stroke-width="0.9"/>
<line x1="42.10" y1="268.80" x2="46.60" y2="268.80" stroke="#555" stroke-width="0.9"/>
<text x="42.20" y="271.40" font-size="7.2" fill="#1a1a1a" stroke="#1a1a1a" stroke-width="0.15" text-anchor="end" textLength="16.20" lengthAdjust="spacingAndGlyphs">100</text>
<line x1="42.10" y1="294.50" x2="46.60" y2="294.50" stroke="#555" stroke-width="0.9"/>
<text x="42.20" y="297.10" font-size="7.2" fill="#1a1a1a" stroke="#1a1a1a" stroke-width="0.15" text-anchor="end" textLength="10.80" lengthAdjust="spacingAndGlyphs">80</text>
<line x1="42.10" y1="320.20" x2="46.60" y2="320.20" stroke="#555" stroke-width="0.9"/>
<text x="42.20" y="322.80" font-size="7.2" fill="#1a1a1a" stroke="#1a1a1a" stroke-width="0.15" text-anchor="end" textLength="10.80" lengthAdjust="spacingAndGlyphs">60</text>
<line x1="42.10" y1="345.90" x2="46.60" y2="345.90" stroke="#555" stroke-width="0.9"/>
<text x="42.20" y="348.50" font-size="7.2" fill="#1a1a1a" stroke="#1a1a1a" stroke-width="0.15" text-anchor="end" textLength="10.80" lengthAdjust="spacingAndGlyphs">40</text>
<line x1="68.50" y1="358.60" x2="68.50" y2="361.60" stroke="#555" stroke-width="0.9"/>
<line x1="102.60" y1="358.60" x2="102.60" y2="361.60" stroke="#555" stroke-width="0.9"/>
<path d="M58.40,358.60V330.48H79.10V358.60" fill="none" stroke="#333" stroke-width="0.8"/>
<path d="M92.00,358.60V298.35H113.00V358.60" fill="none" stroke="#ff4040" stroke-width="0.9"/>
<line x1="68.50" y1="318.91" x2="68.50" y2="342.04" stroke="#444" stroke-width="0.8"/>
<line x1="64.00" y1="318.91" x2="73.00" y2="318.91" stroke="#444" stroke-width="0.8"/>
<line x1="64.00" y1="342.04" x2="73.00" y2="342.04" stroke="#444" stroke-width="0.8"/>
<line x1="102.60" y1="290.64" x2="102.60" y2="305.42" stroke="#ee1c1c" stroke-width="0.9"/>
<line x1="98.10" y1="290.64" x2="107.10" y2="290.64" stroke="#ee1c1c" stroke-width="0.9"/>
<line x1="98.10" y1="305.42" x2="107.10" y2="305.42" stroke="#ee1c1c" stroke-width="0.9"/>
<circle cx="64.80" cy="318.40" r="1.35" fill="none" stroke="#222" stroke-width="0.7"/>
<circle cx="64.80" cy="321.40" r="1.35" fill="none" stroke="#222" stroke-width="0.7"/>
<circle cx="73.20" cy="318.40" r="1.35" fill="none" stroke="#222" stroke-width="0.7"/>
<circle cx="73.20" cy="321.40" r="1.35" fill="none" stroke="#222" stroke-width="0.7"/>
<circle cx="68.30" cy="330.90" r="1.35" fill="none" stroke="#222" stroke-width="0.7"/>
<circle cx="68.30" cy="334.80" r="1.35" fill="none" stroke="#222" stroke-width="0.7"/>
<circle cx="64.80" cy="345.00" r="1.35" fill="none" stroke="#222" stroke-width="0.7"/>
<circle cx="64.80" cy="348.60" r="1.35" fill="none" stroke="#222" stroke-width="0.7"/>
<circle cx="73.20" cy="345.00" r="1.35" fill="none" stroke="#222" stroke-width="0.7"/>
<circle cx="73.20" cy="348.60" r="1.35" fill="none" stroke="#222" stroke-width="0.7"/>
<rect x="100.90" y="282.50" width="3.60" height="3.60" fill="#f01414"/>
<rect x="97.70" y="288.70" width="3.60" height="3.60" fill="#f01414"/>
<rect x="103.20" y="287.10" width="3.60" height="3.60" fill="#f01414"/>
<rect x="100.90" y="296.80" width="3.60" height="3.60" fill="#f01414"/>
<rect x="91.40" y="303.00" width="3.60" height="3.60" fill="#f01414"/>
<rect x="95.90" y="303.00" width="3.60" height="3.60" fill="#f01414"/>
<rect x="100.90" y="303.00" width="3.60" height="3.60" fill="#f01414"/>
<rect x="105.00" y="303.00" width="3.60" height="3.60" fill="#f01414"/>
<rect x="110.00" y="303.00" width="3.60" height="3.60" fill="#f01414"/>
<rect x="98.20" y="303.50" width="3.60" height="3.60" fill="#f01414"/>
<path d="M68.20,274.00 V268.40 H103.40 V272.00" fill="none" stroke="#555" stroke-width="0.9"/>
<text x="60.90" y="264.50" font-size="8.4" fill="#1a1a1a" stroke="#1a1a1a" stroke-width="0.15" textLength="50.00" lengthAdjust="spacingAndGlyphs">p &lt; 0.0001</text>
<text x="58.00" y="369.50" font-size="8.4" fill="#1a1a1a" stroke="#1a1a1a" stroke-width="0.15" textLength="25.00" lengthAdjust="spacingAndGlyphs">Sham</text>
<text x="93.20" y="369.50" font-size="8.4" fill="#ee1c1c" stroke="#ee1c1c" stroke-width="0.15" textLength="17.00" lengthAdjust="spacingAndGlyphs">CLP</text>
<text transform="translate(8.30,314.70) rotate(-90)" x="0" y="0" font-size="9.8" fill="#1a1a1a" text-anchor="middle" stroke="#1a1a1a" stroke-width="0.15" textLength="103.40" lengthAdjust="spacingAndGlyphs">% surface IgM+ plasma cells</text>
<text transform="translate(22.40,312.20) rotate(-90)" x="0" y="0" font-size="9.8" fill="#1a1a1a" text-anchor="middle" stroke="#1a1a1a" stroke-width="0.15" textLength="98.40" lengthAdjust="spacingAndGlyphs">(among total plasma cells)</text>
<text x="141.90" y="278.30" font-size="9.2" fill="#1a1a1a" stroke="#1a1a1a" stroke-width="0.15" textLength="125.30" lengthAdjust="spacingAndGlyphs">Gated on B220+ splenocytes</text>
<clipPath id="gclip0"><rect x="155.4" y="283.1" width="76.5" height="61.89999999999998"/></clipPath>
<g clip-path="url(#gclip0)">
<path d="M200.3 315.4h0.6M204.3 309.3h0.6M195.6 320.7h0.6M206.5 309.3h0.6M197.9 319.0h0.6M208.8 309.8h0.6M202.4 317.0h0.6M208.1 314.2h0.6M205.1 315.7h0.6M197.4 320.4h0.6M203.2 311.8h0.6M204.8 308.8h0.6M204.1 313.3h0.6M208.1 321.1h0.6M204.8 327.5h0.6M208.1 310.7h0.6M197.1 300.8h0.6M210.4 308.0h0.6M204.9 320.2h0.6M199.1 318.0h0.6M202.3 323.5h0.6M195.5 319.6h0.6M197.2 326.0h0.6M207.4 321.0h0.6M208.3 318.0h0.6M200.0 327.0h0.6M188.8 316.7h0.6M195.1 315.5h0.6M206.2 321.3h0.6M204.3 305.7h0.6M204.5 310.2h0.6M194.2 310.2h0.6M199.5 316.2h0.6M203.6 315.4h0.6M204.9 303.8h0.6M198.8 322.1h0.6M200.2 317.8h0.6M203.9 297.6h0.6M196.8 317.2h0.6M195.2 307.3h0.6M205.9 305.5h0.6M202.2 307.1h0.6M193.4 326.6h0.6M209.4 308.9h0.6M211.7 318.5h0.6M205.3 315.5h0.6M200.1 329.6h0.6M202.6 315.9h0.6M204.6 310.0h0.6M198.5 320.0h0.6M204.1 324.1h0.6M196.2 314.8h0.6M201.0 320.4h0.6M192.8 307.7h0.6M198.0 305.3h0.6M199.2 320.7h0.6M188.0 313.6h0.6M201.9 317.4h0.6M203.6 310.1h0.6M206.1 307.7h0.6M205.1 310.8h0.6M201.7 310.6h0.6M193.7 311.6h0.6M209.4 310.8h0.6M199.8 308.8h0.6M189.7 316.6h0.6M195.4 307.5h0.6M200.1 296.9h0.6M203.7 314.1h0.6M202.2 321.9h0.6M210.5 319.6h0.6M191.6 318.4h0.6M199.9 310.4h0.6M192.4 306.7h0.6M194.1 303.5h0.6M208.0 313.2h0.6M201.6 312.5h0.6M213.3 319.7h0.6M209.6 323.0h0.6M207.3 305.2h0.6M206.2 311.2h0.6M196.5 308.6h0.6M197.8 315.9h0.6M199.8 316.4h0.6M197.3 312.4h0.6M200.8 318.1h0.6M213.3 308.8h0.6M204.0 322.9h0.6M199.6 319.6h0.6M198.5 321.5h0.6M202.6 321.3h0.6M210.4 313.7h0.6M202.5 298.9h0.6M199.3 328.1h0.6M211.1 305.1h0.6M199.6 310.0h0.6M195.7 323.6h0.6M197.8 314.6h0.6M198.4 314.6h0.6M196.0 321.4h0.6M202.8 301.1h0.6M212.4 318.7h0.6M200.6 302.5h0.6M190.6 311.1h0.6M204.4 322.9h0.6M205.8 316.2h0.6M196.8 315.8h0.6M196.0 305.6h0.6M206.7 315.0h0.6M215.4 308.9h0.6M198.6 309.2h0.6M214.8 321.0h0.6M212.2 312.9h0.6M204.5 316.3h0.6M199.4 310.7h0.6M189.6 319.8h0.6M203.4 302.9h0.6M195.3 305.4h0.6M209.6 311.9h0.6M199.3 303.0h0.6M208.6 314.8h0.6M197.6 316.4h0.6M205.9 312.1h0.6M199.0 315.5h0.6M207.3 313.9h0.6M193.6 329.0h0.6M197.6 317.4h0.6M196.5 303.2h0.6M201.0 318.3h0.6M216.4 303.6h0.6M203.5 322.1h0.6M199.5 323.9h0.6M196.2 303.3h0.6M217.1 312.8h0.6M215.6 309.4h0.6M201.8 310.3h0.6M194.2 308.4h0.6M189.0 317.2h0.6M208.2 315.2h0.6M210.8 308.5h0.6M195.8 297.6h0.6M201.6 312.5h0.6M204.3 308.5h0.6M206.0 326.7h0.6M194.9 312.6h0.6M198.2 316.5h0.6M197.3 308.4h0.6M192.5 298.0h0.6M204.2 312.1h0.6M197.8 301.7h0.6M211.3 321.1h0.6M204.4 316.2h0.6M199.0 325.0h0.6M200.6 310.5h0.6M198.7 312.2h0.6M218.7 325.0h0.6M200.2 316.7h0.6M195.9 314.4h0.6M199.4 314.8h0.6M198.2 310.2h0.6M196.2 307.2h0.6M205.8 313.0h0.6M203.7 309.7h0.6M203.0 305.8h0.6M207.9 309.1h0.6M208.5 309.5h0.6M199.0 304.0h0.6M209.3 312.7h0.6M204.4 318.4h0.6M201.1 307.2h0.6M204.5 315.1h0.6M202.0 310.1h0.6M193.9 308.1h0.6M200.5 313.9h0.6M190.6 302.9h0.6M205.2 315.6h0.6M194.4 309.9h0.6M202.4 310.0h0.6M202.8 313.6h0.6M195.4 324.1h0.6M208.5 312.0h0.6M198.1 316.9h0.6M203.1 309.5h0.6M196.5 306.2h0.6M207.4 311.7h0.6M211.9 318.1h0.6M204.9 315.8h0.6M205.5 311.9h0.6M197.2 322.4h0.6M203.9 313.5h0.6M199.6 323.6h0.6M211.4 308.5h0.6M197.7 313.1h0.6M205.6 311.3h0.6M203.3 313.3h0.6M211.3 315.9h0.6M206.2 315.7h0.6M189.2 308.3h0.6M210.5 304.3h0.6M195.6 309.0h0.6M207.1 309.7h0.6M190.8 312.4h0.6M201.9 314.7h0.6M205.5 311.2h0.6M185.4 319.0h0.6M191.8 310.6h0.6M216.8 303.1h0.6M200.0 321.8h0.6M213.8 319.3h0.6M203.0 311.2h0.6M197.8 319.3h0.6M198.8 295.2h0.6M199.5 310.4h0.6M200.8 301.6h0.6M205.5 313.6h0.6M201.7 311.7h0.6M210.2 312.6h0.6M201.7 312.7h0.6M196.3 309.8h0.6M204.8 311.7h0.6M199.6 307.0h0.6M208.6 313.8h0.6M203.2 313.4h0.6M198.1 305.5h0.6M204.4 324.7h0.6M197.2 304.8h0.6M201.5 309.6h0.6M194.3 304.6h0.6M216.0 298.4h0.6M199.8 311.4h0.6M194.7 320.8h0.6M187.0 320.7h0.6M211.0 310.8h0.6M212.1 321.3h0.6M203.7 315.5h0.6M196.7 311.3h0.6M202.9 303.7h0.6M197.9 321.5h0.6M195.9 323.8h0.6M204.9 317.4h0.6M206.1 310.1h0.6M196.3 317.0h0.6M208.1 315.2h0.6M198.4 311.3h0.6M181.6 312.4h0.6M192.9 309.9h0.6M206.1 318.9h0.6M202.8 307.7h0.6M207.6 300.3h0.6M205.1 316.6h0.6M210.7 314.2h0.6M195.1 319.1h0.6M207.3 310.3h0.6M214.8 315.0h0.6M199.1 321.0h0.6M193.5 310.2h0.6M201.1 306.5h0.6M204.8 309.1h0.6M206.2 321.0h0.6M205.4 308.0h0.6M221.8 313.4h0.6M196.2 312.9h0.6M196.9 317.3h0.6M206.4 313.9h0.6M198.2 317.8h0.6M198.8 307.6h0.6M202.4 324.6h0.6M212.2 339.1h0.6M197.7 315.0h0.6M192.6 312.3h0.6M204.2 304.0h0.6M204.8 320.6h0.6M211.8 307.2h0.6M201.6 319.8h0.6M201.1 324.0h0.6M199.8 320.8h0.6M201.3 324.2h0.6M195.9 305.4h0.6M201.5 302.6h0.6M193.6 322.8h0.6M205.7 314.5h0.6M201.2 315.9h0.6M203.7 308.1h0.6M197.4 307.8h0.6M201.6 306.9h0.6M198.0 302.3h0.6M213.5 318.5h0.6M205.3 319.9h0.6M200.1 316.6h0.6M205.2 319.1h0.6M206.0 310.9h0.6M202.6 300.8h0.6M193.6 307.9h0.6M213.7 321.1h0.6M201.4 319.9h0.6M199.1 310.1h0.6M198.8 313.6h0.6M206.9 319.9h0.6M199.5 313.8h0.6M205.3 307.8h0.6M203.4 309.1h0.6M205.0 315.5h0.6M208.4 309.5h0.6M198.0 317.5h0.6M190.8 311.5h0.6M198.7 315.9h0.6M202.9 309.8h0.6M204.7 314.6h0.6M204.6 316.5h0.6M195.1 317.5h0.6M198.9 318.5h0.6M199.7 328.0h0.6M191.2 316.8h0.6M190.5 312.4h0.6M210.3 315.2h0.6M193.6 302.3h0.6M200.8 311.1h0.6M197.1 309.0h0.6M200.9 320.2h0.6M200.5 314.8h0.6M196.8 322.6h0.6M192.7 315.8h0.6M199.9 309.6h0.6M218.9 314.9h0.6M205.7 308.5h0.6M197.6 316.0h0.6M206.6 317.0h0.6M209.9 312.3h0.6M195.9 309.9h0.6M201.2 306.9h0.6M205.2 317.1h0.6M200.0 306.5h0.6M198.8 321.1h0.6M206.0 321.0h0.6M200.7 314.3h0.6M199.6 317.3h0.6M199.3 322.0h0.6M204.0 317.1h0.6M207.3 313.2h0.6M198.6 310.4h0.6M209.8 314.0h0.6M184.4 315.1h0.6M202.1 314.0h0.6M206.0 317.2h0.6M213.7 301.6h0.6M211.0 305.9h0.6M190.0 306.0h0.6M200.7 314.3h0.6M202.3 308.9h0.6M192.9 310.0h0.6M193.1 322.4h0.6M196.2 326.9h0.6M197.5 314.1h0.6M204.3 308.8h0.6M202.5 307.7h0.6M191.0 314.3h0.6M196.1 302.1h0.6M190.3 315.8h0.6M210.1 306.7h0.6M198.3 323.8h0.6M199.4 309.4h0.6M201.8 312.1h0.6M198.2 306.9h0.6M209.9 319.4h0.6M204.4 304.4h0.6M206.8 313.7h0.6M199.9 311.0h0.6M205.3 313.2h0.6M197.0 312.9h0.6M206.0 313.1h0.6M202.6 316.1h0.6M207.7 314.2h0.6M197.6 313.8h0.6M202.5 309.4h0.6M185.8 306.7h0.6M192.1 307.4h0.6M201.9 308.1h0.6M195.2 301.2h0.6M200.7 311.7h0.6M213.7 310.3h0.6M196.3 311.3h0.6M207.7 315.9h0.6M196.5 318.2h0.6M201.2 309.3h0.6M204.4 309.7h0.6M199.6 309.3h0.6M198.0 320.9h0.6M207.6 311.7h0.6M210.1 305.5h0.6M193.1 309.0h0.6M198.0 320.6h0.6M204.2 316.6h0.6M211.2 313.8h0.6M215.3 315.0h0.6M200.4 304.9h0.6M208.8 309.0h0.6M210.1 323.7h0.6M197.8 308.2h0.6M201.6 313.0h0.6M198.4 318.6h0.6M206.3 307.8h0.6M200.3 316.1h0.6M205.3 299.1h0.6M196.7 310.4h0.6M194.5 306.8h0.6M202.9 306.2h0.6M200.9 307.5h0.6M212.1 309.9h0.6M205.6 296.7h0.6M210.8 318.1h0.6M207.2 307.0h0.6M207.7 323.4h0.6M187.7 315.0h0.6M196.5 314.8h0.6M196.4 321.0h0.6M201.0 311.2h0.6M203.1 319.0h0.6M206.8 304.8h0.6M202.9 318.1h0.6M186.7 307.1h0.6M212.4 315.9h0.6M201.5 319.0h0.6M203.7 316.5h0.6M199.4 309.0h0.6M207.9 318.7h0.6M206.2 307.2h0.6M193.9 315.8h0.6M199.8 313.1h0.6M206.1 318.8h0.6M206.3 320.3h0.6M210.0 313.1h0.6M200.2 307.7h0.6M203.9 308.0h0.6M201.4 310.2h0.6M203.1 310.7h0.6M199.2 311.4h0.6M208.7 312.1h0.6M195.5 308.4h0.6M203.1 306.9h0.6M195.4 299.8h0.6M205.8 309.6h0.6M202.9 322.1h0.6M218.7 304.8h0.6M198.5 311.8h0.6M215.6 308.3h0.6M199.7 303.3h0.6M207.1 313.1h0.6M206.2 311.8h0.6M194.5 316.1h0.6M203.0 323.9h0.6M208.8 304.7h0.6M194.4 335.2h0.6M210.6 317.5h0.6M192.4 315.9h0.6M205.0 318.3h0.6M196.5 314.8h0.6M196.7 321.2h0.6M206.9 307.4h0.6M207.8 303.6h0.6M206.0 305.9h0.6M199.7 312.9h0.6M204.9 314.2h0.6M200.8 310.1h0.6M207.9 322.0h0.6M189.9 318.4h0.6M203.2 317.7h0.6M209.6 317.7h0.6M199.3 315.7h0.6M198.7 325.5h0.6M195.2 306.4h0.6M202.2 322.7h0.6M199.5 320.4h0.6M206.8 301.6h0.6M194.3 311.5h0.6M203.7 313.7h0.6M197.6 321.9h0.6M192.2 313.9h0.6M194.6 313.9h0.6M189.8 310.7h0.6M186.3 312.5h0.6M196.8 321.8h0.6M215.3 311.3h0.6M196.4 307.5h0.6M203.3 311.5h0.6M198.6 312.0h0.6M193.5 302.9h0.6M203.6 308.8h0.6M191.0 313.7h0.6M208.5 315.7h0.6M195.2 312.7h0.6M212.6 319.1h0.6M207.3 307.2h0.6M203.3 315.0h0.6M200.9 314.3h0.6M199.7 297.8h0.6M200.4 318.8h0.6M203.7 315.3h0.6M205.5 314.6h0.6M203.1 317.7h0.6M199.3 305.1h0.6" stroke="#ff3a3a" stroke-width="0.6" opacity="0.6"/>
<path d="M175.6 309.3h0.6M176.3 308.7h0.6M181.7 326.8h0.6M197.8 299.1h0.6M194.2 307.1h0.6M188.2 302.5h0.6M183.8 301.0h0.6M194.1 313.0h0.6M175.2 316.6h0.6M197.3 317.8h0.6M184.1 312.0h0.6M192.2 297.4h0.6M187.5 311.8h0.6M179.2 312.6h0.6M193.2 300.5h0.6M205.7 311.1h0.6M189.6 323.4h0.6M187.2 320.1h0.6M182.0 309.8h0.6M187.5 308.8h0.6M196.3 310.8h0.6M174.8 308.3h0.6M191.6 317.9h0.6M178.5 300.2h0.6M193.2 310.2h0.6M197.8 312.4h0.6M185.9 303.7h0.6M177.2 320.0h0.6M185.3 314.7h0.6M195.4 320.2h0.6M184.4 315.0h0.6M184.7 304.9h0.6M184.4 305.3h0.6M196.6 320.4h0.6M190.0 306.9h0.6M190.0 321.1h0.6M177.6 316.3h0.6M200.9 309.2h0.6M196.7 312.1h0.6M178.6 318.1h0.6M173.8 311.7h0.6M188.4 307.6h0.6M186.2 320.6h0.6M194.0 314.1h0.6M187.7 318.1h0.6M200.7 309.9h0.6M198.1 313.8h0.6M188.4 306.5h0.6M187.7 304.7h0.6M199.3 306.6h0.6M189.7 301.6h0.6M189.0 314.7h0.6M192.5 312.7h0.6M192.8 321.9h0.6M200.1 317.2h0.6M175.2 302.5h0.6M183.2 312.9h0.6M181.9 315.9h0.6M204.0 290.8h0.6M193.5 308.6h0.6M189.0 310.5h0.6M196.8 308.7h0.6M170.2 323.4h0.6M186.4 308.6h0.6M185.5 319.6h0.6M173.8 304.0h0.6M187.4 312.8h0.6M180.7 310.3h0.6M182.3 321.7h0.6M194.9 307.5h0.6M197.0 300.9h0.6M189.8 326.3h0.6M192.3 298.1h0.6M182.6 314.0h0.6M195.1 306.6h0.6M192.6 311.4h0.6M183.0 315.8h0.6M178.2 294.0h0.6M194.9 317.8h0.6M184.7 310.4h0.6M187.4 319.1h0.6M196.1 309.7h0.6M187.9 323.1h0.6M202.9 314.3h0.6M187.4 305.8h0.6M166.7 315.3h0.6M196.5 315.3h0.6M186.6 310.3h0.6M175.3 303.3h0.6M188.9 303.1h0.6" stroke="#ff5050" stroke-width="0.6" opacity="0.45"/>
<path d="M162.0 312.8h0.5M193.2 329.9h0.5M168.0 310.5h0.5M170.9 340.8h0.5M191.9 315.9h0.5M163.9 313.4h0.5M168.7 309.8h0.5M202.4 341.4h0.5M158.5 328.5h0.5M195.6 338.4h0.5M212.0 308.7h0.5M158.7 335.0h0.5M178.9 329.4h0.5M173.3 327.8h0.5M183.1 310.4h0.5M160.9 341.2h0.5M165.2 310.7h0.5M205.6 311.6h0.5M174.8 329.9h0.5M218.4 338.5h0.5M206.5 323.7h0.5M178.8 314.9h0.5M176.5 313.6h0.5M209.6 334.9h0.5M162.7 312.5h0.5M185.6 323.4h0.5M198.8 324.5h0.5M211.1 312.1h0.5M215.1 315.6h0.5M184.3 326.3h0.5M215.6 321.0h0.5M208.9 318.6h0.5M217.4 324.9h0.5M199.7 338.5h0.5M193.6 315.6h0.5M159.3 330.2h0.5M186.2 318.7h0.5M204.3 309.1h0.5M206.1 324.7h0.5M206.3 333.2h0.5M210.3 342.2h0.5M192.4 342.3h0.5M215.3 326.3h0.5M203.3 325.5h0.5M208.2 341.1h0.5M203.4 309.8h0.5M185.6 318.0h0.5M206.1 317.0h0.5M190.5 310.5h0.5M204.0 320.1h0.5M215.1 316.2h0.5M194.0 325.2h0.5M183.6 330.4h0.5M192.9 337.2h0.5M169.5 341.5h0.5M193.9 335.4h0.5M187.2 334.9h0.5M175.0 320.4h0.5M160.5 332.7h0.5M168.7 316.5h0.5M158.3 342.4h0.5M189.0 333.8h0.5M200.9 324.3h0.5M184.8 309.5h0.5M178.6 321.4h0.5M181.2 335.0h0.5M209.7 339.2h0.5M193.7 312.7h0.5M196.2 317.1h0.5M167.0 315.9h0.5" stroke="#444" stroke-width="0.5" opacity="0.4"/>
<path d="M184.1 341.7h0.6M173.6 332.9h0.6M194.7 337.1h0.6M169.3 343.2h0.6M175.3 343.6h0.6M194.8 336.7h0.6M183.2 328.2h0.6M172.0 340.6h0.6M186.9 333.4h0.6M187.2 328.8h0.6M181.1 338.6h0.6M180.5 330.9h0.6M193.3 328.6h0.6M172.3 334.0h0.6M183.3 320.3h0.6M180.9 334.5h0.6M164.6 338.6h0.6M180.1 332.7h0.6M172.4 332.8h0.6M184.5 333.0h0.6M186.6 343.7h0.6M173.6 327.4h0.6M191.8 323.8h0.6M164.7 343.1h0.6M169.9 324.6h0.6M194.2 327.9h0.6M176.9 339.5h0.6M183.4 334.0h0.6M175.3 328.0h0.6M165.2 341.2h0.6M188.4 322.9h0.6M188.9 328.0h0.6M179.6 336.5h0.6M187.6 332.3h0.6M182.8 327.4h0.6M183.8 328.5h0.6M168.7 340.4h0.6M168.4 334.4h0.6M173.3 337.0h0.6M175.1 342.4h0.6M181.0 334.6h0.6M169.5 340.5h0.6M185.8 322.6h0.6M168.5 328.3h0.6M194.4 340.3h0.6M182.0 336.1h0.6M179.3 327.5h0.6M180.9 330.3h0.6M178.2 344.0h0.6M181.7 323.7h0.6M169.5 329.0h0.6M190.4 340.3h0.6M157.9 331.4h0.6M164.5 333.1h0.6M195.7 338.4h0.6M184.8 322.5h0.6M172.8 326.5h0.6M173.4 333.2h0.6M171.7 339.7h0.6M186.7 331.6h0.6M170.8 333.9h0.6M167.3 335.0h0.6M183.3 329.5h0.6M195.3 330.9h0.6M163.7 343.3h0.6M181.6 327.0h0.6M167.0 334.6h0.6M191.2 339.9h0.6M164.0 336.9h0.6M182.1 341.3h0.6M187.1 334.8h0.6M177.2 339.2h0.6M173.5 325.9h0.6M183.3 323.7h0.6M186.9 333.9h0.6M197.8 325.0h0.6M182.5 333.8h0.6M182.8 339.3h0.6M186.6 329.4h0.6M178.2 341.2h0.6M183.8 338.7h0.6M163.9 336.4h0.6M181.8 334.5h0.6M187.8 318.5h0.6M178.2 340.0h0.6M183.9 323.3h0.6M167.4 342.7h0.6M188.1 321.7h0.6M176.3 330.3h0.6M172.7 333.5h0.6M194.2 330.9h0.6M182.4 341.4h0.6M199.2 321.7h0.6M176.3 342.2h0.6M184.2 337.2h0.6M184.1 341.1h0.6M165.8 329.1h0.6M176.1 331.8h0.6M176.9 321.4h0.6M183.2 334.6h0.6M173.1 323.9h0.6M183.8 331.5h0.6M164.7 322.9h0.6M182.3 322.5h0.6M181.3 331.9h0.6M192.3 331.9h0.6M180.0 329.5h0.6M185.7 328.6h0.6M199.3 339.3h0.6M175.0 328.6h0.6M181.3 335.7h0.6M174.0 319.3h0.6M181.5 329.6h0.6M167.3 324.3h0.6M200.3 332.8h0.6M172.1 327.6h0.6M183.4 343.5h0.6M181.4 334.4h0.6M190.0 331.3h0.6M187.1 338.7h0.6M194.1 337.9h0.6M184.3 326.7h0.6M183.0 327.3h0.6M190.7 330.2h0.6M184.1 339.6h0.6M177.1 332.9h0.6M185.3 323.9h0.6M190.9 337.6h0.6M186.9 331.0h0.6M180.8 330.5h0.6M181.5 335.9h0.6M173.5 335.9h0.6M172.4 316.5h0.6M167.9 337.6h0.6M176.1 334.8h0.6M192.7 329.1h0.6M181.7 331.5h0.6M171.0 339.1h0.6M173.6 327.5h0.6M164.5 334.4h0.6M182.1 319.8h0.6M188.9 328.9h0.6M172.2 329.7h0.6M172.9 334.1h0.6M183.6 324.1h0.6M185.8 343.2h0.6M182.6 343.9h0.6M193.1 334.8h0.6M176.8 339.5h0.6M177.5 343.4h0.6M188.9 327.1h0.6M177.7 334.8h0.6M180.6 338.2h0.6M175.2 342.5h0.6M180.6 327.4h0.6M183.3 339.0h0.6M186.6 334.8h0.6M187.7 333.3h0.6M184.4 335.2h0.6M181.9 332.2h0.6M185.7 340.7h0.6M185.8 339.9h0.6M193.0 336.0h0.6M179.9 339.5h0.6M182.0 327.5h0.6M194.2 339.5h0.6M188.1 339.5h0.6M171.4 333.5h0.6M178.6 337.5h0.6M180.3 329.2h0.6M181.6 337.2h0.6M170.9 328.8h0.6M187.6 330.9h0.6M180.5 340.3h0.6M182.4 334.2h0.6M175.1 343.0h0.6M189.2 330.8h0.6M174.8 336.0h0.6M197.5 332.3h0.6M179.5 335.0h0.6M196.5 338.1h0.6M191.5 328.0h0.6M179.8 337.2h0.6M167.6 341.8h0.6M182.5 337.1h0.6M178.3 337.1h0.6M187.7 341.5h0.6M176.4 332.5h0.6M187.2 341.5h0.6M175.9 341.3h0.6M172.9 335.0h0.6M177.2 324.2h0.6M194.2 338.0h0.6M170.1 331.6h0.6M173.6 337.7h0.6M185.0 333.1h0.6M169.2 336.6h0.6M187.0 333.2h0.6M175.7 343.8h0.6M176.0 328.2h0.6M177.0 337.3h0.6M189.3 332.6h0.6M184.6 327.5h0.6M187.5 330.6h0.6M174.7 336.8h0.6M186.0 340.3h0.6M192.4 337.9h0.6M181.6 341.2h0.6M173.6 332.4h0.6M169.8 336.8h0.6M169.2 330.9h0.6M177.1 335.5h0.6M187.2 337.5h0.6M170.8 332.8h0.6M178.2 343.3h0.6M188.0 325.9h0.6M170.0 330.6h0.6M179.2 334.3h0.6M168.9 334.8h0.6M188.3 330.1h0.6M187.3 321.7h0.6M173.8 331.9h0.6M189.9 326.0h0.6M179.2 338.4h0.6M185.2 331.5h0.6M177.5 343.0h0.6M181.8 342.7h0.6M189.4 324.6h0.6M183.4 338.5h0.6M190.6 328.5h0.6M177.4 343.0h0.6M173.2 342.7h0.6M181.6 337.5h0.6M183.8 334.2h0.6M169.1 331.5h0.6M178.4 332.6h0.6M166.0 334.3h0.6M177.1 322.8h0.6M192.9 343.4h0.6M183.1 332.0h0.6M168.6 334.0h0.6M178.8 332.5h0.6M164.7 340.1h0.6M178.6 327.3h0.6M176.8 326.0h0.6M186.8 334.3h0.6M176.0 336.0h0.6M172.8 333.3h0.6M180.5 330.7h0.6M174.5 329.5h0.6M185.8 334.2h0.6M173.3 337.7h0.6M182.5 337.7h0.6M177.0 312.9h0.6M185.3 333.3h0.6M185.9 333.7h0.6M180.3 331.8h0.6M187.8 332.0h0.6M180.4 342.8h0.6M185.2 339.0h0.6M166.4 338.0h0.6M180.4 333.4h0.6M181.7 340.1h0.6M184.6 340.5h0.6M180.3 333.6h0.6M186.2 327.2h0.6M172.4 343.0h0.6M181.8 326.7h0.6M178.3 337.4h0.6M181.0 340.4h0.6M166.0 343.7h0.6M168.9 342.2h0.6M192.1 333.6h0.6M186.4 338.8h0.6M192.9 336.7h0.6M180.8 342.6h0.6M176.9 339.4h0.6M198.8 331.1h0.6M161.1 328.1h0.6M180.2 338.5h0.6M160.6 337.0h0.6M182.5 334.7h0.6M187.6 322.8h0.6M184.2 326.2h0.6M182.2 335.5h0.6M177.5 330.2h0.6M176.1 333.1h0.6M182.2 328.2h0.6M193.1 343.1h0.6M183.5 325.8h0.6M185.5 333.0h0.6M183.5 328.2h0.6M175.8 335.6h0.6M173.6 333.8h0.6M171.2 326.6h0.6M184.0 330.3h0.6M187.5 333.2h0.6M174.8 332.8h0.6M195.9 336.7h0.6M185.1 335.2h0.6M180.1 340.8h0.6M177.6 321.2h0.6M193.1 333.8h0.6M169.0 334.5h0.6M178.0 337.6h0.6M193.4 325.0h0.6M182.1 335.7h0.6M177.0 327.8h0.6M190.4 337.8h0.6M177.3 326.8h0.6M191.7 340.2h0.6M186.9 333.2h0.6M183.3 325.8h0.6M188.7 331.9h0.6M186.1 323.3h0.6M176.5 332.7h0.6M183.1 339.8h0.6M170.0 342.2h0.6M191.1 329.5h0.6M164.1 339.7h0.6M170.7 343.5h0.6M183.9 331.8h0.6M181.8 342.4h0.6M187.8 324.7h0.6M167.8 342.9h0.6M176.1 338.7h0.6M183.2 326.6h0.6M178.1 322.0h0.6M184.3 329.8h0.6M172.4 340.5h0.6M166.0 338.1h0.6M175.6 337.6h0.6M171.1 339.5h0.6M165.8 335.1h0.6M184.8 326.1h0.6M188.4 336.5h0.6M179.2 337.3h0.6M192.1 334.0h0.6M191.6 326.9h0.6M184.6 327.3h0.6M165.0 330.7h0.6M178.5 334.2h0.6M192.7 328.8h0.6M187.9 331.7h0.6M186.0 337.8h0.6M175.4 327.5h0.6M176.0 337.4h0.6M182.7 337.6h0.6M169.0 336.3h0.6M181.9 326.7h0.6M181.1 340.4h0.6M175.1 330.9h0.6M176.1 340.5h0.6M169.4 331.6h0.6M165.6 333.2h0.6M171.3 342.0h0.6M199.9 335.3h0.6M180.3 335.5h0.6M180.7 327.1h0.6M176.7 339.4h0.6M183.6 338.3h0.6M192.4 341.9h0.6M176.0 340.4h0.6M177.3 339.7h0.6M185.1 341.3h0.6M183.0 335.9h0.6M185.7 329.4h0.6M162.5 331.1h0.6M174.3 332.5h0.6M197.1 330.9h0.6M174.5 327.9h0.6M185.4 339.7h0.6M191.2 318.7h0.6M186.9 341.7h0.6M186.5 331.4h0.6M175.2 338.7h0.6M161.5 332.7h0.6M178.8 332.0h0.6M186.1 317.9h0.6M181.3 326.3h0.6M183.2 332.9h0.6M175.8 332.9h0.6M175.2 337.8h0.6M178.2 332.8h0.6M184.9 342.4h0.6M181.2 329.6h0.6M177.7 323.0h0.6M181.9 329.9h0.6M186.2 340.0h0.6M184.1 344.0h0.6M180.8 333.3h0.6M174.9 339.3h0.6M178.1 332.7h0.6M188.3 315.2h0.6M189.0 325.5h0.6M171.7 331.8h0.6M172.0 326.2h0.6M199.0 331.8h0.6M184.7 333.9h0.6M188.8 332.2h0.6M180.4 334.8h0.6M193.4 323.7h0.6M163.1 340.8h0.6M177.5 337.3h0.6M192.1 334.2h0.6M176.9 329.8h0.6M181.6 330.1h0.6M165.0 330.9h0.6M160.0 329.8h0.6M181.9 335.6h0.6M183.8 338.4h0.6M175.4 339.0h0.6M164.6 330.9h0.6M182.4 324.3h0.6M180.0 322.6h0.6M179.9 330.3h0.6M174.4 329.5h0.6M189.5 337.0h0.6M188.1 330.8h0.6M180.7 334.9h0.6M181.7 343.2h0.6M186.5 340.1h0.6M195.0 334.3h0.6M163.1 337.2h0.6M189.7 326.7h0.6M178.9 322.8h0.6M172.3 336.0h0.6M177.8 327.5h0.6M183.0 333.6h0.6M177.5 331.2h0.6M180.5 333.7h0.6M172.8 339.1h0.6M179.9 336.2h0.6M180.9 334.5h0.6M184.9 333.7h0.6M179.9 340.8h0.6M182.9 338.5h0.6M191.4 333.7h0.6M174.6 328.3h0.6M172.8 334.0h0.6M164.4 343.9h0.6M186.3 342.2h0.6M177.9 330.8h0.6M177.5 329.7h0.6M193.0 337.0h0.6M188.1 340.1h0.6M182.3 325.2h0.6M190.4 325.8h0.6M180.0 326.9h0.6M181.8 338.9h0.6M165.6 342.6h0.6M184.5 337.1h0.6M178.8 336.2h0.6M171.3 329.7h0.6M167.3 332.5h0.6M186.0 331.3h0.6M167.7 339.1h0.6M199.5 327.4h0.6M162.0 338.0h0.6M176.0 336.1h0.6M167.1 327.0h0.6M176.2 332.6h0.6M165.5 340.0h0.6M183.8 339.9h0.6M186.2 318.9h0.6M181.6 329.5h0.6M184.1 335.0h0.6M170.9 342.9h0.6M194.9 316.0h0.6M170.5 336.6h0.6M190.0 342.3h0.6M184.0 333.3h0.6M196.9 334.1h0.6M171.1 334.8h0.6M179.1 337.3h0.6M176.4 342.2h0.6M187.9 332.6h0.6M174.3 339.1h0.6M170.5 336.2h0.6M190.4 334.1h0.6M176.5 328.5h0.6M182.8 332.2h0.6M183.7 335.0h0.6M188.6 322.3h0.6M178.1 324.7h0.6M177.0 334.4h0.6M179.4 336.8h0.6M178.3 341.3h0.6M185.0 328.6h0.6M178.7 331.4h0.6M171.6 339.6h0.6M173.4 338.4h0.6M180.8 331.6h0.6M175.9 323.7h0.6M177.6 333.7h0.6M181.5 336.6h0.6M182.5 329.1h0.6M175.5 340.6h0.6M190.1 339.7h0.6M171.4 335.7h0.6M179.7 340.6h0.6M182.9 332.4h0.6M175.1 338.7h0.6M186.1 341.1h0.6M171.3 343.3h0.6M189.8 320.6h0.6M186.5 329.3h0.6M179.5 338.7h0.6M184.2 340.5h0.6M176.8 335.5h0.6M186.4 330.8h0.6M189.0 333.9h0.6M174.5 327.4h0.6M183.6 326.4h0.6M179.0 339.0h0.6M190.9 329.9h0.6M174.2 327.1h0.6M181.8 332.7h0.6M182.2 328.2h0.6M176.1 335.2h0.6M193.0 334.3h0.6M174.6 343.4h0.6M197.5 342.0h0.6M162.5 329.7h0.6M191.3 333.6h0.6M169.4 315.1h0.6M177.2 344.2h0.6M179.9 333.4h0.6M187.6 338.3h0.6M168.5 342.9h0.6M188.1 331.7h0.6M174.0 339.3h0.6M172.0 324.9h0.6M180.1 339.9h0.6M175.1 322.6h0.6M189.7 325.1h0.6M178.2 341.3h0.6M175.3 327.4h0.6M182.0 331.3h0.6M195.7 336.8h0.6M178.0 340.5h0.6M176.8 325.3h0.6M169.5 328.1h0.6M188.4 334.6h0.6M171.4 324.5h0.6M175.2 341.2h0.6M176.7 342.0h0.6M187.7 328.7h0.6M169.9 339.4h0.6M173.8 323.9h0.6M184.9 334.7h0.6M185.2 328.0h0.6M184.4 337.5h0.6M191.9 332.6h0.6M196.1 322.2h0.6M178.0 343.6h0.6M169.5 320.9h0.6M176.0 343.7h0.6M184.6 342.7h0.6M170.1 336.8h0.6M178.1 340.4h0.6M182.0 329.7h0.6M185.0 328.2h0.6M194.4 316.1h0.6M196.8 338.8h0.6M159.9 324.3h0.6M173.6 330.4h0.6M189.4 328.2h0.6M192.5 341.5h0.6M180.6 336.9h0.6M182.9 318.8h0.6M183.0 337.7h0.6M177.5 340.3h0.6M188.8 329.5h0.6M170.3 325.3h0.6M172.1 337.3h0.6M191.4 326.2h0.6M181.7 334.8h0.6M171.0 338.2h0.6M196.1 318.0h0.6M185.3 331.5h0.6M170.6 322.4h0.6M173.4 333.6h0.6M178.4 325.5h0.6M188.1 322.4h0.6M185.6 329.6h0.6M166.4 338.7h0.6M193.8 327.4h0.6M187.8 330.9h0.6M177.9 331.9h0.6M178.3 343.4h0.6M186.6 320.6h0.6M172.1 331.6h0.6M187.4 339.3h0.6M184.7 342.9h0.6M184.7 344.2h0.6M191.2 329.3h0.6M182.9 332.0h0.6M178.4 327.8h0.6M175.1 324.5h0.6M179.2 335.1h0.6M192.6 329.4h0.6M172.4 331.1h0.6M199.5 332.0h0.6M170.1 339.3h0.6M191.8 329.8h0.6M180.6 332.0h0.6M174.4 331.0h0.6M184.3 330.0h0.6M160.9 339.5h0.6M171.6 328.4h0.6M179.2 324.8h0.6M181.3 342.1h0.6M176.5 341.5h0.6M166.4 331.7h0.6M173.7 328.2h0.6M173.7 324.4h0.6M171.7 331.8h0.6M193.8 334.1h0.6M173.2 329.2h0.6M181.8 343.3h0.6M188.4 331.1h0.6M191.9 334.4h0.6M184.4 331.2h0.6M167.3 337.4h0.6M190.6 335.7h0.6M181.5 323.5h0.6M189.5 323.8h0.6M185.6 340.1h0.6M184.8 339.0h0.6M180.7 333.0h0.6M179.2 320.3h0.6M167.0 339.1h0.6M169.4 340.7h0.6M181.8 333.4h0.6M182.6 333.9h0.6M179.5 330.3h0.6M174.3 341.4h0.6M171.6 332.0h0.6M181.4 338.5h0.6M175.6 342.4h0.6M172.7 328.6h0.6M177.3 337.4h0.6M182.0 339.8h0.6M171.3 329.6h0.6M185.7 339.9h0.6M196.6 339.9h0.6M178.8 331.5h0.6M189.4 327.1h0.6M185.7 340.3h0.6M174.3 332.6h0.6M198.6 336.4h0.6M180.9 332.0h0.6M182.5 343.0h0.6M184.6 338.3h0.6M185.1 326.2h0.6M180.4 333.7h0.6M177.7 336.3h0.6M192.3 335.7h0.6M181.5 333.7h0.6M170.1 323.4h0.6M179.6 314.8h0.6M184.9 330.0h0.6M183.9 319.8h0.6M176.9 326.2h0.6M179.0 331.1h0.6M170.8 338.7h0.6M182.8 332.1h0.6M185.9 328.8h0.6M196.8 334.1h0.6M174.0 318.6h0.6M182.8 335.5h0.6M181.2 328.7h0.6M162.5 334.6h0.6M191.8 334.9h0.6M190.2 331.7h0.6M183.7 330.7h0.6M179.0 336.2h0.6M183.6 340.3h0.6M182.4 336.4h0.6M172.8 330.9h0.6M163.9 333.1h0.6M165.8 333.0h0.6M188.5 341.8h0.6M196.5 328.1h0.6M190.1 331.4h0.6M180.4 331.3h0.6M170.0 340.1h0.6M181.8 338.9h0.6M174.4 337.1h0.6M183.2 340.4h0.6M181.3 341.1h0.6M169.8 332.4h0.6M187.1 335.0h0.6M185.8 339.3h0.6M181.4 328.8h0.6M176.5 336.4h0.6M190.3 330.1h0.6M181.0 335.3h0.6M187.2 338.0h0.6M180.0 334.0h0.6M177.1 338.9h0.6M169.5 316.9h0.6M172.7 332.4h0.6M176.8 328.3h0.6M199.7 330.8h0.6M172.6 338.0h0.6M177.1 330.2h0.6M183.9 334.1h0.6M197.9 332.3h0.6M181.1 332.0h0.6M185.4 327.7h0.6M172.8 338.7h0.6M175.1 336.2h0.6M188.2 343.1h0.6M179.6 340.3h0.6M180.7 333.7h0.6M180.3 337.7h0.6M191.2 338.2h0.6M194.0 325.9h0.6M180.9 324.7h0.6M176.3 334.0h0.6M177.2 326.9h0.6M168.1 342.3h0.6M178.0 339.5h0.6M185.5 328.5h0.6M185.3 339.2h0.6M175.6 331.2h0.6M180.4 344.3h0.6M177.1 329.4h0.6M180.8 326.0h0.6M182.7 320.6h0.6M174.3 335.8h0.6M177.1 326.1h0.6M174.7 338.5h0.6M181.5 333.7h0.6M177.7 342.3h0.6M169.2 341.8h0.6M175.5 323.1h0.6M186.4 329.7h0.6M171.0 324.7h0.6M171.9 317.1h0.6M182.9 329.4h0.6M197.7 327.5h0.6M183.1 323.5h0.6M184.5 331.7h0.6M193.1 339.6h0.6M171.8 334.5h0.6M176.3 330.7h0.6M178.5 337.0h0.6M180.5 334.8h0.6M185.8 343.1h0.6M183.4 335.4h0.6M179.6 326.8h0.6M193.2 330.0h0.6M181.2 333.0h0.6M168.2 326.3h0.6M180.6 331.6h0.6M176.6 317.8h0.6M178.9 338.3h0.6M196.1 341.1h0.6M184.7 339.2h0.6M169.5 321.9h0.6M181.7 328.1h0.6M184.4 336.8h0.6M176.9 312.4h0.6M187.8 335.2h0.6M176.4 339.9h0.6M186.3 340.2h0.6M175.6 325.8h0.6M173.7 343.5h0.6M168.0 336.9h0.6M197.7 342.1h0.6M179.3 343.7h0.6M163.2 343.0h0.6M170.2 325.1h0.6M161.8 332.1h0.6M193.4 331.5h0.6M202.9 326.3h0.6M174.6 330.6h0.6M184.7 327.9h0.6M197.6 333.4h0.6M176.7 341.4h0.6M186.1 330.1h0.6M188.8 324.9h0.6M166.8 340.1h0.6M190.0 330.6h0.6M181.6 323.6h0.6M182.2 331.2h0.6M191.0 340.1h0.6M191.9 335.7h0.6M180.0 328.8h0.6M164.3 332.3h0.6M177.8 333.3h0.6M180.1 343.3h0.6M180.8 326.5h0.6M182.1 343.6h0.6M174.7 330.1h0.6M180.8 341.1h0.6M168.3 339.5h0.6M199.8 330.9h0.6M177.7 334.8h0.6M176.7 333.0h0.6M192.2 335.8h0.6M179.3 335.0h0.6M182.2 340.2h0.6M199.2 322.3h0.6M172.9 329.7h0.6M183.4 327.7h0.6M188.2 333.6h0.6M174.2 320.0h0.6M166.1 343.2h0.6M187.9 343.6h0.6M177.4 341.1h0.6M183.0 342.0h0.6M189.9 323.8h0.6M174.1 326.8h0.6M164.3 322.7h0.6M172.2 327.3h0.6M185.0 340.7h0.6M182.3 331.8h0.6M173.6 334.7h0.6M183.2 334.4h0.6M180.7 338.9h0.6M168.7 343.8h0.6M182.1 329.4h0.6M184.3 327.0h0.6M180.4 330.6h0.6M166.7 336.9h0.6M185.9 330.2h0.6M188.9 325.0h0.6M175.4 341.3h0.6M179.3 333.6h0.6M177.5 332.5h0.6M188.4 330.1h0.6M185.1 320.0h0.6M165.2 330.0h0.6M178.7 343.2h0.6M170.9 341.2h0.6M159.0 336.1h0.6M187.5 328.9h0.6M183.9 335.1h0.6M177.9 336.3h0.6M190.9 331.0h0.6M194.7 334.2h0.6M190.6 336.2h0.6M186.3 340.0h0.6M194.2 340.7h0.6M182.2 335.9h0.6M185.5 339.0h0.6M170.1 323.4h0.6M177.4 335.2h0.6M189.1 329.1h0.6M188.2 332.5h0.6M180.0 332.1h0.6M166.2 329.0h0.6M176.1 339.5h0.6M187.7 326.1h0.6M166.8 323.5h0.6M183.3 338.2h0.6M174.0 335.7h0.6M175.9 328.8h0.6M170.7 326.9h0.6M191.6 325.6h0.6M181.9 329.7h0.6M201.4 329.1h0.6M174.5 327.4h0.6M182.5 335.8h0.6M182.3 317.4h0.6M181.7 327.1h0.6M168.4 339.1h0.6M174.6 330.2h0.6M174.0 338.1h0.6M171.0 330.8h0.6M183.0 334.4h0.6M167.8 327.1h0.6M188.7 331.9h0.6M188.3 335.9h0.6M178.7 333.8h0.6M183.7 335.7h0.6M171.0 328.2h0.6M178.7 326.6h0.6M190.0 323.7h0.6M179.1 335.3h0.6M192.6 338.1h0.6M186.1 339.8h0.6M177.9 317.7h0.6M177.7 320.8h0.6M188.2 341.6h0.6M188.0 342.7h0.6M161.7 341.4h0.6M176.7 330.8h0.6M167.1 330.8h0.6M184.0 337.9h0.6M179.7 328.3h0.6M190.7 323.2h0.6M172.9 336.7h0.6M192.2 325.4h0.6M189.5 326.0h0.6M174.6 315.5h0.6M192.7 338.9h0.6M189.4 338.6h0.6M172.3 335.0h0.6M183.5 327.2h0.6M181.5 328.6h0.6M183.7 332.2h0.6M180.0 335.6h0.6M189.8 331.2h0.6M179.0 330.0h0.6M183.7 331.3h0.6M178.5 326.4h0.6M175.7 325.8h0.6M164.7 335.9h0.6M183.8 329.5h0.6M179.6 335.0h0.6M182.5 339.8h0.6M180.6 327.9h0.6M174.7 336.9h0.6M171.8 337.2h0.6M180.1 334.0h0.6M173.5 332.0h0.6M178.7 343.0h0.6M180.5 335.0h0.6M169.4 341.7h0.6M175.9 334.1h0.6M189.0 339.5h0.6M179.6 329.2h0.6M185.9 329.7h0.6M170.6 336.2h0.6M183.2 331.4h0.6M172.3 326.4h0.6M173.2 337.9h0.6M176.5 342.3h0.6M174.2 344.1h0.6M186.8 336.4h0.6M182.1 328.3h0.6M170.7 337.6h0.6M175.0 332.3h0.6M175.6 321.9h0.6M189.8 339.9h0.6M191.1 328.5h0.6M199.9 329.7h0.6M166.4 339.8h0.6M178.3 333.6h0.6M197.3 329.3h0.6M181.5 323.1h0.6M181.7 322.2h0.6M178.6 338.4h0.6M197.7 334.7h0.6M170.9 326.2h0.6M197.9 333.2h0.6M179.6 333.9h0.6M197.5 338.5h0.6M175.0 336.9h0.6M169.4 340.4h0.6M179.8 327.1h0.6M182.7 336.9h0.6M182.7 321.7h0.6M186.0 328.7h0.6M186.7 332.6h0.6M202.7 337.5h0.6M175.0 341.3h0.6M189.7 336.8h0.6M194.5 327.3h0.6M183.3 331.7h0.6M181.8 333.0h0.6" stroke="#111" stroke-width="0.6" opacity="0.55"/>
<ellipse cx="180.5" cy="337.0" rx="11" ry="12.5" fill="#222" opacity="0.5" filter="url(#bl3)"/>
<ellipse cx="180.5" cy="336.0" rx="9" ry="11" fill="#000" filter="url(#bl)"/>
</g>
<rect x="155.40" y="283.10" width="76.50" height="61.90" fill="none" stroke="#b0b0b0" stroke-width="0.8"/>
<line x1="191.50" y1="283.10" x2="191.50" y2="345.00" stroke="#444" stroke-width="0.8"/>
<text x="201.50" y="293.70" font-size="10.2" fill="#1a1a1a" stroke="#1a1a1a" stroke-width="0.15" textLength="26.50" lengthAdjust="spacingAndGlyphs">CLP 1</text>
<rect x="149.90" y="288.90" width="3.20" height="1.20" fill="#c0c0c0"/>
<rect x="149.90" y="304.80" width="3.20" height="1.20" fill="#c0c0c0"/>
<rect x="149.90" y="320.40" width="3.20" height="1.20" fill="#c0c0c0"/>
<rect x="149.90" y="335.90" width="3.20" height="1.20" fill="#c0c0c0"/>
<rect x="164.40" y="348.40" width="3.20" height="1.20" fill="#c0c0c0"/>
<rect x="183.60" y="348.40" width="3.20" height="1.20" fill="#c0c0c0"/>
<rect x="203.00" y="348.40" width="3.20" height="1.20" fill="#c0c0c0"/>
<rect x="222.00" y="348.40" width="3.20" height="1.20" fill="#c0c0c0"/>
<clipPath id="gclip1"><rect x="243.5" y="283.1" width="76.89999999999998" height="61.89999999999998"/></clipPath>
<g clip-path="url(#gclip1)">
<path d="M299.1 299.0h0.6M280.6 320.1h0.6M295.5 307.0h0.6M287.7 330.6h0.6M271.7 304.0h0.6M294.2 310.6h0.6M277.0 320.8h0.6M275.5 309.1h0.6M293.4 331.1h0.6M292.9 316.7h0.6M286.5 305.2h0.6M281.4 314.5h0.6M288.7 306.9h0.6M283.1 321.8h0.6M286.9 322.0h0.6M285.2 318.3h0.6M287.5 306.9h0.6M280.9 313.9h0.6M283.7 323.4h0.6M292.0 309.7h0.6M278.4 306.1h0.6M291.9 307.4h0.6M289.3 321.0h0.6M281.9 322.0h0.6M281.3 304.8h0.6M282.2 306.9h0.6M285.7 305.0h0.6M283.2 318.7h0.6M294.1 309.1h0.6M282.5 318.3h0.6M290.4 318.4h0.6M284.7 312.8h0.6M291.9 325.1h0.6M292.8 310.0h0.6M281.6 320.5h0.6M285.1 310.3h0.6M289.2 310.5h0.6M294.3 309.3h0.6M289.1 322.2h0.6M292.8 319.5h0.6M286.6 318.7h0.6M286.8 317.5h0.6M280.5 312.8h0.6M275.8 322.1h0.6M282.3 319.9h0.6M292.3 315.5h0.6M291.2 333.1h0.6M285.6 315.9h0.6M295.1 307.4h0.6M291.7 310.1h0.6M277.9 320.4h0.6M293.7 323.5h0.6M288.4 325.7h0.6M286.0 321.9h0.6M284.1 310.4h0.6M290.3 314.7h0.6M292.9 324.1h0.6M284.4 313.2h0.6M290.7 322.0h0.6M279.1 324.8h0.6M285.5 321.7h0.6M293.6 324.4h0.6M294.7 316.3h0.6M285.2 320.3h0.6M294.2 298.4h0.6M286.2 321.2h0.6M288.6 322.5h0.6M284.3 313.2h0.6M312.0 321.7h0.6M287.6 323.6h0.6M287.1 316.6h0.6M285.2 317.1h0.6M296.4 310.6h0.6M301.7 313.8h0.6M282.9 312.1h0.6M289.8 313.2h0.6M285.7 308.3h0.6M290.5 321.0h0.6M285.9 317.8h0.6M300.5 309.5h0.6M286.0 314.6h0.6M295.1 316.8h0.6M295.7 316.9h0.6M286.1 311.2h0.6M297.7 313.8h0.6M288.7 316.8h0.6M285.5 312.3h0.6M282.8 309.2h0.6M291.1 311.2h0.6M291.6 319.3h0.6M281.2 314.2h0.6M288.2 315.9h0.6M279.4 318.5h0.6M276.0 313.9h0.6M297.7 316.4h0.6M280.0 308.6h0.6M279.8 304.1h0.6M290.2 321.2h0.6M283.4 305.9h0.6M286.3 307.6h0.6M285.7 314.3h0.6M285.6 319.2h0.6M293.5 312.1h0.6M293.2 312.8h0.6M291.8 313.6h0.6M298.3 308.1h0.6M282.7 321.6h0.6M288.9 325.3h0.6M298.8 315.2h0.6M287.8 313.5h0.6M300.1 317.0h0.6M291.6 315.4h0.6M279.5 310.4h0.6M285.4 313.8h0.6M291.0 316.0h0.6M290.2 318.4h0.6M290.5 303.2h0.6M290.5 310.3h0.6M280.9 313.8h0.6M288.8 310.1h0.6M291.2 319.9h0.6M290.1 316.2h0.6M296.9 305.9h0.6M284.9 320.6h0.6M301.0 307.1h0.6M296.5 315.1h0.6M294.2 315.4h0.6M285.7 318.0h0.6M291.5 310.6h0.6M297.8 310.4h0.6M294.7 316.1h0.6M301.6 309.0h0.6M277.7 309.6h0.6M284.2 317.8h0.6M273.4 300.8h0.6M288.0 321.5h0.6M291.6 307.5h0.6M288.0 320.0h0.6M295.7 312.4h0.6M296.2 310.9h0.6M278.5 303.9h0.6M288.6 319.4h0.6M289.0 302.9h0.6M276.2 307.9h0.6M294.4 309.6h0.6M285.3 298.8h0.6M276.3 318.4h0.6M287.0 321.0h0.6M291.2 315.8h0.6M287.5 310.1h0.6M290.5 324.9h0.6M290.7 314.9h0.6M282.4 315.4h0.6M292.8 315.8h0.6M279.2 310.9h0.6M283.0 314.7h0.6M279.0 301.8h0.6M294.8 314.7h0.6M305.8 306.6h0.6M284.9 321.4h0.6M296.4 314.7h0.6M287.6 317.3h0.6M284.1 310.4h0.6M285.6 319.5h0.6M284.2 314.3h0.6M286.3 313.1h0.6M282.7 316.9h0.6M285.0 309.0h0.6M285.6 325.9h0.6M296.3 306.1h0.6M293.4 314.6h0.6M298.1 318.5h0.6M305.4 323.5h0.6M273.8 306.4h0.6M271.1 303.7h0.6M292.3 310.4h0.6M291.5 320.8h0.6M284.0 311.7h0.6M287.9 314.8h0.6M278.4 312.5h0.6M287.8 314.4h0.6M282.9 311.8h0.6M305.9 319.1h0.6M288.5 309.3h0.6M292.8 328.2h0.6M302.0 307.2h0.6M290.4 313.9h0.6M286.5 315.3h0.6M289.3 312.6h0.6M282.8 309.6h0.6M297.2 324.6h0.6M278.0 307.0h0.6M281.3 294.9h0.6M296.5 322.7h0.6M281.3 311.9h0.6M279.6 319.6h0.6M285.9 321.9h0.6M286.5 322.2h0.6M291.5 311.5h0.6M289.5 305.5h0.6M291.4 314.1h0.6M296.7 320.8h0.6M281.4 323.9h0.6M293.0 300.8h0.6M300.8 319.2h0.6M292.0 326.7h0.6M292.4 328.3h0.6M288.7 327.9h0.6M287.4 310.9h0.6M282.9 307.8h0.6M280.6 314.6h0.6M294.9 316.7h0.6M289.6 312.3h0.6M292.6 311.5h0.6M284.3 318.2h0.6M290.8 313.9h0.6M293.1 315.8h0.6M289.1 324.5h0.6M292.6 318.4h0.6M278.3 308.1h0.6M289.8 329.1h0.6M276.9 316.3h0.6M285.6 322.4h0.6M290.9 311.2h0.6M295.9 306.4h0.6M297.0 321.7h0.6M287.6 309.5h0.6M285.8 312.6h0.6M291.0 311.5h0.6M296.0 319.0h0.6M293.5 317.2h0.6M290.4 310.5h0.6M286.8 308.5h0.6M282.8 308.9h0.6M284.8 331.5h0.6M290.1 319.7h0.6M292.2 310.2h0.6M273.7 314.9h0.6M290.7 313.2h0.6M287.4 313.8h0.6M293.3 316.9h0.6M287.6 312.8h0.6M295.3 305.5h0.6M285.6 315.2h0.6M284.2 327.3h0.6M293.2 321.0h0.6M286.8 320.2h0.6M285.1 316.6h0.6M273.7 315.5h0.6M281.9 314.7h0.6M303.5 319.8h0.6M289.7 317.5h0.6M289.1 313.0h0.6M282.9 312.2h0.6M288.8 313.0h0.6M287.4 313.9h0.6M293.0 317.8h0.6M292.7 308.9h0.6M282.9 321.6h0.6M281.9 323.4h0.6M284.6 315.8h0.6M294.4 327.2h0.6M284.5 308.4h0.6M290.7 299.6h0.6M295.5 310.1h0.6M280.2 313.7h0.6M278.6 303.9h0.6M281.9 322.7h0.6M284.2 307.0h0.6M298.1 298.4h0.6M283.4 325.3h0.6M290.6 307.5h0.6M292.3 314.0h0.6M293.0 317.3h0.6M280.4 303.8h0.6M289.0 312.5h0.6M282.3 300.1h0.6M280.1 312.9h0.6M279.4 315.0h0.6M284.7 310.3h0.6M286.5 314.7h0.6M300.8 306.4h0.6M298.0 303.8h0.6M275.4 316.7h0.6M286.1 317.7h0.6M292.4 314.8h0.6M295.2 308.2h0.6M301.6 308.1h0.6M289.3 314.7h0.6M293.5 314.2h0.6M291.5 307.8h0.6M294.8 304.0h0.6M283.0 316.7h0.6M279.5 322.9h0.6M299.2 323.3h0.6M280.5 313.1h0.6M289.4 307.7h0.6M282.9 312.9h0.6M289.6 299.9h0.6M285.3 312.8h0.6M295.9 307.9h0.6M283.8 309.0h0.6M285.0 306.1h0.6M287.1 320.5h0.6M282.6 301.6h0.6M283.5 313.4h0.6M290.4 306.8h0.6M292.5 308.3h0.6M299.6 317.2h0.6M282.9 314.5h0.6M296.6 309.3h0.6M292.1 319.0h0.6M293.9 312.2h0.6M294.0 315.2h0.6M291.9 314.3h0.6M292.2 310.6h0.6M299.6 314.0h0.6M288.5 313.0h0.6M289.5 314.5h0.6M288.0 309.5h0.6M293.8 320.9h0.6M299.7 318.6h0.6M277.3 311.6h0.6M297.5 320.3h0.6M293.2 311.6h0.6M302.3 309.0h0.6M289.0 314.7h0.6M280.7 312.9h0.6M295.9 309.5h0.6M287.6 314.6h0.6M291.6 313.4h0.6M293.6 307.3h0.6M300.1 310.5h0.6M284.3 326.3h0.6M273.6 313.0h0.6M295.8 315.2h0.6M285.6 306.3h0.6M286.7 321.3h0.6M288.5 311.3h0.6M282.8 308.7h0.6M290.5 309.8h0.6M288.5 319.3h0.6M290.7 310.1h0.6M274.5 304.3h0.6M280.6 320.7h0.6M305.7 311.8h0.6M279.0 300.3h0.6M297.3 317.3h0.6M295.4 312.7h0.6M285.0 310.3h0.6M288.7 305.5h0.6M287.3 318.2h0.6M275.8 318.5h0.6M274.5 310.5h0.6M294.1 316.9h0.6M285.4 322.0h0.6M283.1 320.9h0.6M282.5 316.8h0.6M292.6 306.6h0.6M289.4 315.1h0.6M288.9 310.3h0.6M288.2 319.4h0.6M287.8 322.0h0.6M281.3 313.5h0.6M290.1 322.2h0.6M296.3 327.7h0.6M284.2 315.0h0.6M289.1 316.1h0.6M287.4 312.6h0.6M288.1 321.1h0.6M292.5 310.9h0.6M286.5 305.1h0.6M279.6 324.3h0.6M294.0 310.3h0.6M279.8 323.0h0.6M283.8 317.1h0.6M286.8 316.7h0.6M291.0 324.9h0.6M286.2 312.8h0.6M291.3 323.3h0.6M292.7 326.6h0.6M285.6 308.4h0.6M283.0 331.0h0.6M286.4 317.9h0.6M283.3 322.9h0.6M287.2 306.0h0.6M302.7 308.4h0.6M287.8 317.5h0.6M282.0 302.8h0.6M295.7 309.4h0.6M292.7 311.7h0.6M295.4 335.6h0.6M279.7 313.5h0.6M286.9 309.1h0.6M286.0 302.7h0.6M293.4 310.2h0.6M278.9 311.2h0.6M295.4 303.0h0.6M283.1 320.2h0.6M300.0 319.8h0.6M286.4 310.8h0.6M294.7 314.0h0.6M292.1 332.8h0.6M284.1 306.0h0.6M280.8 326.0h0.6M288.6 311.6h0.6M288.6 308.7h0.6M289.5 301.7h0.6M281.8 320.0h0.6M282.4 307.9h0.6M277.8 314.2h0.6M288.3 314.2h0.6M295.9 307.4h0.6M290.0 308.8h0.6M282.1 303.3h0.6M286.1 327.9h0.6M291.4 309.5h0.6M298.0 318.0h0.6M280.4 315.3h0.6M292.7 316.5h0.6M287.6 326.1h0.6M285.3 306.2h0.6M294.5 309.1h0.6M290.4 306.6h0.6M284.4 325.2h0.6M283.8 307.3h0.6M302.7 312.4h0.6M283.3 324.1h0.6M285.6 309.2h0.6M304.9 315.0h0.6M287.3 312.8h0.6M291.4 302.7h0.6M292.7 318.6h0.6M291.4 315.2h0.6M288.0 306.8h0.6M302.2 313.8h0.6M282.5 308.0h0.6M275.5 320.3h0.6M303.9 318.6h0.6M284.5 308.8h0.6M281.6 297.8h0.6M296.3 315.6h0.6M295.7 321.2h0.6M292.4 316.3h0.6M290.2 320.0h0.6M283.8 315.0h0.6M294.4 309.7h0.6M291.3 310.5h0.6M281.8 315.0h0.6M286.3 322.1h0.6M286.4 317.4h0.6M285.1 315.8h0.6M276.4 322.2h0.6M276.5 314.9h0.6M287.9 318.0h0.6M290.7 323.8h0.6M285.9 310.2h0.6M295.4 309.8h0.6M276.9 320.1h0.6M287.1 311.3h0.6M293.0 306.1h0.6M286.9 313.7h0.6M280.4 324.7h0.6M294.0 307.3h0.6M289.7 308.3h0.6M287.0 316.2h0.6M298.7 316.1h0.6M278.2 311.9h0.6M284.0 314.8h0.6M286.4 308.1h0.6M293.8 327.0h0.6M283.3 316.2h0.6M288.6 306.7h0.6M277.1 326.8h0.6M288.4 322.2h0.6M283.2 314.7h0.6M279.3 318.8h0.6M287.9 320.7h0.6M283.3 311.6h0.6M285.4 314.3h0.6M286.5 320.2h0.6M289.9 309.0h0.6M287.5 308.9h0.6M282.2 307.9h0.6M286.7 314.9h0.6M278.7 308.8h0.6M282.0 314.2h0.6M284.6 314.1h0.6M291.2 319.8h0.6M297.8 299.7h0.6M303.3 323.1h0.6M287.3 325.4h0.6M276.2 319.0h0.6M284.9 301.2h0.6M298.0 316.8h0.6M293.9 315.1h0.6M290.9 299.0h0.6M288.7 307.9h0.6M292.2 315.7h0.6M278.9 296.9h0.6M280.0 319.8h0.6M289.5 312.2h0.6M283.9 324.9h0.6M285.3 316.7h0.6M289.6 309.0h0.6M282.3 318.1h0.6M291.3 307.0h0.6M287.0 307.3h0.6M289.8 323.4h0.6M292.2 317.7h0.6M287.4 313.1h0.6M289.8 311.5h0.6M284.5 323.1h0.6M280.4 308.5h0.6M283.9 316.4h0.6M290.6 316.8h0.6M285.6 330.7h0.6M290.7 311.6h0.6M304.0 328.0h0.6M286.6 324.7h0.6M290.9 309.2h0.6M287.0 312.0h0.6M293.4 314.5h0.6M288.5 312.3h0.6M283.4 312.5h0.6M288.6 317.5h0.6M289.1 301.7h0.6M287.8 304.1h0.6M288.2 320.6h0.6M287.6 326.7h0.6M290.9 307.1h0.6M284.5 311.8h0.6M292.7 312.3h0.6M290.1 307.0h0.6M282.6 321.9h0.6M281.5 328.7h0.6M290.7 311.3h0.6M288.9 316.2h0.6M292.8 312.5h0.6M287.8 315.8h0.6M287.8 302.0h0.6M278.5 324.9h0.6M280.9 315.7h0.6M290.8 316.8h0.6M286.3 314.9h0.6M287.1 326.8h0.6M291.6 307.9h0.6M281.7 307.1h0.6M282.6 307.7h0.6M279.8 319.2h0.6M289.2 324.4h0.6M287.4 324.7h0.6M276.7 323.0h0.6M303.1 300.6h0.6M292.5 323.4h0.6M294.9 322.2h0.6M289.5 316.4h0.6M295.4 308.9h0.6M282.2 306.4h0.6M279.8 317.8h0.6M285.9 314.3h0.6M283.6 304.9h0.6M289.8 317.0h0.6M293.7 321.1h0.6M285.4 305.9h0.6M288.1 312.0h0.6M285.7 306.8h0.6M288.0 317.0h0.6M295.1 311.1h0.6M292.2 313.7h0.6M294.4 311.8h0.6M303.4 318.7h0.6M289.7 319.9h0.6M290.8 322.0h0.6M291.4 312.8h0.6M286.0 314.3h0.6M290.8 313.0h0.6M279.8 313.3h0.6M280.4 314.5h0.6M288.6 305.4h0.6M288.4 306.1h0.6M287.6 315.7h0.6M292.5 299.7h0.6M292.0 307.9h0.6M293.1 317.8h0.6M288.5 315.0h0.6M285.1 318.4h0.6M288.6 310.9h0.6M277.8 315.8h0.6M284.5 308.7h0.6M286.0 317.9h0.6M279.8 317.1h0.6M282.9 310.4h0.6M283.5 305.0h0.6M278.3 306.8h0.6M290.3 315.6h0.6M285.5 315.9h0.6M295.4 313.1h0.6M283.3 310.8h0.6M295.9 310.8h0.6M284.0 308.3h0.6M287.2 302.4h0.6M279.2 320.5h0.6M275.9 318.2h0.6M293.4 319.7h0.6M285.3 307.8h0.6M283.4 325.2h0.6M290.4 314.9h0.6M278.1 317.9h0.6M291.1 308.7h0.6M289.2 309.0h0.6M289.3 316.4h0.6M281.4 314.8h0.6M279.1 312.0h0.6M290.5 318.8h0.6M294.1 305.3h0.6M292.0 311.4h0.6M293.8 320.8h0.6M289.2 317.0h0.6M284.6 321.5h0.6M295.7 311.9h0.6M291.9 318.5h0.6M296.7 319.8h0.6M284.1 309.6h0.6M289.3 315.0h0.6M294.7 320.2h0.6M282.4 320.5h0.6M292.5 320.0h0.6M287.5 299.0h0.6M279.8 316.0h0.6M276.2 319.7h0.6M292.0 304.8h0.6M279.7 315.4h0.6M294.1 318.0h0.6M289.1 321.3h0.6M285.7 313.4h0.6M293.1 314.2h0.6M291.8 319.1h0.6M287.4 312.5h0.6M282.9 320.5h0.6M277.5 317.2h0.6M289.5 316.9h0.6M282.8 311.2h0.6M279.5 315.1h0.6M288.8 313.3h0.6M281.4 321.8h0.6M299.2 309.3h0.6M272.7 306.6h0.6M293.7 309.2h0.6M284.0 323.3h0.6" stroke="#ff3a3a" stroke-width="0.6" opacity="0.6"/>
<path d="M280.1 309.8h0.6M280.7 313.2h0.6M271.9 319.9h0.6M282.1 307.2h0.6M278.5 310.0h0.6M264.4 297.3h0.6M272.4 296.5h0.6M278.2 322.0h0.6M279.4 310.3h0.6M267.8 298.0h0.6M263.5 316.4h0.6M278.1 315.5h0.6M286.4 312.7h0.6M272.8 307.1h0.6M279.8 307.0h0.6M286.4 309.8h0.6M269.3 336.2h0.6M273.6 307.3h0.6M281.1 305.8h0.6M279.4 319.0h0.6M273.4 323.5h0.6M276.5 315.4h0.6M276.2 308.7h0.6M261.8 310.9h0.6M270.6 307.8h0.6M288.8 305.9h0.6M277.7 316.9h0.6M270.4 321.0h0.6M272.1 310.4h0.6M281.9 318.7h0.6M279.2 316.9h0.6M275.0 311.5h0.6M280.4 322.7h0.6M273.8 320.6h0.6M283.6 304.8h0.6M282.4 320.1h0.6M274.1 315.3h0.6M287.6 317.5h0.6M268.5 299.9h0.6M283.0 302.2h0.6M288.0 306.5h0.6M272.2 319.3h0.6M268.5 320.0h0.6M264.4 300.7h0.6M266.8 319.5h0.6M271.8 317.8h0.6M267.8 311.6h0.6M270.6 334.9h0.6M287.7 302.4h0.6M269.1 305.6h0.6M277.4 309.2h0.6M283.1 315.5h0.6M273.9 298.4h0.6M271.3 302.5h0.6M282.4 314.6h0.6M285.8 299.8h0.6M270.1 309.5h0.6M268.9 321.3h0.6M291.7 301.0h0.6M277.1 302.9h0.6M289.6 316.2h0.6M271.8 323.3h0.6M276.7 322.2h0.6M268.1 305.1h0.6M268.3 323.6h0.6M273.7 318.8h0.6M267.5 307.7h0.6M284.5 311.9h0.6M290.9 314.6h0.6M275.5 305.4h0.6M274.9 317.2h0.6M280.0 310.9h0.6M268.0 317.8h0.6M270.2 316.7h0.6M283.2 311.7h0.6M267.0 313.4h0.6M287.8 323.6h0.6M278.5 315.8h0.6M262.6 310.6h0.6M288.9 317.9h0.6M278.5 306.6h0.6M265.1 317.1h0.6M270.3 323.0h0.6M270.6 325.4h0.6M250.5 312.2h0.6M288.9 315.5h0.6M273.4 319.0h0.6M286.0 293.8h0.6M271.9 297.3h0.6M274.1 308.5h0.6" stroke="#ff5050" stroke-width="0.6" opacity="0.45"/>
<path d="M247.1 328.9h0.5M274.0 320.6h0.5M293.3 319.8h0.5M294.2 342.5h0.5M281.7 312.0h0.5M291.2 312.9h0.5M246.1 326.6h0.5M267.3 314.8h0.5M278.7 308.3h0.5M305.3 329.6h0.5M262.2 308.2h0.5M264.5 330.2h0.5M274.1 318.8h0.5M289.9 329.6h0.5M283.0 328.2h0.5M294.2 340.4h0.5M263.4 316.7h0.5M297.6 340.3h0.5M304.6 326.7h0.5M280.5 308.1h0.5M263.0 322.0h0.5M300.4 310.1h0.5M286.0 332.4h0.5M301.5 333.0h0.5M272.9 318.6h0.5M288.4 316.4h0.5M247.6 323.3h0.5M262.0 329.3h0.5M265.4 312.7h0.5M305.4 316.6h0.5M290.1 337.4h0.5M248.5 325.4h0.5M281.7 318.3h0.5M273.7 309.0h0.5M295.0 317.0h0.5M259.4 330.3h0.5M267.2 315.1h0.5M256.6 342.4h0.5M295.4 337.1h0.5M274.5 319.2h0.5M259.6 326.6h0.5M273.6 320.7h0.5M276.8 320.9h0.5M303.2 325.9h0.5M261.3 321.5h0.5M249.9 342.8h0.5M261.6 311.1h0.5M249.1 339.8h0.5M248.2 332.4h0.5M267.8 340.0h0.5M293.3 317.0h0.5M295.2 334.7h0.5M302.7 333.0h0.5M299.8 327.3h0.5M303.8 330.0h0.5M258.2 323.5h0.5M257.2 316.6h0.5M246.8 315.8h0.5M272.0 310.7h0.5M276.1 323.4h0.5M256.7 341.5h0.5M308.8 341.8h0.5M270.4 314.7h0.5M270.4 314.3h0.5M271.0 316.6h0.5M256.4 311.1h0.5M284.0 317.8h0.5M253.1 323.7h0.5M307.0 319.7h0.5M276.2 309.9h0.5" stroke="#444" stroke-width="0.5" opacity="0.4"/>
<path d="M263.7 331.4h0.6M282.0 328.8h0.6M282.3 340.9h0.6M272.9 343.5h0.6M252.7 340.7h0.6M255.6 338.7h0.6M280.2 339.5h0.6M271.0 326.9h0.6M286.5 329.1h0.6M276.9 335.9h0.6M269.1 339.3h0.6M276.6 335.6h0.6M267.0 336.0h0.6M253.4 334.2h0.6M284.0 341.4h0.6M256.1 342.0h0.6M265.5 341.3h0.6M274.6 344.0h0.6M279.0 333.8h0.6M260.1 344.2h0.6M265.1 319.4h0.6M266.4 331.4h0.6M249.4 338.1h0.6M254.4 337.2h0.6M259.2 339.7h0.6M267.6 332.4h0.6M263.0 330.0h0.6M256.0 327.7h0.6M260.0 329.2h0.6M257.5 325.5h0.6M267.1 343.8h0.6M255.6 342.8h0.6M259.1 335.1h0.6M264.7 328.3h0.6M258.1 339.0h0.6M269.9 340.3h0.6M281.4 319.5h0.6M266.8 343.0h0.6M276.7 330.3h0.6M286.1 331.0h0.6M280.9 326.3h0.6M268.7 343.7h0.6M269.2 333.2h0.6M264.6 331.6h0.6M263.1 324.3h0.6M251.1 333.2h0.6M250.0 323.4h0.6M245.9 343.0h0.6M271.3 321.3h0.6M254.8 338.5h0.6M275.5 343.5h0.6M260.9 318.8h0.6M269.5 336.9h0.6M288.2 338.5h0.6M253.7 340.0h0.6M271.4 335.5h0.6M264.6 339.8h0.6M266.2 328.1h0.6M273.8 336.8h0.6M267.5 333.1h0.6M274.0 332.1h0.6M253.8 337.9h0.6M278.6 334.9h0.6M254.5 330.3h0.6M268.5 332.3h0.6M277.5 342.3h0.6M270.8 338.8h0.6M269.4 342.4h0.6M272.3 339.3h0.6M276.0 329.7h0.6M260.3 323.2h0.6M273.1 341.3h0.6M260.2 338.5h0.6M278.4 342.7h0.6M259.8 330.2h0.6M280.8 341.4h0.6M265.1 338.4h0.6M263.8 332.5h0.6M259.6 338.3h0.6M250.4 322.6h0.6M280.3 326.7h0.6M258.9 327.3h0.6M262.4 337.0h0.6M255.3 343.5h0.6M247.7 331.8h0.6M267.8 330.8h0.6M254.9 335.1h0.6M247.1 339.5h0.6M289.9 336.3h0.6M255.5 341.6h0.6M268.2 343.9h0.6M274.5 328.3h0.6M286.2 340.2h0.6M269.2 340.8h0.6M279.3 340.6h0.6M261.4 330.5h0.6M275.4 336.7h0.6M253.4 344.1h0.6M271.7 332.8h0.6M271.2 333.0h0.6M281.4 328.6h0.6M261.8 329.1h0.6M269.0 335.5h0.6M284.4 333.3h0.6M277.7 335.7h0.6M262.6 338.1h0.6M260.2 331.1h0.6M264.4 324.8h0.6M264.7 333.2h0.6M261.3 339.3h0.6M276.5 329.4h0.6M268.4 338.8h0.6M284.8 322.0h0.6M260.4 337.2h0.6M276.9 326.4h0.6M273.8 333.3h0.6M270.0 333.6h0.6M280.0 329.2h0.6M251.8 341.4h0.6M253.5 336.8h0.6M270.1 341.1h0.6M298.0 333.4h0.6M278.2 344.2h0.6M256.6 323.8h0.6M285.4 339.7h0.6M274.0 338.2h0.6M258.4 335.8h0.6M267.1 331.2h0.6M263.1 344.3h0.6M275.1 337.0h0.6M255.6 327.6h0.6M272.0 337.6h0.6M277.4 343.9h0.6M279.3 339.1h0.6M259.5 330.6h0.6M274.8 334.6h0.6M286.8 322.0h0.6M271.9 342.7h0.6M268.0 333.4h0.6M276.5 342.1h0.6M285.6 324.6h0.6M276.7 336.3h0.6M264.6 339.2h0.6M268.2 325.3h0.6M273.0 340.6h0.6M269.5 322.3h0.6M269.6 325.1h0.6M258.7 342.3h0.6M273.2 339.0h0.6M272.5 322.4h0.6M280.4 334.4h0.6M260.9 326.4h0.6M261.7 332.9h0.6M271.9 337.7h0.6M268.2 330.7h0.6M267.9 328.8h0.6M256.8 339.6h0.6M265.8 334.9h0.6M258.3 340.6h0.6M270.2 325.5h0.6M259.3 334.8h0.6M257.2 329.8h0.6M275.8 323.3h0.6M264.9 342.8h0.6M268.1 330.4h0.6M258.0 342.7h0.6M261.9 327.2h0.6M244.9 329.5h0.6M269.2 342.3h0.6M274.2 331.8h0.6M264.0 321.1h0.6M247.7 321.0h0.6M259.3 331.0h0.6M279.7 326.3h0.6M274.5 329.7h0.6M263.4 337.6h0.6M251.2 341.3h0.6M279.2 341.2h0.6M273.8 327.2h0.6M253.7 331.6h0.6M268.8 331.1h0.6M271.8 329.9h0.6M276.4 321.0h0.6M265.2 331.8h0.6M282.8 325.4h0.6M275.9 326.8h0.6M251.6 335.0h0.6M264.1 334.3h0.6M272.5 322.1h0.6M261.8 343.3h0.6M257.5 343.7h0.6M261.4 334.5h0.6M261.9 343.6h0.6M263.9 326.6h0.6M260.3 339.8h0.6M246.4 317.1h0.6M280.6 330.8h0.6M266.6 329.1h0.6M268.5 326.2h0.6M262.3 337.2h0.6M245.3 334.8h0.6M265.3 339.2h0.6M269.8 318.3h0.6M278.9 332.1h0.6M264.4 327.1h0.6M284.0 332.9h0.6M259.3 343.3h0.6M271.6 337.7h0.6M283.6 338.1h0.6M266.9 336.2h0.6M258.2 337.7h0.6M263.9 337.9h0.6M265.8 329.8h0.6M290.5 330.8h0.6M268.1 327.3h0.6M262.5 335.3h0.6M279.2 333.5h0.6M263.2 339.4h0.6M263.9 339.4h0.6M263.7 335.5h0.6M266.9 330.9h0.6M272.7 313.6h0.6M258.8 342.4h0.6M273.1 328.4h0.6M270.2 339.7h0.6M262.8 343.4h0.6M264.2 329.1h0.6M266.9 342.0h0.6M255.6 318.0h0.6M260.4 341.2h0.6M270.1 334.9h0.6M273.7 326.4h0.6M257.9 341.9h0.6M271.3 341.8h0.6M258.4 328.8h0.6M258.2 320.6h0.6M288.7 337.0h0.6M264.2 335.3h0.6M267.6 330.7h0.6M253.4 341.3h0.6M263.0 342.7h0.6M268.6 324.7h0.6M282.9 337.1h0.6M263.4 330.3h0.6M279.4 341.4h0.6M250.5 331.8h0.6M270.5 325.4h0.6M273.4 335.9h0.6M247.3 336.7h0.6M257.4 323.5h0.6M287.2 339.3h0.6M282.5 333.9h0.6M273.5 330.8h0.6M250.4 338.5h0.6M274.3 342.4h0.6M250.9 333.2h0.6M273.6 340.3h0.6M267.3 334.3h0.6M283.7 326.0h0.6M270.4 335.6h0.6M272.1 319.2h0.6M267.5 339.5h0.6M256.3 338.7h0.6M269.0 329.0h0.6M273.3 331.1h0.6M279.2 328.0h0.6M250.0 329.7h0.6M269.2 334.2h0.6M262.2 333.2h0.6M262.0 330.2h0.6M272.4 341.7h0.6M270.5 338.2h0.6M278.9 336.2h0.6M267.4 342.6h0.6M274.1 341.7h0.6M284.8 324.5h0.6M261.5 323.1h0.6M264.7 343.1h0.6M254.0 331.4h0.6M264.1 341.1h0.6M246.5 327.9h0.6M247.7 340.7h0.6M268.4 343.3h0.6M277.5 330.1h0.6M263.6 335.5h0.6M266.4 331.1h0.6M274.7 337.0h0.6M285.0 336.1h0.6M254.4 324.6h0.6M251.8 342.8h0.6M262.2 341.0h0.6M245.1 330.3h0.6M264.5 333.8h0.6M268.2 331.2h0.6M262.7 326.2h0.6M260.6 338.3h0.6M260.8 335.0h0.6M266.5 334.4h0.6M270.3 343.5h0.6M261.7 336.3h0.6M264.8 342.3h0.6M267.9 333.0h0.6M262.9 320.9h0.6M265.7 329.5h0.6M290.6 340.8h0.6M260.2 337.2h0.6M257.6 332.5h0.6M269.4 332.4h0.6M281.8 330.1h0.6M262.4 340.7h0.6M275.4 334.0h0.6M266.1 326.6h0.6M271.2 338.6h0.6M246.8 341.4h0.6M273.1 341.0h0.6M284.9 342.7h0.6M274.2 342.4h0.6M261.9 335.5h0.6M278.3 333.1h0.6M270.8 334.0h0.6M272.0 343.6h0.6M265.6 340.7h0.6M282.5 321.7h0.6M270.3 326.4h0.6M251.7 330.1h0.6M283.7 328.8h0.6M260.6 332.3h0.6M251.6 340.3h0.6M271.4 337.9h0.6M281.9 326.7h0.6M258.4 329.1h0.6M256.7 330.3h0.6M271.5 337.7h0.6M265.3 332.8h0.6M286.3 337.6h0.6M258.8 330.7h0.6M265.5 331.1h0.6M290.6 333.5h0.6M269.6 318.8h0.6M264.3 339.0h0.6M255.8 330.7h0.6M251.4 329.2h0.6M256.2 334.2h0.6M270.2 339.6h0.6M275.0 319.8h0.6M259.3 340.9h0.6M268.8 339.5h0.6M257.5 321.5h0.6M275.4 329.6h0.6M265.3 324.5h0.6M258.5 340.3h0.6M272.8 337.0h0.6M263.1 320.8h0.6M261.3 316.3h0.6M265.6 323.2h0.6M269.5 332.5h0.6M280.4 340.2h0.6M265.6 332.4h0.6M259.3 330.6h0.6M269.4 337.2h0.6M287.6 329.0h0.6M261.3 331.8h0.6M272.2 341.6h0.6M271.2 329.5h0.6M258.5 344.3h0.6M262.0 333.8h0.6M260.6 340.3h0.6M260.7 340.8h0.6M272.4 333.2h0.6M276.9 328.4h0.6M250.5 328.9h0.6M263.6 340.1h0.6M285.1 336.6h0.6M261.4 342.1h0.6M265.4 338.9h0.6M262.4 337.0h0.6M276.8 329.3h0.6M277.5 327.4h0.6M272.0 334.5h0.6M276.1 332.2h0.6M278.7 339.9h0.6M271.2 335.4h0.6M265.8 332.1h0.6M257.0 321.7h0.6M255.4 327.8h0.6M270.4 338.9h0.6M262.3 335.6h0.6M270.2 337.5h0.6M270.0 331.6h0.6M290.8 336.5h0.6M264.5 324.4h0.6M259.4 337.7h0.6M263.6 338.2h0.6M268.2 323.7h0.6M259.7 341.7h0.6M281.1 338.4h0.6M270.7 336.4h0.6M269.4 337.6h0.6M268.9 326.2h0.6M255.0 328.2h0.6M257.4 339.0h0.6M262.7 338.9h0.6M277.4 326.4h0.6M276.8 336.5h0.6M252.2 323.6h0.6M278.6 323.2h0.6M287.4 332.0h0.6M270.5 339.9h0.6M272.6 326.2h0.6M273.0 337.5h0.6M264.2 325.5h0.6M268.9 335.7h0.6M262.0 332.1h0.6M259.9 336.4h0.6M269.5 337.0h0.6M277.3 332.9h0.6M260.3 337.5h0.6M265.0 340.9h0.6M270.6 342.0h0.6M260.9 337.4h0.6M253.2 339.3h0.6M268.3 340.8h0.6M266.8 330.7h0.6M268.8 327.7h0.6M263.8 333.1h0.6M282.2 343.0h0.6M269.7 339.9h0.6M253.1 334.7h0.6M274.3 333.7h0.6M255.2 334.4h0.6M265.8 329.1h0.6M266.4 326.0h0.6M251.2 330.7h0.6M255.5 319.9h0.6M275.8 331.0h0.6M265.0 331.6h0.6M281.5 335.6h0.6M248.2 335.3h0.6M274.6 339.4h0.6M263.8 341.1h0.6M273.6 328.2h0.6M266.5 329.5h0.6M256.3 335.1h0.6M255.2 330.4h0.6M277.3 340.6h0.6M249.6 342.8h0.6M251.5 325.1h0.6M277.3 341.3h0.6M279.6 323.8h0.6M264.5 331.3h0.6M251.4 338.5h0.6M281.6 343.7h0.6M273.4 324.1h0.6M280.0 329.7h0.6M251.7 341.5h0.6M253.9 337.6h0.6M258.4 339.8h0.6M260.6 330.9h0.6M272.0 335.0h0.6M250.3 335.3h0.6M252.2 328.2h0.6M258.5 335.5h0.6M260.1 336.1h0.6M270.3 340.3h0.6M256.5 334.4h0.6M269.9 332.4h0.6M271.9 340.0h0.6M261.1 332.0h0.6M265.6 333.5h0.6M264.0 331.8h0.6M252.7 329.9h0.6M275.9 335.0h0.6M280.8 323.7h0.6M276.6 332.1h0.6M259.8 331.8h0.6M267.0 337.8h0.6M256.5 325.2h0.6M264.0 338.5h0.6M259.5 342.3h0.6M266.5 339.9h0.6M254.6 322.7h0.6M273.8 327.2h0.6M263.7 338.7h0.6M256.6 333.5h0.6M276.8 340.5h0.6M264.1 328.3h0.6M261.5 343.4h0.6M259.4 333.4h0.6M271.6 322.8h0.6M254.7 341.3h0.6M274.7 322.3h0.6M278.3 335.3h0.6M274.6 323.5h0.6M265.5 336.4h0.6M256.1 331.2h0.6M272.1 334.7h0.6M255.2 337.0h0.6M279.2 329.9h0.6M260.7 335.3h0.6M266.4 324.8h0.6M267.5 329.6h0.6M285.6 337.9h0.6M265.0 342.0h0.6M251.3 329.3h0.6M259.9 330.6h0.6M247.0 339.9h0.6M276.5 333.8h0.6M291.0 339.0h0.6M275.6 334.5h0.6M258.9 337.0h0.6M273.6 338.6h0.6M254.1 335.6h0.6M279.0 337.3h0.6M258.7 334.0h0.6M259.0 333.7h0.6M272.7 334.5h0.6M270.3 336.7h0.6M272.9 336.5h0.6M274.1 339.8h0.6M278.7 333.4h0.6M255.7 335.4h0.6M251.2 333.7h0.6M269.3 327.6h0.6M287.4 328.2h0.6M276.6 332.8h0.6M275.2 332.7h0.6M278.4 332.9h0.6M258.1 344.2h0.6M277.7 335.7h0.6M260.6 323.9h0.6M260.8 341.0h0.6M260.2 340.8h0.6M272.1 327.6h0.6M292.6 337.7h0.6M253.6 328.6h0.6M262.2 338.7h0.6M251.5 342.9h0.6M262.0 331.9h0.6M251.3 323.7h0.6M274.3 314.7h0.6M266.5 323.6h0.6M260.4 332.8h0.6M264.5 336.1h0.6M276.8 321.7h0.6M271.1 337.8h0.6M258.3 333.4h0.6M260.7 331.9h0.6M257.8 321.0h0.6M265.4 335.1h0.6M264.1 332.9h0.6M264.1 335.8h0.6M252.0 338.0h0.6M278.1 333.5h0.6M272.2 335.5h0.6M268.3 322.1h0.6M262.3 331.9h0.6M252.1 328.6h0.6M283.1 332.2h0.6M269.3 341.6h0.6M244.8 326.0h0.6M269.8 343.1h0.6M253.8 342.6h0.6M268.9 321.4h0.6M260.8 343.5h0.6M254.9 335.4h0.6M272.0 333.1h0.6M273.8 328.7h0.6M261.4 328.1h0.6M278.6 339.7h0.6M271.8 335.8h0.6M279.3 337.1h0.6M253.5 335.0h0.6M261.0 327.5h0.6M261.5 330.8h0.6M271.2 342.8h0.6M270.2 334.0h0.6M276.5 336.0h0.6M260.2 324.8h0.6M270.2 335.8h0.6M270.2 334.4h0.6M263.0 322.7h0.6M256.3 324.4h0.6M262.9 323.8h0.6M257.9 342.7h0.6M266.8 326.2h0.6M269.1 339.8h0.6M291.3 336.3h0.6M264.6 319.1h0.6M269.6 338.6h0.6M246.9 340.7h0.6M273.8 319.1h0.6M263.5 324.8h0.6M260.2 335.6h0.6M250.2 332.3h0.6M270.1 331.3h0.6M248.4 334.0h0.6M265.7 338.1h0.6M269.5 325.1h0.6M259.0 325.4h0.6M283.9 343.9h0.6M268.9 337.4h0.6M252.9 323.0h0.6M290.6 340.1h0.6M251.4 322.6h0.6M265.9 323.5h0.6M270.5 339.3h0.6M276.9 330.3h0.6M268.9 332.5h0.6M269.6 332.3h0.6M274.7 318.0h0.6M253.2 341.0h0.6M265.1 342.1h0.6M256.7 331.0h0.6M255.7 327.6h0.6M261.5 337.6h0.6M260.9 334.8h0.6M270.8 337.1h0.6M260.8 336.1h0.6M245.1 320.0h0.6M255.8 339.8h0.6M258.5 343.1h0.6M262.4 328.2h0.6M273.6 317.7h0.6M266.2 332.1h0.6M269.2 339.8h0.6M252.1 339.1h0.6M274.4 343.0h0.6M282.8 326.2h0.6M264.4 340.0h0.6M274.3 330.9h0.6M266.2 329.1h0.6M264.6 323.1h0.6M272.1 330.7h0.6M254.8 333.4h0.6M269.6 321.5h0.6M260.6 341.5h0.6M277.6 336.6h0.6M260.2 333.6h0.6M264.8 342.3h0.6M256.5 331.0h0.6M270.8 334.0h0.6M279.1 329.1h0.6M269.8 338.4h0.6M263.9 328.6h0.6M261.8 333.1h0.6M258.1 321.1h0.6M278.3 338.4h0.6M266.6 330.1h0.6M255.8 333.4h0.6M258.6 338.7h0.6M252.4 326.0h0.6M275.9 338.6h0.6M271.3 319.5h0.6M257.3 340.2h0.6M264.9 336.2h0.6M267.5 330.4h0.6M264.4 328.5h0.6M257.9 342.3h0.6M267.0 331.9h0.6M265.6 327.8h0.6M258.9 327.1h0.6M271.3 328.9h0.6M256.8 331.7h0.6M250.9 341.2h0.6M256.7 334.6h0.6M283.5 329.1h0.6M259.7 332.0h0.6M263.6 324.4h0.6M256.4 324.3h0.6M268.4 319.9h0.6M253.4 328.9h0.6M252.9 334.9h0.6M257.6 335.8h0.6M246.7 337.7h0.6M252.0 342.7h0.6M276.4 327.0h0.6M270.1 340.9h0.6M268.8 338.2h0.6M267.2 331.7h0.6M255.3 334.9h0.6M259.4 333.1h0.6M258.5 320.9h0.6M279.4 327.0h0.6M257.1 341.9h0.6M254.9 336.1h0.6M278.0 334.1h0.6M272.9 328.8h0.6M255.9 327.6h0.6M271.7 336.2h0.6M275.7 332.1h0.6M259.6 341.5h0.6M269.6 342.4h0.6M262.2 326.7h0.6M283.6 322.0h0.6M251.9 334.2h0.6M256.0 337.2h0.6M264.5 338.9h0.6M259.3 334.9h0.6M262.5 326.8h0.6M276.3 338.8h0.6M266.5 336.7h0.6M268.9 338.2h0.6M284.5 328.4h0.6M254.7 341.4h0.6M287.6 328.8h0.6M254.8 341.2h0.6M260.9 333.0h0.6M272.2 336.7h0.6M277.4 330.2h0.6M266.7 338.8h0.6M286.3 343.0h0.6M272.3 338.4h0.6M276.4 326.0h0.6M286.2 338.5h0.6M277.4 330.8h0.6M274.2 326.1h0.6M280.6 331.6h0.6M259.3 335.0h0.6M257.8 339.9h0.6M266.9 324.7h0.6M263.8 328.9h0.6M265.6 333.5h0.6M272.0 340.1h0.6M276.6 322.6h0.6M264.9 326.8h0.6M265.3 329.4h0.6M258.3 342.1h0.6M275.2 341.8h0.6M262.1 329.8h0.6M269.0 337.7h0.6M270.1 336.6h0.6M274.5 330.5h0.6M269.4 332.2h0.6M286.8 335.4h0.6M256.5 326.0h0.6M257.7 324.8h0.6M263.7 342.9h0.6M263.6 336.5h0.6M266.9 336.6h0.6M257.0 336.5h0.6M293.6 339.1h0.6M275.5 325.2h0.6M258.5 328.9h0.6M264.4 340.1h0.6M266.9 334.5h0.6M256.5 339.5h0.6M249.7 318.3h0.6M276.3 329.9h0.6M265.9 321.5h0.6M263.5 334.8h0.6M279.0 343.8h0.6M255.1 331.8h0.6M277.0 333.9h0.6M264.5 338.8h0.6M275.5 324.6h0.6M269.0 341.0h0.6M270.4 327.1h0.6M268.9 321.3h0.6M278.7 336.9h0.6M263.9 326.3h0.6M275.4 337.9h0.6M271.4 326.2h0.6M260.4 329.7h0.6M263.5 340.9h0.6M251.2 335.7h0.6M267.8 334.5h0.6M276.0 340.3h0.6M265.7 333.4h0.6M270.7 336.7h0.6M267.9 326.0h0.6M271.0 329.8h0.6M274.5 329.4h0.6M253.5 339.4h0.6M257.9 314.7h0.6M272.9 333.3h0.6M254.7 319.8h0.6M275.7 343.3h0.6M257.0 331.3h0.6M272.8 333.8h0.6M274.0 336.7h0.6M259.9 343.6h0.6M265.2 330.4h0.6M246.8 331.0h0.6M277.0 332.5h0.6M260.0 332.9h0.6M253.2 337.5h0.6M279.5 338.6h0.6M260.9 335.1h0.6M274.7 327.8h0.6M264.0 336.6h0.6M265.9 340.2h0.6M266.6 328.3h0.6M263.6 331.4h0.6M274.3 327.8h0.6M249.0 333.2h0.6M266.4 335.4h0.6M252.3 343.6h0.6M249.3 322.6h0.6M271.1 338.9h0.6M264.9 333.7h0.6M277.9 323.4h0.6M263.8 321.5h0.6M265.8 334.7h0.6M269.8 328.2h0.6M275.7 329.8h0.6M272.2 344.3h0.6M284.2 333.8h0.6M274.2 321.6h0.6M262.6 329.4h0.6M266.7 331.4h0.6M276.4 335.3h0.6M245.1 335.5h0.6M281.8 324.6h0.6M266.9 341.6h0.6M247.4 339.1h0.6M270.5 332.7h0.6M274.2 331.7h0.6M259.4 340.4h0.6M265.9 343.8h0.6M261.5 325.2h0.6M263.7 336.3h0.6M272.3 325.9h0.6M269.0 335.1h0.6M280.2 342.0h0.6M267.7 325.1h0.6M267.6 333.4h0.6M264.2 338.9h0.6M270.4 339.7h0.6M250.2 327.7h0.6M277.5 332.1h0.6M263.0 342.1h0.6M277.7 318.6h0.6M271.7 337.7h0.6M278.4 329.8h0.6M257.3 331.8h0.6M267.1 339.6h0.6M245.7 333.0h0.6M252.8 343.2h0.6M269.6 329.0h0.6M259.5 337.8h0.6M265.4 341.7h0.6M246.8 326.0h0.6M278.3 340.3h0.6M271.0 325.1h0.6M275.7 328.2h0.6M265.9 323.1h0.6M266.6 339.8h0.6M274.2 343.9h0.6M257.7 339.5h0.6M277.4 327.4h0.6M284.9 342.0h0.6M268.4 331.9h0.6M270.2 340.2h0.6M257.4 334.4h0.6M254.6 337.1h0.6M265.8 334.7h0.6M255.4 325.2h0.6M281.1 326.6h0.6M274.0 329.1h0.6M267.8 317.7h0.6M278.7 317.0h0.6M249.1 319.7h0.6M276.6 332.1h0.6M281.3 336.0h0.6M265.9 340.8h0.6M262.0 344.0h0.6M256.0 336.0h0.6M285.2 328.5h0.6M256.3 338.6h0.6M252.1 334.7h0.6M256.8 341.5h0.6M273.3 328.1h0.6M277.1 333.8h0.6M271.5 338.7h0.6M251.4 333.1h0.6M271.8 334.2h0.6M276.9 325.4h0.6M262.7 329.6h0.6M256.3 339.9h0.6M268.5 338.4h0.6M248.6 324.9h0.6M252.7 341.6h0.6M256.2 336.7h0.6M249.0 336.0h0.6M255.5 336.1h0.6M269.5 333.4h0.6M274.1 332.8h0.6M268.2 342.8h0.6M260.5 343.3h0.6M268.8 338.6h0.6M257.1 337.5h0.6M266.5 340.0h0.6M271.9 326.8h0.6M278.6 326.3h0.6M268.2 335.0h0.6M258.2 334.5h0.6M273.2 320.2h0.6M267.9 332.2h0.6M275.3 335.4h0.6M254.6 325.1h0.6M262.0 324.7h0.6M266.4 338.3h0.6M266.0 330.4h0.6M279.1 321.9h0.6M262.5 337.5h0.6M261.1 330.4h0.6M255.5 325.3h0.6M258.5 340.4h0.6M275.3 341.3h0.6M290.2 343.1h0.6M260.5 341.0h0.6M279.0 328.6h0.6M258.9 334.4h0.6M271.7 335.3h0.6M264.6 341.1h0.6M284.1 343.8h0.6M254.7 340.6h0.6M246.8 338.5h0.6M269.3 318.9h0.6M276.4 333.5h0.6M266.1 340.8h0.6M257.3 337.2h0.6M265.9 334.1h0.6M256.0 340.2h0.6M270.8 334.1h0.6M283.6 325.8h0.6M269.8 338.1h0.6M280.8 339.0h0.6M256.3 316.4h0.6M269.2 335.2h0.6M276.9 331.2h0.6M269.8 330.1h0.6M281.5 341.9h0.6M287.2 330.7h0.6M259.8 335.1h0.6M277.8 332.7h0.6M258.5 321.1h0.6M274.5 335.6h0.6M276.3 342.8h0.6M270.7 341.9h0.6M271.1 338.9h0.6M260.5 335.8h0.6M273.9 336.0h0.6M268.6 336.8h0.6M266.8 325.7h0.6M252.2 333.0h0.6M274.6 337.9h0.6M252.5 325.1h0.6M283.6 341.4h0.6M287.5 334.3h0.6M257.6 326.7h0.6M264.9 326.2h0.6M270.1 340.4h0.6M251.4 332.8h0.6M245.8 324.3h0.6M266.9 329.8h0.6M261.9 336.2h0.6M273.9 331.1h0.6M257.1 337.3h0.6M263.1 336.1h0.6M272.0 336.8h0.6M254.1 333.8h0.6M261.6 337.0h0.6M260.7 330.7h0.6M261.7 337.8h0.6M270.9 332.5h0.6M266.7 340.4h0.6M267.3 332.0h0.6M277.8 327.0h0.6M272.0 340.6h0.6M268.6 331.0h0.6M268.8 339.4h0.6" stroke="#111" stroke-width="0.6" opacity="0.55"/>
<ellipse cx="266.5" cy="337.0" rx="13" ry="13.5" fill="#222" opacity="0.5" filter="url(#bl3)"/>
<ellipse cx="266.5" cy="336.0" rx="11" ry="12" fill="#000" filter="url(#bl)"/>
</g>
<rect x="243.50" y="283.10" width="76.90" height="61.90" fill="none" stroke="#b0b0b0" stroke-width="0.8"/>
<line x1="279.60" y1="283.10" x2="279.60" y2="345.00" stroke="#444" stroke-width="0.8"/>
<text x="291.20" y="293.70" font-size="10.2" fill="#1a1a1a" stroke="#1a1a1a" stroke-width="0.15" textLength="26.30" lengthAdjust="spacingAndGlyphs">CLP 2</text>
<rect x="238.00" y="288.90" width="3.20" height="1.20" fill="#c0c0c0"/>
<rect x="238.00" y="304.80" width="3.20" height="1.20" fill="#c0c0c0"/>
<rect x="238.00" y="320.40" width="3.20" height="1.20" fill="#c0c0c0"/>
<rect x="238.00" y="335.90" width="3.20" height="1.20" fill="#c0c0c0"/>
<rect x="252.50" y="348.40" width="3.20" height="1.20" fill="#c0c0c0"/>
<rect x="271.70" y="348.40" width="3.20" height="1.20" fill="#c0c0c0"/>
<rect x="291.10" y="348.40" width="3.20" height="1.20" fill="#c0c0c0"/>
<rect x="310.10" y="348.40" width="3.20" height="1.20" fill="#c0c0c0"/>
<line x1="139.20" y1="286.50" x2="139.20" y2="326.30" stroke="#333" stroke-width="0.9"/>
<path d="M139.2,283 L137.3,288.5 L141.1,288.5 Z" fill="#111"/>
<text transform="translate(143.50,341.30) rotate(-90)" x="0" y="0" font-size="9.5" fill="#1a1a1a" text-anchor="middle" stroke="#1a1a1a" stroke-width="0.15" textLength="25.90" lengthAdjust="spacingAndGlyphs">CD138</text>
<text x="148.70" y="361.00" font-size="10" fill="#1a1a1a" stroke="#1a1a1a" stroke-width="0.15" textLength="73.30" lengthAdjust="spacingAndGlyphs">Intracellular IgM</text>
<line x1="222.90" y1="357.50" x2="313.00" y2="357.50" stroke="#333" stroke-width="0.9"/>
<path d="M318,357.5 L312,355.4 L312,359.6 Z" fill="#111"/>
<text x="364.20" y="256.00" font-size="19" fill="#111" stroke="#111" stroke-width="0.15">h</text>
<line x1="402.00" y1="262.70" x2="402.00" y2="353.80" stroke="#555" stroke-width="0.9"/>
<line x1="402.00" y1="353.80" x2="545.00" y2="353.80" stroke="#555" stroke-width="0.9"/>
<line x1="397.50" y1="286.80" x2="402.00" y2="286.80" stroke="#555" stroke-width="0.9"/>
<text x="393.80" y="289.20" font-size="6.6" fill="#1a1a1a" stroke="#1a1a1a" stroke-width="0.15" text-anchor="end" textLength="16.93" lengthAdjust="spacingAndGlyphs">100</text>
<line x1="397.50" y1="320.30" x2="402.00" y2="320.30" stroke="#555" stroke-width="0.9"/>
<text x="393.80" y="322.70" font-size="6.6" fill="#1a1a1a" stroke="#1a1a1a" stroke-width="0.15" text-anchor="end" textLength="11.62" lengthAdjust="spacingAndGlyphs">10</text>
<line x1="397.50" y1="353.80" x2="402.00" y2="353.80" stroke="#555" stroke-width="0.9"/>
<text x="393.80" y="356.20" font-size="6.6" fill="#1a1a1a" stroke="#1a1a1a" stroke-width="0.15" text-anchor="end" textLength="5.02" lengthAdjust="spacingAndGlyphs">0</text>
<path d="M407.20,353.80V283.21H418.50V353.80" fill="none" stroke="#333" stroke-width="0.8"/>
<path d="M424.20,353.80V297.78H435.50V353.80" fill="none" stroke="#ff4040" stroke-width="0.9"/>
<line x1="412.85" y1="353.80" x2="412.85" y2="357.30" stroke="#555" stroke-width="0.8"/>
<line x1="429.85" y1="353.80" x2="429.85" y2="357.30" stroke="#555" stroke-width="0.8"/>
<line x1="412.85" y1="358.20" x2="429.85" y2="358.20" stroke="#aaa" stroke-width="1.2"/>
<text x="403.90" y="370.00" font-size="9" fill="#1a1a1a" stroke="#1a1a1a" stroke-width="0.15" textLength="27.90" lengthAdjust="spacingAndGlyphs">CD138</text>
<path d="M441.60,353.80V327.49H452.90V353.80" fill="none" stroke="#333" stroke-width="0.8"/>
<path d="M458.70,353.80V324.29H470.00V353.80" fill="none" stroke="#ff4040" stroke-width="0.9"/>
<line x1="447.25" y1="353.80" x2="447.25" y2="357.30" stroke="#555" stroke-width="0.8"/>
<line x1="464.35" y1="353.80" x2="464.35" y2="357.30" stroke="#555" stroke-width="0.8"/>
<line x1="447.25" y1="358.20" x2="464.35" y2="358.20" stroke="#aaa" stroke-width="1.2"/>
<text x="444.30" y="370.00" font-size="9" fill="#1a1a1a" stroke="#1a1a1a" stroke-width="0.15" textLength="26.60" lengthAdjust="spacingAndGlyphs">B220</text>
<path d="M476.00,353.80V340.18H487.30V353.80" fill="none" stroke="#333" stroke-width="0.8"/>
<path d="M493.20,353.80V338.82H504.50V353.80" fill="none" stroke="#ff4040" stroke-width="0.9"/>
<line x1="481.65" y1="353.80" x2="481.65" y2="357.30" stroke="#555" stroke-width="0.8"/>
<line x1="498.85" y1="353.80" x2="498.85" y2="357.30" stroke="#555" stroke-width="0.8"/>
<line x1="481.65" y1="358.20" x2="498.85" y2="358.20" stroke="#aaa" stroke-width="1.2"/>
<text x="477.80" y="370.00" font-size="9" fill="#1a1a1a" stroke="#1a1a1a" stroke-width="0.15" textLength="26.70" lengthAdjust="spacingAndGlyphs">CD86</text>
<path d="M510.30,353.80V315.61H521.60V353.80" fill="none" stroke="#333" stroke-width="0.8"/>
<path d="M527.30,353.80V305.06H538.60V353.80" fill="none" stroke="#ff4040" stroke-width="0.9"/>
<line x1="515.95" y1="353.80" x2="515.95" y2="357.30" stroke="#555" stroke-width="0.8"/>
<line x1="532.95" y1="353.80" x2="532.95" y2="357.30" stroke="#555" stroke-width="0.8"/>
<line x1="515.95" y1="358.20" x2="532.95" y2="358.20" stroke="#aaa" stroke-width="1.2"/>
<text x="510.80" y="370.00" font-size="9" fill="#1a1a1a" stroke="#1a1a1a" stroke-width="0.15" textLength="34.20" lengthAdjust="spacingAndGlyphs">MHC II</text>
<circle cx="415.32" cy="280.50" r="1.60" fill="none" stroke="#222" stroke-width="0.7"/>
<circle cx="415.34" cy="281.41" r="1.60" fill="none" stroke="#222" stroke-width="0.7"/>
<circle cx="413.12" cy="282.32" r="1.60" fill="none" stroke="#222" stroke-width="0.7"/>
<circle cx="411.37" cy="283.23" r="1.60" fill="none" stroke="#222" stroke-width="0.7"/>
<circle cx="409.61" cy="284.14" r="1.60" fill="none" stroke="#222" stroke-width="0.7"/>
<circle cx="412.11" cy="285.05" r="1.60" fill="none" stroke="#222" stroke-width="0.7"/>
<circle cx="412.30" cy="285.95" r="1.60" fill="none" stroke="#222" stroke-width="0.7"/>
<circle cx="409.54" cy="286.86" r="1.60" fill="none" stroke="#222" stroke-width="0.7"/>
<circle cx="409.57" cy="287.77" r="1.60" fill="none" stroke="#222" stroke-width="0.7"/>
<circle cx="416.79" cy="288.68" r="1.60" fill="none" stroke="#222" stroke-width="0.7"/>
<circle cx="414.16" cy="289.59" r="1.60" fill="none" stroke="#222" stroke-width="0.7"/>
<circle cx="410.98" cy="290.50" r="1.60" fill="none" stroke="#222" stroke-width="0.7"/>
<line x1="413.00" y1="283.50" x2="413.00" y2="289.00" stroke="#333" stroke-width="0.8"/>
<line x1="409.50" y1="283.50" x2="416.50" y2="283.50" stroke="#333" stroke-width="0.8"/>
<line x1="409.50" y1="289.00" x2="416.50" y2="289.00" stroke="#333" stroke-width="0.8"/>
<rect x="427.83" y="286.60" width="3.80" height="3.80" fill="#f01414"/>
<rect x="430.47" y="287.67" width="3.80" height="3.80" fill="#f01414"/>
<rect x="430.42" y="288.73" width="3.80" height="3.80" fill="#f01414"/>
<rect x="430.39" y="289.80" width="3.80" height="3.80" fill="#f01414"/>
<rect x="427.29" y="290.87" width="3.80" height="3.80" fill="#f01414"/>
<rect x="428.04" y="291.93" width="3.80" height="3.80" fill="#f01414"/>
<rect x="429.72" y="293.00" width="3.80" height="3.80" fill="#f01414"/>
<rect x="423.72" y="294.07" width="3.80" height="3.80" fill="#f01414"/>
<rect x="428.66" y="295.13" width="3.80" height="3.80" fill="#f01414"/>
<rect x="426.01" y="296.20" width="3.80" height="3.80" fill="#f01414"/>
<rect x="431.26" y="297.27" width="3.80" height="3.80" fill="#f01414"/>
<rect x="424.84" y="298.33" width="3.80" height="3.80" fill="#f01414"/>
<rect x="429.29" y="299.40" width="3.80" height="3.80" fill="#f01414"/>
<rect x="430.26" y="300.47" width="3.80" height="3.80" fill="#f01414"/>
<rect x="426.74" y="301.53" width="3.80" height="3.80" fill="#f01414"/>
<rect x="429.75" y="302.60" width="3.80" height="3.80" fill="#f01414"/>
<rect x="425.60" y="294.10" width="3.80" height="3.80" fill="#f01414"/>
<rect x="430.60" y="294.10" width="3.80" height="3.80" fill="#f01414"/>
<rect x="428.10" y="298.10" width="3.80" height="3.80" fill="#f01414"/>
<rect x="428.10" y="290.10" width="3.80" height="3.80" fill="#f01414"/>
<circle cx="449.81" cy="328.50" r="1.60" fill="none" stroke="#222" stroke-width="0.7"/>
<circle cx="443.83" cy="329.90" r="1.60" fill="none" stroke="#222" stroke-width="0.7"/>
<circle cx="448.65" cy="331.30" r="1.60" fill="none" stroke="#222" stroke-width="0.7"/>
<circle cx="443.71" cy="332.70" r="1.60" fill="none" stroke="#222" stroke-width="0.7"/>
<circle cx="447.22" cy="334.10" r="1.60" fill="none" stroke="#222" stroke-width="0.7"/>
<circle cx="446.76" cy="335.50" r="1.60" fill="none" stroke="#222" stroke-width="0.7"/>
<circle cx="445.12" cy="336.90" r="1.60" fill="none" stroke="#222" stroke-width="0.7"/>
<circle cx="445.97" cy="338.30" r="1.60" fill="none" stroke="#222" stroke-width="0.7"/>
<circle cx="449.34" cy="339.70" r="1.60" fill="none" stroke="#222" stroke-width="0.7"/>
<circle cx="445.92" cy="341.10" r="1.60" fill="none" stroke="#222" stroke-width="0.7"/>
<circle cx="444.74" cy="342.50" r="1.60" fill="none" stroke="#222" stroke-width="0.7"/>
<line x1="447.20" y1="331.50" x2="447.20" y2="340.00" stroke="#333" stroke-width="0.8"/>
<line x1="443.70" y1="331.50" x2="450.70" y2="331.50" stroke="#333" stroke-width="0.8"/>
<line x1="443.70" y1="340.00" x2="450.70" y2="340.00" stroke="#333" stroke-width="0.8"/>
<rect x="463.19" y="318.60" width="3.80" height="3.80" fill="#f01414"/>
<rect x="462.15" y="319.60" width="3.80" height="3.80" fill="#f01414"/>
<rect x="464.15" y="320.60" width="3.80" height="3.80" fill="#f01414"/>
<rect x="460.61" y="321.60" width="3.80" height="3.80" fill="#f01414"/>
<rect x="461.01" y="322.60" width="3.80" height="3.80" fill="#f01414"/>
<rect x="464.98" y="323.60" width="3.80" height="3.80" fill="#f01414"/>
<rect x="462.47" y="324.60" width="3.80" height="3.80" fill="#f01414"/>
<rect x="462.46" y="325.60" width="3.80" height="3.80" fill="#f01414"/>
<rect x="460.13" y="326.60" width="3.80" height="3.80" fill="#f01414"/>
<rect x="458.67" y="327.60" width="3.80" height="3.80" fill="#f01414"/>
<rect x="465.33" y="328.60" width="3.80" height="3.80" fill="#f01414"/>
<rect x="459.98" y="329.60" width="3.80" height="3.80" fill="#f01414"/>
<rect x="464.10" y="330.60" width="3.80" height="3.80" fill="#f01414"/>
<rect x="461.87" y="331.60" width="3.80" height="3.80" fill="#f01414"/>
<rect x="460.10" y="325.10" width="3.80" height="3.80" fill="#f01414"/>
<rect x="464.60" y="325.10" width="3.80" height="3.80" fill="#f01414"/>
<circle cx="484.75" cy="344.00" r="1.50" fill="none" stroke="#222" stroke-width="0.7"/>
<circle cx="480.78" cy="344.79" r="1.50" fill="none" stroke="#222" stroke-width="0.7"/>
<circle cx="484.64" cy="345.57" r="1.50" fill="none" stroke="#222" stroke-width="0.7"/>
<circle cx="481.90" cy="346.36" r="1.50" fill="none" stroke="#222" stroke-width="0.7"/>
<circle cx="479.63" cy="347.14" r="1.50" fill="none" stroke="#222" stroke-width="0.7"/>
<circle cx="483.24" cy="347.93" r="1.50" fill="none" stroke="#222" stroke-width="0.7"/>
<circle cx="482.76" cy="348.71" r="1.50" fill="none" stroke="#222" stroke-width="0.7"/>
<circle cx="482.83" cy="349.50" r="1.50" fill="none" stroke="#222" stroke-width="0.7"/>
<rect x="493.60" y="339.10" width="3.80" height="3.80" fill="#f01414"/>
<rect x="497.10" y="338.60" width="3.80" height="3.80" fill="#f01414"/>
<rect x="500.60" y="339.10" width="3.80" height="3.80" fill="#f01414"/>
<rect x="493.60" y="342.60" width="3.80" height="3.80" fill="#f01414"/>
<rect x="497.10" y="342.10" width="3.80" height="3.80" fill="#f01414"/>
<rect x="500.60" y="342.60" width="3.80" height="3.80" fill="#f01414"/>
<rect x="495.10" y="340.60" width="3.80" height="3.80" fill="#f01414"/>
<rect x="499.10" y="340.60" width="3.80" height="3.80" fill="#f01414"/>
<rect x="497.00" y="348.90" width="3.40" height="3.40" fill="#f01414"/>
<ellipse cx="515.5" cy="304.5" rx="2.0" ry="1.5" fill="none" stroke="#333" stroke-width="0.55"/>
<ellipse cx="511.7" cy="308" rx="2.0" ry="1.5" fill="none" stroke="#333" stroke-width="0.55"/>
<ellipse cx="519.2" cy="308.4" rx="2.0" ry="1.5" fill="none" stroke="#333" stroke-width="0.55"/>
<ellipse cx="511.7" cy="330.1" rx="2.0" ry="1.5" fill="none" stroke="#333" stroke-width="0.55"/>
<ellipse cx="519.2" cy="332.9" rx="2.0" ry="1.5" fill="none" stroke="#333" stroke-width="0.55"/>
<ellipse cx="515.5" cy="342.7" rx="2.0" ry="1.5" fill="none" stroke="#333" stroke-width="0.55"/>
<line x1="515.50" y1="304.00" x2="515.50" y2="341.00" stroke="#333" stroke-width="0.8"/>
<line x1="512.50" y1="304.00" x2="518.50" y2="304.00" stroke="#333" stroke-width="0.8"/>
<line x1="512.50" y1="338.50" x2="518.50" y2="338.50" stroke="#333" stroke-width="0.8"/>
<rect x="527.10" y="300.90" width="3.80" height="3.80" fill="#f01414"/>
<rect x="531.10" y="300.90" width="3.80" height="3.80" fill="#f01414"/>
<rect x="535.10" y="300.90" width="3.80" height="3.80" fill="#f01414"/>
<rect x="529.10" y="303.10" width="3.80" height="3.80" fill="#f01414"/>
<rect x="533.10" y="303.10" width="3.80" height="3.80" fill="#f01414"/>
<rect x="527.10" y="305.30" width="3.80" height="3.80" fill="#f01414"/>
<rect x="531.10" y="305.30" width="3.80" height="3.80" fill="#f01414"/>
<rect x="535.10" y="305.30" width="3.80" height="3.80" fill="#f01414"/>
<path d="M411.80,273.60 V267.70 H430.70 V273.60" fill="none" stroke="#555" stroke-width="0.9"/>
<text x="408.90" y="264.50" font-size="8.6" fill="#1a1a1a" stroke="#1a1a1a" stroke-width="0.15" textLength="52.90" lengthAdjust="spacingAndGlyphs">p &lt; 0.0001</text>
<path d="M446.40,312.90 V307.20 H465.70 V312.90" fill="none" stroke="#555" stroke-width="0.9"/>
<text x="443.00" y="305.10" font-size="8.6" fill="#1a1a1a" stroke="#1a1a1a" stroke-width="0.15" textLength="55.20" lengthAdjust="spacingAndGlyphs">p = 0.0002</text>
<path d="M513.50,297.80 V291.90 H532.80 V297.80" fill="none" stroke="#555" stroke-width="0.9"/>
<text x="513.90" y="289.00" font-size="8.6" fill="#1a1a1a" stroke="#1a1a1a" stroke-width="0.15" textLength="54.40" lengthAdjust="spacingAndGlyphs">p = 0.0047</text>
<text transform="translate(371.80,314.80) rotate(-90)" x="0" y="0" font-size="10.8" fill="#1a1a1a" text-anchor="middle" stroke="#1a1a1a" stroke-width="0.15" textLength="66.00" lengthAdjust="spacingAndGlyphs">MFI on plasma cells</text>
<rect x="585.10" y="316.80" width="7.90" height="7.90" fill="#ff1010"/>
<text x="598.90" y="326.50" font-size="12.6" fill="#ff1a1a" textLength="27.30" lengthAdjust="spacingAndGlyphs">CLP</text>
<circle cx="639.20" cy="321.00" r="3.80" fill="none" stroke="#333" stroke-width="0.8"/>
<text x="649.20" y="326.50" font-size="12.6" fill="#1a1a1a" textLength="39.50" lengthAdjust="spacingAndGlyphs">Sham</text>
<text x="9.20" y="408.80" font-size="19" fill="#111" stroke="#111" stroke-width="0.15">i</text>
<rect x="41.20" y="382.60" width="13.60" height="7.33" fill="#91bfdb" stroke="#9a9a9a" stroke-width="0.7"/>
<rect x="54.80" y="382.60" width="13.60" height="7.33" fill="#c2dcee" stroke="#9a9a9a" stroke-width="0.7"/>
<rect x="68.40" y="382.60" width="13.60" height="7.33" fill="#c2dcee" stroke="#9a9a9a" stroke-width="0.7"/>
<rect x="82.00" y="382.60" width="13.60" height="7.33" fill="#e6f2e6" stroke="#9a9a9a" stroke-width="0.7"/>
<rect x="95.60" y="382.60" width="13.60" height="7.33" fill="#c2dcee" stroke="#9a9a9a" stroke-width="0.7"/>
<rect x="109.20" y="382.60" width="13.60" height="7.33" fill="#fde9a0" stroke="#9a9a9a" stroke-width="0.7"/>
<rect x="41.20" y="389.93" width="13.60" height="7.33" fill="#b5d5ea" stroke="#9a9a9a" stroke-width="0.7"/>
<rect x="54.80" y="389.93" width="13.60" height="7.33" fill="#94c0dc" stroke="#9a9a9a" stroke-width="0.7"/>
<rect x="68.40" y="389.93" width="13.60" height="7.33" fill="#a9cfe5" stroke="#9a9a9a" stroke-width="0.7"/>
<rect x="82.00" y="389.93" width="13.60" height="7.33" fill="#fdd688" stroke="#9a9a9a" stroke-width="0.7"/>
<rect x="95.60" y="389.93" width="13.60" height="7.33" fill="#fafcc8" stroke="#9a9a9a" stroke-width="0.7"/>
<rect x="109.20" y="389.93" width="13.60" height="7.33" fill="#fefec0" stroke="#9a9a9a" stroke-width="0.7"/>
<rect x="41.20" y="397.26" width="13.60" height="7.33" fill="#94c0dc" stroke="#9a9a9a" stroke-width="0.7"/>
<rect x="54.80" y="397.26" width="13.60" height="7.33" fill="#8dbcd9" stroke="#9a9a9a" stroke-width="0.7"/>
<rect x="68.40" y="397.26" width="13.60" height="7.33" fill="#9cc6df" stroke="#9a9a9a" stroke-width="0.7"/>
<rect x="82.00" y="397.26" width="13.60" height="7.33" fill="#fffaae" stroke="#9a9a9a" stroke-width="0.7"/>
<rect x="95.60" y="397.26" width="13.60" height="7.33" fill="#c4def0" stroke="#9a9a9a" stroke-width="0.7"/>
<rect x="109.20" y="397.26" width="13.60" height="7.33" fill="#fde9a0" stroke="#9a9a9a" stroke-width="0.7"/>
<rect x="41.20" y="404.59" width="13.60" height="7.33" fill="#e0f2f7" stroke="#9a9a9a" stroke-width="0.7"/>
<rect x="54.80" y="404.59" width="13.60" height="7.33" fill="#cfe5f1" stroke="#9a9a9a" stroke-width="0.7"/>
<rect x="68.40" y="404.59" width="13.60" height="7.33" fill="#def0f6" stroke="#9a9a9a" stroke-width="0.7"/>
<rect x="82.00" y="404.59" width="13.60" height="7.33" fill="#d2e7f2" stroke="#9a9a9a" stroke-width="0.7"/>
<rect x="95.60" y="404.59" width="13.60" height="7.33" fill="#bcd9ea" stroke="#9a9a9a" stroke-width="0.7"/>
<rect x="109.20" y="404.59" width="13.60" height="7.33" fill="#dff1f6" stroke="#9a9a9a" stroke-width="0.7"/>
<rect x="41.20" y="411.92" width="13.60" height="7.33" fill="#6a98cc" stroke="#9a9a9a" stroke-width="0.7"/>
<rect x="54.80" y="411.92" width="13.60" height="7.33" fill="#f5f9d0" stroke="#9a9a9a" stroke-width="0.7"/>
<rect x="68.40" y="411.92" width="13.60" height="7.33" fill="#e8f4e0" stroke="#9a9a9a" stroke-width="0.7"/>
<rect x="82.00" y="411.92" width="13.60" height="7.33" fill="#eef6d6" stroke="#9a9a9a" stroke-width="0.7"/>
<rect x="95.60" y="411.92" width="13.60" height="7.33" fill="#abd0e6" stroke="#9a9a9a" stroke-width="0.7"/>
<rect x="109.20" y="411.92" width="13.60" height="7.33" fill="#fdd386" stroke="#9a9a9a" stroke-width="0.7"/>
<rect x="41.20" y="419.25" width="13.60" height="7.33" fill="#b8d7ea" stroke="#9a9a9a" stroke-width="0.7"/>
<rect x="54.80" y="419.25" width="13.60" height="7.33" fill="#bcd9ea" stroke="#9a9a9a" stroke-width="0.7"/>
<rect x="68.40" y="419.25" width="13.60" height="7.33" fill="#abd0e6" stroke="#9a9a9a" stroke-width="0.7"/>
<rect x="82.00" y="419.25" width="13.60" height="7.33" fill="#e0f3f8" stroke="#9a9a9a" stroke-width="0.7"/>
<rect x="95.60" y="419.25" width="13.60" height="7.33" fill="#c2dcee" stroke="#9a9a9a" stroke-width="0.7"/>
<rect x="109.20" y="419.25" width="13.60" height="7.33" fill="#eef6e0" stroke="#9a9a9a" stroke-width="0.7"/>
<rect x="41.20" y="426.58" width="13.60" height="7.33" fill="#79a9d3" stroke="#9a9a9a" stroke-width="0.7"/>
<rect x="54.80" y="426.58" width="13.60" height="7.33" fill="#e0f3f8" stroke="#9a9a9a" stroke-width="0.7"/>
<rect x="68.40" y="426.58" width="13.60" height="7.33" fill="#ffffc0" stroke="#9a9a9a" stroke-width="0.7"/>
<rect x="82.00" y="426.58" width="13.60" height="7.33" fill="#d8ecf5" stroke="#9a9a9a" stroke-width="0.7"/>
<rect x="95.60" y="426.58" width="13.60" height="7.33" fill="#a6cde4" stroke="#9a9a9a" stroke-width="0.7"/>
<rect x="109.20" y="426.58" width="13.60" height="7.33" fill="#fdd688" stroke="#9a9a9a" stroke-width="0.7"/>
<rect x="41.20" y="433.91" width="13.60" height="7.33" fill="#fdd98a" stroke="#9a9a9a" stroke-width="0.7"/>
<rect x="54.80" y="433.91" width="13.60" height="7.33" fill="#fde095" stroke="#9a9a9a" stroke-width="0.7"/>
<rect x="68.40" y="433.91" width="13.60" height="7.33" fill="#fddc8f" stroke="#9a9a9a" stroke-width="0.7"/>
<rect x="82.00" y="433.91" width="13.60" height="7.33" fill="#fdeba3" stroke="#9a9a9a" stroke-width="0.7"/>
<rect x="95.60" y="433.91" width="13.60" height="7.33" fill="#fc9053" stroke="#9a9a9a" stroke-width="0.7"/>
<rect x="109.20" y="433.91" width="13.60" height="7.33" fill="#fde9a0" stroke="#9a9a9a" stroke-width="0.7"/>
<rect x="41.20" y="441.24" width="13.60" height="7.33" fill="#8dbcd9" stroke="#9a9a9a" stroke-width="0.7"/>
<rect x="54.80" y="441.24" width="13.60" height="7.33" fill="#c4def0" stroke="#9a9a9a" stroke-width="0.7"/>
<rect x="68.40" y="441.24" width="13.60" height="7.33" fill="#9cc6df" stroke="#9a9a9a" stroke-width="0.7"/>
<rect x="82.00" y="441.24" width="13.60" height="7.33" fill="#fdc172" stroke="#9a9a9a" stroke-width="0.7"/>
<rect x="95.60" y="441.24" width="13.60" height="7.33" fill="#e0f3f8" stroke="#9a9a9a" stroke-width="0.7"/>
<rect x="109.20" y="441.24" width="13.60" height="7.33" fill="#fc9053" stroke="#9a9a9a" stroke-width="0.7"/>
<rect x="41.20" y="448.57" width="13.60" height="7.33" fill="#e8f4e0" stroke="#9a9a9a" stroke-width="0.7"/>
<rect x="54.80" y="448.57" width="13.60" height="7.33" fill="#fde095" stroke="#9a9a9a" stroke-width="0.7"/>
<rect x="68.40" y="448.57" width="13.60" height="7.33" fill="#eaf5df" stroke="#9a9a9a" stroke-width="0.7"/>
<rect x="82.00" y="448.57" width="13.60" height="7.33" fill="#a2c9e1" stroke="#9a9a9a" stroke-width="0.7"/>
<rect x="95.60" y="448.57" width="13.60" height="7.33" fill="#f46d43" stroke="#9a9a9a" stroke-width="0.7"/>
<rect x="109.20" y="448.57" width="13.60" height="7.33" fill="#c8e0ee" stroke="#9a9a9a" stroke-width="0.7"/>
<rect x="41.20" y="455.90" width="13.60" height="7.33" fill="#a9cfe5" stroke="#9a9a9a" stroke-width="0.7"/>
<rect x="54.80" y="455.90" width="13.60" height="7.33" fill="#a0c8e0" stroke="#9a9a9a" stroke-width="0.7"/>
<rect x="68.40" y="455.90" width="13.60" height="7.33" fill="#b0d2e6" stroke="#9a9a9a" stroke-width="0.7"/>
<rect x="82.00" y="455.90" width="13.60" height="7.33" fill="#e4f2e8" stroke="#9a9a9a" stroke-width="0.7"/>
<rect x="95.60" y="455.90" width="13.60" height="7.33" fill="#a6cde4" stroke="#9a9a9a" stroke-width="0.7"/>
<rect x="109.20" y="455.90" width="13.60" height="7.33" fill="#fde9a0" stroke="#9a9a9a" stroke-width="0.7"/>
<rect x="40.90" y="382.30" width="82.20" height="81.23" fill="none" stroke="#c4c4c4" stroke-width="0.9"/>
<rect x="124.90" y="382.60" width="13.60" height="7.33" fill="#fde095" stroke="#9a9a9a" stroke-width="0.7"/>
<rect x="138.50" y="382.60" width="13.60" height="7.33" fill="#fde9a0" stroke="#9a9a9a" stroke-width="0.7"/>
<rect x="152.10" y="382.60" width="13.60" height="7.33" fill="#fdd688" stroke="#9a9a9a" stroke-width="0.7"/>
<rect x="165.70" y="382.60" width="13.60" height="7.33" fill="#fdd98a" stroke="#9a9a9a" stroke-width="0.7"/>
<rect x="179.30" y="382.60" width="13.60" height="7.33" fill="#fef3b0" stroke="#9a9a9a" stroke-width="0.7"/>
<rect x="192.90" y="382.60" width="13.60" height="7.33" fill="#d73027" stroke="#9a9a9a" stroke-width="0.7"/>
<rect x="124.90" y="389.93" width="13.60" height="7.33" fill="#fefec0" stroke="#9a9a9a" stroke-width="0.7"/>
<rect x="138.50" y="389.93" width="13.60" height="7.33" fill="#fde095" stroke="#9a9a9a" stroke-width="0.7"/>
<rect x="152.10" y="389.93" width="13.60" height="7.33" fill="#fc9a5a" stroke="#9a9a9a" stroke-width="0.7"/>
<rect x="165.70" y="389.93" width="13.60" height="7.33" fill="#d2e7f2" stroke="#9a9a9a" stroke-width="0.7"/>
<rect x="179.30" y="389.93" width="13.60" height="7.33" fill="#f88450" stroke="#9a9a9a" stroke-width="0.7"/>
<rect x="192.90" y="389.93" width="13.60" height="7.33" fill="#fdd688" stroke="#9a9a9a" stroke-width="0.7"/>
<rect x="124.90" y="397.26" width="13.60" height="7.33" fill="#fdc172" stroke="#9a9a9a" stroke-width="0.7"/>
<rect x="138.50" y="397.26" width="13.60" height="7.33" fill="#fca060" stroke="#9a9a9a" stroke-width="0.7"/>
<rect x="152.10" y="397.26" width="13.60" height="7.33" fill="#fde095" stroke="#9a9a9a" stroke-width="0.7"/>
<rect x="165.70" y="397.26" width="13.60" height="7.33" fill="#fdca7a" stroke="#9a9a9a" stroke-width="0.7"/>
<rect x="179.30" y="397.26" width="13.60" height="7.33" fill="#fffcc0" stroke="#9a9a9a" stroke-width="0.7"/>
<rect x="192.90" y="397.26" width="13.60" height="7.33" fill="#fdc172" stroke="#9a9a9a" stroke-width="0.7"/>
<rect x="124.90" y="404.59" width="13.60" height="7.33" fill="#fde095" stroke="#9a9a9a" stroke-width="0.7"/>
<rect x="138.50" y="404.59" width="13.60" height="7.33" fill="#f0f8d4" stroke="#9a9a9a" stroke-width="0.7"/>
<rect x="152.10" y="404.59" width="13.60" height="7.33" fill="#f57748" stroke="#9a9a9a" stroke-width="0.7"/>
<rect x="165.70" y="404.59" width="13.60" height="7.33" fill="#fefcc0" stroke="#9a9a9a" stroke-width="0.7"/>
<rect x="179.30" y="404.59" width="13.60" height="7.33" fill="#fca060" stroke="#9a9a9a" stroke-width="0.7"/>
<rect x="192.90" y="404.59" width="13.60" height="7.33" fill="#f88a52" stroke="#9a9a9a" stroke-width="0.7"/>
<rect x="124.90" y="411.92" width="13.60" height="7.33" fill="#f57d4a" stroke="#9a9a9a" stroke-width="0.7"/>
<rect x="138.50" y="411.92" width="13.60" height="7.33" fill="#fca864" stroke="#9a9a9a" stroke-width="0.7"/>
<rect x="152.10" y="411.92" width="13.60" height="7.33" fill="#eef6dc" stroke="#9a9a9a" stroke-width="0.7"/>
<rect x="165.70" y="411.92" width="13.60" height="7.33" fill="#fefec0" stroke="#9a9a9a" stroke-width="0.7"/>
<rect x="179.30" y="411.92" width="13.60" height="7.33" fill="#f0f7d8" stroke="#9a9a9a" stroke-width="0.7"/>
<rect x="192.90" y="411.92" width="13.60" height="7.33" fill="#fdb86a" stroke="#9a9a9a" stroke-width="0.7"/>
<rect x="124.90" y="419.25" width="13.60" height="7.33" fill="#fdea9f" stroke="#9a9a9a" stroke-width="0.7"/>
<rect x="138.50" y="419.25" width="13.60" height="7.33" fill="#fdc778" stroke="#9a9a9a" stroke-width="0.7"/>
<rect x="152.10" y="419.25" width="13.60" height="7.33" fill="#fdc070" stroke="#9a9a9a" stroke-width="0.7"/>
<rect x="165.70" y="419.25" width="13.60" height="7.33" fill="#fde9a0" stroke="#9a9a9a" stroke-width="0.7"/>
<rect x="179.30" y="419.25" width="13.60" height="7.33" fill="#fa9055" stroke="#9a9a9a" stroke-width="0.7"/>
<rect x="192.90" y="419.25" width="13.60" height="7.33" fill="#f88a52" stroke="#9a9a9a" stroke-width="0.7"/>
<rect x="124.90" y="426.58" width="13.60" height="7.33" fill="#fde69a" stroke="#9a9a9a" stroke-width="0.7"/>
<rect x="138.50" y="426.58" width="13.60" height="7.33" fill="#fde69a" stroke="#9a9a9a" stroke-width="0.7"/>
<rect x="152.10" y="426.58" width="13.60" height="7.33" fill="#fca060" stroke="#9a9a9a" stroke-width="0.7"/>
<rect x="165.70" y="426.58" width="13.60" height="7.33" fill="#fef8b6" stroke="#9a9a9a" stroke-width="0.7"/>
<rect x="179.30" y="426.58" width="13.60" height="7.33" fill="#fefcc0" stroke="#9a9a9a" stroke-width="0.7"/>
<rect x="192.90" y="426.58" width="13.60" height="7.33" fill="#e8553a" stroke="#9a9a9a" stroke-width="0.7"/>
<rect x="124.90" y="433.91" width="13.60" height="7.33" fill="#fde095" stroke="#9a9a9a" stroke-width="0.7"/>
<rect x="138.50" y="433.91" width="13.60" height="7.33" fill="#fef0aa" stroke="#9a9a9a" stroke-width="0.7"/>
<rect x="152.10" y="433.91" width="13.60" height="7.33" fill="#c2dcee" stroke="#9a9a9a" stroke-width="0.7"/>
<rect x="165.70" y="433.91" width="13.60" height="7.33" fill="#fef8b6" stroke="#9a9a9a" stroke-width="0.7"/>
<rect x="179.30" y="433.91" width="13.60" height="7.33" fill="#80afd4" stroke="#9a9a9a" stroke-width="0.7"/>
<rect x="192.90" y="433.91" width="13.60" height="7.33" fill="#6a98cc" stroke="#9a9a9a" stroke-width="0.7"/>
<rect x="124.90" y="441.24" width="13.60" height="7.33" fill="#fde095" stroke="#9a9a9a" stroke-width="0.7"/>
<rect x="138.50" y="441.24" width="13.60" height="7.33" fill="#fee9a0" stroke="#9a9a9a" stroke-width="0.7"/>
<rect x="152.10" y="441.24" width="13.60" height="7.33" fill="#fdd386" stroke="#9a9a9a" stroke-width="0.7"/>
<rect x="165.70" y="441.24" width="13.60" height="7.33" fill="#fdd386" stroke="#9a9a9a" stroke-width="0.7"/>
<rect x="179.30" y="441.24" width="13.60" height="7.33" fill="#fde095" stroke="#9a9a9a" stroke-width="0.7"/>
<rect x="192.90" y="441.24" width="13.60" height="7.33" fill="#c6e0f0" stroke="#9a9a9a" stroke-width="0.7"/>
<rect x="124.90" y="448.57" width="13.60" height="7.33" fill="#fdd07f" stroke="#9a9a9a" stroke-width="0.7"/>
<rect x="138.50" y="448.57" width="13.60" height="7.33" fill="#f57748" stroke="#9a9a9a" stroke-width="0.7"/>
<rect x="152.10" y="448.57" width="13.60" height="7.33" fill="#90bedb" stroke="#9a9a9a" stroke-width="0.7"/>
<rect x="165.70" y="448.57" width="13.60" height="7.33" fill="#f0f7d8" stroke="#9a9a9a" stroke-width="0.7"/>
<rect x="179.30" y="448.57" width="13.60" height="7.33" fill="#fefcc0" stroke="#9a9a9a" stroke-width="0.7"/>
<rect x="192.90" y="448.57" width="13.60" height="7.33" fill="#fef0aa" stroke="#9a9a9a" stroke-width="0.7"/>
<rect x="124.90" y="455.90" width="13.60" height="7.33" fill="#fdd07f" stroke="#9a9a9a" stroke-width="0.7"/>
<rect x="138.50" y="455.90" width="13.60" height="7.33" fill="#fdc070" stroke="#9a9a9a" stroke-width="0.7"/>
<rect x="152.10" y="455.90" width="13.60" height="7.33" fill="#fddc8f" stroke="#9a9a9a" stroke-width="0.7"/>
<rect x="165.70" y="455.90" width="13.60" height="7.33" fill="#fde095" stroke="#9a9a9a" stroke-width="0.7"/>
<rect x="179.30" y="455.90" width="13.60" height="7.33" fill="#fdca7a" stroke="#9a9a9a" stroke-width="0.7"/>
<rect x="192.90" y="455.90" width="13.60" height="7.33" fill="#fddc8f" stroke="#9a9a9a" stroke-width="0.7"/>
<rect x="124.60" y="382.30" width="82.20" height="81.23" fill="none" stroke="#c4c4c4" stroke-width="0.9"/>
<text x="208.60" y="389.17" font-size="9.7" fill="#1a1a1a" stroke="#1a1a1a" stroke-width="0.05" textLength="24.81" lengthAdjust="spacingAndGlyphs">Cd28</text>
<text x="208.60" y="396.50" font-size="9.7" fill="#1a1a1a" stroke="#1a1a1a" stroke-width="0.05" textLength="31.15" lengthAdjust="spacingAndGlyphs">Ms4a1</text>
<text x="208.60" y="403.83" font-size="9.7" fill="#1a1a1a" stroke="#1a1a1a" stroke-width="0.05" textLength="32.30" lengthAdjust="spacingAndGlyphs">Slamf7</text>
<text x="208.60" y="411.16" font-size="9.7" fill="#1a1a1a" stroke="#1a1a1a" stroke-width="0.05" textLength="20.19" lengthAdjust="spacingAndGlyphs">Bcl6</text>
<text x="208.60" y="418.49" font-size="9.7" fill="#1a1a1a" stroke="#1a1a1a" stroke-width="0.05" textLength="15.00" lengthAdjust="spacingAndGlyphs">Irf4</text>
<text x="208.60" y="425.81" font-size="9.7" fill="#1a1a1a" stroke="#1a1a1a" stroke-width="0.05" textLength="23.66" lengthAdjust="spacingAndGlyphs">Pax5</text>
<text x="208.60" y="433.15" font-size="9.7" fill="#1a1a1a" stroke="#1a1a1a" stroke-width="0.05" textLength="30.57" lengthAdjust="spacingAndGlyphs">Prdm1</text>
<text x="208.60" y="440.48" font-size="9.7" fill="#1a1a1a" stroke="#1a1a1a" stroke-width="0.05" textLength="24.24" lengthAdjust="spacingAndGlyphs">Xbp1</text>
<text x="208.60" y="447.81" font-size="9.7" fill="#1a1a1a" stroke="#1a1a1a" stroke-width="0.05" textLength="43.84" lengthAdjust="spacingAndGlyphs">Tnfrsf13b</text>
<text x="208.60" y="455.14" font-size="9.7" fill="#1a1a1a" stroke="#1a1a1a" stroke-width="0.05" textLength="43.26" lengthAdjust="spacingAndGlyphs">Tnfrsf13c</text>
<text x="208.60" y="462.47" font-size="9.7" fill="#1a1a1a" stroke="#1a1a1a" stroke-width="0.05" textLength="38.07" lengthAdjust="spacingAndGlyphs">Tnfrsf17</text>
<rect x="41.20" y="465.00" width="13.60" height="7.33" fill="#fde095" stroke="#9a9a9a" stroke-width="0.7"/>
<rect x="54.80" y="465.00" width="13.60" height="7.33" fill="#fdc172" stroke="#9a9a9a" stroke-width="0.7"/>
<rect x="68.40" y="465.00" width="13.60" height="7.33" fill="#fdd07f" stroke="#9a9a9a" stroke-width="0.7"/>
<rect x="82.00" y="465.00" width="13.60" height="7.33" fill="#fa8a50" stroke="#9a9a9a" stroke-width="0.7"/>
<rect x="95.60" y="465.00" width="13.60" height="7.33" fill="#fa8a50" stroke="#9a9a9a" stroke-width="0.7"/>
<rect x="109.20" y="465.00" width="13.60" height="7.33" fill="#fef0aa" stroke="#9a9a9a" stroke-width="0.7"/>
<rect x="41.20" y="472.33" width="13.60" height="7.33" fill="#e0f3f8" stroke="#9a9a9a" stroke-width="0.7"/>
<rect x="54.80" y="472.33" width="13.60" height="7.33" fill="#94c0dc" stroke="#9a9a9a" stroke-width="0.7"/>
<rect x="68.40" y="472.33" width="13.60" height="7.33" fill="#f5f9d8" stroke="#9a9a9a" stroke-width="0.7"/>
<rect x="82.00" y="472.33" width="13.60" height="7.33" fill="#fa9052" stroke="#9a9a9a" stroke-width="0.7"/>
<rect x="95.60" y="472.33" width="13.60" height="7.33" fill="#9cc6df" stroke="#9a9a9a" stroke-width="0.7"/>
<rect x="109.20" y="472.33" width="13.60" height="7.33" fill="#e6f3ea" stroke="#9a9a9a" stroke-width="0.7"/>
<rect x="41.20" y="479.66" width="13.60" height="7.33" fill="#e4f2ea" stroke="#9a9a9a" stroke-width="0.7"/>
<rect x="54.80" y="479.66" width="13.60" height="7.33" fill="#a0c8e0" stroke="#9a9a9a" stroke-width="0.7"/>
<rect x="68.40" y="479.66" width="13.60" height="7.33" fill="#c4def0" stroke="#9a9a9a" stroke-width="0.7"/>
<rect x="82.00" y="479.66" width="13.60" height="7.33" fill="#fefcc0" stroke="#9a9a9a" stroke-width="0.7"/>
<rect x="95.60" y="479.66" width="13.60" height="7.33" fill="#e6f3ea" stroke="#9a9a9a" stroke-width="0.7"/>
<rect x="109.20" y="479.66" width="13.60" height="7.33" fill="#b0d2e6" stroke="#9a9a9a" stroke-width="0.7"/>
<rect x="41.20" y="486.99" width="13.60" height="7.33" fill="#bcd9ea" stroke="#9a9a9a" stroke-width="0.7"/>
<rect x="54.80" y="486.99" width="13.60" height="7.33" fill="#cfe5f1" stroke="#9a9a9a" stroke-width="0.7"/>
<rect x="68.40" y="486.99" width="13.60" height="7.33" fill="#c4def0" stroke="#9a9a9a" stroke-width="0.7"/>
<rect x="82.00" y="486.99" width="13.60" height="7.33" fill="#daeef6" stroke="#9a9a9a" stroke-width="0.7"/>
<rect x="95.60" y="486.99" width="13.60" height="7.33" fill="#b5d5ea" stroke="#9a9a9a" stroke-width="0.7"/>
<rect x="109.20" y="486.99" width="13.60" height="7.33" fill="#e4f2ee" stroke="#9a9a9a" stroke-width="0.7"/>
<rect x="41.20" y="494.32" width="13.60" height="7.33" fill="#abd0e6" stroke="#9a9a9a" stroke-width="0.7"/>
<rect x="54.80" y="494.32" width="13.60" height="7.33" fill="#b0d2e6" stroke="#9a9a9a" stroke-width="0.7"/>
<rect x="68.40" y="494.32" width="13.60" height="7.33" fill="#b0d2e6" stroke="#9a9a9a" stroke-width="0.7"/>
<rect x="82.00" y="494.32" width="13.60" height="7.33" fill="#fde69a" stroke="#9a9a9a" stroke-width="0.7"/>
<rect x="95.60" y="494.32" width="13.60" height="7.33" fill="#abd0e6" stroke="#9a9a9a" stroke-width="0.7"/>
<rect x="109.20" y="494.32" width="13.60" height="7.33" fill="#e0f1ee" stroke="#9a9a9a" stroke-width="0.7"/>
<rect x="41.20" y="501.65" width="13.60" height="7.33" fill="#fefcc0" stroke="#9a9a9a" stroke-width="0.7"/>
<rect x="54.80" y="501.65" width="13.60" height="7.33" fill="#c4def0" stroke="#9a9a9a" stroke-width="0.7"/>
<rect x="68.40" y="501.65" width="13.60" height="7.33" fill="#e8f4e0" stroke="#9a9a9a" stroke-width="0.7"/>
<rect x="82.00" y="501.65" width="13.60" height="7.33" fill="#fde095" stroke="#9a9a9a" stroke-width="0.7"/>
<rect x="95.60" y="501.65" width="13.60" height="7.33" fill="#fc9a58" stroke="#9a9a9a" stroke-width="0.7"/>
<rect x="109.20" y="501.65" width="13.60" height="7.33" fill="#6f9fcf" stroke="#9a9a9a" stroke-width="0.7"/>
<rect x="41.20" y="508.98" width="13.60" height="7.33" fill="#d6ebf4" stroke="#9a9a9a" stroke-width="0.7"/>
<rect x="54.80" y="508.98" width="13.60" height="7.33" fill="#daeef6" stroke="#9a9a9a" stroke-width="0.7"/>
<rect x="68.40" y="508.98" width="13.60" height="7.33" fill="#fdd68a" stroke="#9a9a9a" stroke-width="0.7"/>
<rect x="82.00" y="508.98" width="13.60" height="7.33" fill="#e8f4e4" stroke="#9a9a9a" stroke-width="0.7"/>
<rect x="95.60" y="508.98" width="13.60" height="7.33" fill="#abd0e6" stroke="#9a9a9a" stroke-width="0.7"/>
<rect x="109.20" y="508.98" width="13.60" height="7.33" fill="#abd0e6" stroke="#9a9a9a" stroke-width="0.7"/>
<rect x="40.90" y="464.70" width="82.20" height="51.91" fill="none" stroke="#c4c4c4" stroke-width="0.9"/>
<rect x="124.90" y="465.00" width="13.60" height="7.33" fill="#e4f2ee" stroke="#9a9a9a" stroke-width="0.7"/>
<rect x="138.50" y="465.00" width="13.60" height="7.33" fill="#e0f1ee" stroke="#9a9a9a" stroke-width="0.7"/>
<rect x="152.10" y="465.00" width="13.60" height="7.33" fill="#94c0dc" stroke="#9a9a9a" stroke-width="0.7"/>
<rect x="165.70" y="465.00" width="13.60" height="7.33" fill="#c4def0" stroke="#9a9a9a" stroke-width="0.7"/>
<rect x="179.30" y="465.00" width="13.60" height="7.33" fill="#abd0e6" stroke="#9a9a9a" stroke-width="0.7"/>
<rect x="192.90" y="465.00" width="13.60" height="7.33" fill="#e0f1ee" stroke="#9a9a9a" stroke-width="0.7"/>
<rect x="124.90" y="472.33" width="13.60" height="7.33" fill="#d6ebf4" stroke="#9a9a9a" stroke-width="0.7"/>
<rect x="138.50" y="472.33" width="13.60" height="7.33" fill="#fef6b4" stroke="#9a9a9a" stroke-width="0.7"/>
<rect x="152.10" y="472.33" width="13.60" height="7.33" fill="#fddc8f" stroke="#9a9a9a" stroke-width="0.7"/>
<rect x="165.70" y="472.33" width="13.60" height="7.33" fill="#fdb86a" stroke="#9a9a9a" stroke-width="0.7"/>
<rect x="179.30" y="472.33" width="13.60" height="7.33" fill="#f88a52" stroke="#9a9a9a" stroke-width="0.7"/>
<rect x="192.90" y="472.33" width="13.60" height="7.33" fill="#fde095" stroke="#9a9a9a" stroke-width="0.7"/>
<rect x="124.90" y="479.66" width="13.60" height="7.33" fill="#fdd386" stroke="#9a9a9a" stroke-width="0.7"/>
<rect x="138.50" y="479.66" width="13.60" height="7.33" fill="#fa9a58" stroke="#9a9a9a" stroke-width="0.7"/>
<rect x="152.10" y="479.66" width="13.60" height="7.33" fill="#fddc8f" stroke="#9a9a9a" stroke-width="0.7"/>
<rect x="165.70" y="479.66" width="13.60" height="7.33" fill="#fefcc0" stroke="#9a9a9a" stroke-width="0.7"/>
<rect x="179.30" y="479.66" width="13.60" height="7.33" fill="#e4553a" stroke="#9a9a9a" stroke-width="0.7"/>
<rect x="192.90" y="479.66" width="13.60" height="7.33" fill="#fefcc0" stroke="#9a9a9a" stroke-width="0.7"/>
<rect x="124.90" y="486.99" width="13.60" height="7.33" fill="#fdea9f" stroke="#9a9a9a" stroke-width="0.7"/>
<rect x="138.50" y="486.99" width="13.60" height="7.33" fill="#fddc8f" stroke="#9a9a9a" stroke-width="0.7"/>
<rect x="152.10" y="486.99" width="13.60" height="7.33" fill="#fdc778" stroke="#9a9a9a" stroke-width="0.7"/>
<rect x="165.70" y="486.99" width="13.60" height="7.33" fill="#fde095" stroke="#9a9a9a" stroke-width="0.7"/>
<rect x="179.30" y="486.99" width="13.60" height="7.33" fill="#f0683f" stroke="#9a9a9a" stroke-width="0.7"/>
<rect x="192.90" y="486.99" width="13.60" height="7.33" fill="#fa9a58" stroke="#9a9a9a" stroke-width="0.7"/>
<rect x="124.90" y="494.32" width="13.60" height="7.33" fill="#fef6b4" stroke="#9a9a9a" stroke-width="0.7"/>
<rect x="138.50" y="494.32" width="13.60" height="7.33" fill="#fddc8f" stroke="#9a9a9a" stroke-width="0.7"/>
<rect x="152.10" y="494.32" width="13.60" height="7.33" fill="#fca060" stroke="#9a9a9a" stroke-width="0.7"/>
<rect x="165.70" y="494.32" width="13.60" height="7.33" fill="#fdb86a" stroke="#9a9a9a" stroke-width="0.7"/>
<rect x="179.30" y="494.32" width="13.60" height="7.33" fill="#f99557" stroke="#9a9a9a" stroke-width="0.7"/>
<rect x="192.90" y="494.32" width="13.60" height="7.33" fill="#fdd68a" stroke="#9a9a9a" stroke-width="0.7"/>
<rect x="124.90" y="501.65" width="13.60" height="7.33" fill="#fefcc0" stroke="#9a9a9a" stroke-width="0.7"/>
<rect x="138.50" y="501.65" width="13.60" height="7.33" fill="#fefcc0" stroke="#9a9a9a" stroke-width="0.7"/>
<rect x="152.10" y="501.65" width="13.60" height="7.33" fill="#fdea9f" stroke="#9a9a9a" stroke-width="0.7"/>
<rect x="165.70" y="501.65" width="13.60" height="7.33" fill="#c6e0f0" stroke="#9a9a9a" stroke-width="0.7"/>
<rect x="179.30" y="501.65" width="13.60" height="7.33" fill="#fef6b4" stroke="#9a9a9a" stroke-width="0.7"/>
<rect x="192.90" y="501.65" width="13.60" height="7.33" fill="#e0442f" stroke="#9a9a9a" stroke-width="0.7"/>
<rect x="124.90" y="508.98" width="13.60" height="7.33" fill="#abd0e6" stroke="#9a9a9a" stroke-width="0.7"/>
<rect x="138.50" y="508.98" width="13.60" height="7.33" fill="#fca060" stroke="#9a9a9a" stroke-width="0.7"/>
<rect x="152.10" y="508.98" width="13.60" height="7.33" fill="#fddc8f" stroke="#9a9a9a" stroke-width="0.7"/>
<rect x="165.70" y="508.98" width="13.60" height="7.33" fill="#fca060" stroke="#9a9a9a" stroke-width="0.7"/>
<rect x="179.30" y="508.98" width="13.60" height="7.33" fill="#fdd386" stroke="#9a9a9a" stroke-width="0.7"/>
<rect x="192.90" y="508.98" width="13.60" height="7.33" fill="#fca060" stroke="#9a9a9a" stroke-width="0.7"/>
<rect x="124.60" y="464.70" width="82.20" height="51.91" fill="none" stroke="#c4c4c4" stroke-width="0.9"/>
<text x="208.60" y="471.56" font-size="9.7" fill="#1a1a1a" stroke="#1a1a1a" stroke-width="0.05" textLength="20.19" lengthAdjust="spacingAndGlyphs">Blnk</text>
<text x="208.60" y="478.89" font-size="9.7" fill="#1a1a1a" stroke="#1a1a1a" stroke-width="0.05" textLength="15.00" lengthAdjust="spacingAndGlyphs">Btk</text>
<text x="208.60" y="486.23" font-size="9.7" fill="#1a1a1a" stroke="#1a1a1a" stroke-width="0.05" textLength="24.81" lengthAdjust="spacingAndGlyphs">Cd19</text>
<text x="208.60" y="493.56" font-size="9.7" fill="#1a1a1a" stroke="#1a1a1a" stroke-width="0.05" textLength="24.81" lengthAdjust="spacingAndGlyphs">Cd22</text>
<text x="208.60" y="500.88" font-size="9.7" fill="#1a1a1a" stroke="#1a1a1a" stroke-width="0.05" textLength="16.35" lengthAdjust="spacingAndGlyphs">Lyn</text>
<text x="208.60" y="508.21" font-size="9.7" fill="#1a1a1a" stroke="#1a1a1a" stroke-width="0.05" textLength="24.22" lengthAdjust="spacingAndGlyphs">Ptprc</text>
<text x="208.60" y="515.55" font-size="9.7" fill="#1a1a1a" stroke="#1a1a1a" stroke-width="0.05" textLength="17.30" lengthAdjust="spacingAndGlyphs">Syk</text>
<rect x="41.20" y="519.00" width="13.60" height="7.33" fill="#d2e8f3" stroke="#9a9a9a" stroke-width="0.7"/>
<rect x="54.80" y="519.00" width="13.60" height="7.33" fill="#d6ebf4" stroke="#9a9a9a" stroke-width="0.7"/>
<rect x="68.40" y="519.00" width="13.60" height="7.33" fill="#d6ebf4" stroke="#9a9a9a" stroke-width="0.7"/>
<rect x="82.00" y="519.00" width="13.60" height="7.33" fill="#e0f1ee" stroke="#9a9a9a" stroke-width="0.7"/>
<rect x="95.60" y="519.00" width="13.60" height="7.33" fill="#d6ebf4" stroke="#9a9a9a" stroke-width="0.7"/>
<rect x="109.20" y="519.00" width="13.60" height="7.33" fill="#e4f2ee" stroke="#9a9a9a" stroke-width="0.7"/>
<rect x="41.20" y="526.33" width="13.60" height="7.33" fill="#cce3f0" stroke="#9a9a9a" stroke-width="0.7"/>
<rect x="54.80" y="526.33" width="13.60" height="7.33" fill="#d6ebf4" stroke="#9a9a9a" stroke-width="0.7"/>
<rect x="68.40" y="526.33" width="13.60" height="7.33" fill="#cce3f0" stroke="#9a9a9a" stroke-width="0.7"/>
<rect x="82.00" y="526.33" width="13.60" height="7.33" fill="#e0f1ee" stroke="#9a9a9a" stroke-width="0.7"/>
<rect x="95.60" y="526.33" width="13.60" height="7.33" fill="#d2e8f3" stroke="#9a9a9a" stroke-width="0.7"/>
<rect x="109.20" y="526.33" width="13.60" height="7.33" fill="#d2e8f3" stroke="#9a9a9a" stroke-width="0.7"/>
<rect x="41.20" y="533.66" width="13.60" height="7.33" fill="#dcf0f6" stroke="#9a9a9a" stroke-width="0.7"/>
<rect x="54.80" y="533.66" width="13.60" height="7.33" fill="#e8f4e2" stroke="#9a9a9a" stroke-width="0.7"/>
<rect x="68.40" y="533.66" width="13.60" height="7.33" fill="#dcf0f6" stroke="#9a9a9a" stroke-width="0.7"/>
<rect x="82.00" y="533.66" width="13.60" height="7.33" fill="#e8f4e2" stroke="#9a9a9a" stroke-width="0.7"/>
<rect x="95.60" y="533.66" width="13.60" height="7.33" fill="#e8f4e2" stroke="#9a9a9a" stroke-width="0.7"/>
<rect x="109.20" y="533.66" width="13.60" height="7.33" fill="#e8f4e2" stroke="#9a9a9a" stroke-width="0.7"/>
<rect x="41.20" y="540.99" width="13.60" height="7.33" fill="#abd0e6" stroke="#9a9a9a" stroke-width="0.7"/>
<rect x="54.80" y="540.99" width="13.60" height="7.33" fill="#abd0e6" stroke="#9a9a9a" stroke-width="0.7"/>
<rect x="68.40" y="540.99" width="13.60" height="7.33" fill="#dcf0f6" stroke="#9a9a9a" stroke-width="0.7"/>
<rect x="82.00" y="540.99" width="13.60" height="7.33" fill="#eef6da" stroke="#9a9a9a" stroke-width="0.7"/>
<rect x="95.60" y="540.99" width="13.60" height="7.33" fill="#cce3f0" stroke="#9a9a9a" stroke-width="0.7"/>
<rect x="109.20" y="540.99" width="13.60" height="7.33" fill="#f2f8d4" stroke="#9a9a9a" stroke-width="0.7"/>
<rect x="40.90" y="518.70" width="82.20" height="29.92" fill="none" stroke="#c4c4c4" stroke-width="0.9"/>
<rect x="124.90" y="519.00" width="13.60" height="7.33" fill="#fdea9f" stroke="#9a9a9a" stroke-width="0.7"/>
<rect x="138.50" y="519.00" width="13.60" height="7.33" fill="#fde095" stroke="#9a9a9a" stroke-width="0.7"/>
<rect x="152.10" y="519.00" width="13.60" height="7.33" fill="#fdea9f" stroke="#9a9a9a" stroke-width="0.7"/>
<rect x="165.70" y="519.00" width="13.60" height="7.33" fill="#eef6da" stroke="#9a9a9a" stroke-width="0.7"/>
<rect x="179.30" y="519.00" width="13.60" height="7.33" fill="#f06840" stroke="#9a9a9a" stroke-width="0.7"/>
<rect x="192.90" y="519.00" width="13.60" height="7.33" fill="#dc3a2c" stroke="#9a9a9a" stroke-width="0.7"/>
<rect x="124.90" y="526.33" width="13.60" height="7.33" fill="#eef6da" stroke="#9a9a9a" stroke-width="0.7"/>
<rect x="138.50" y="526.33" width="13.60" height="7.33" fill="#fde095" stroke="#9a9a9a" stroke-width="0.7"/>
<rect x="152.10" y="526.33" width="13.60" height="7.33" fill="#fa9a58" stroke="#9a9a9a" stroke-width="0.7"/>
<rect x="165.70" y="526.33" width="13.60" height="7.33" fill="#fde095" stroke="#9a9a9a" stroke-width="0.7"/>
<rect x="179.30" y="526.33" width="13.60" height="7.33" fill="#fca060" stroke="#9a9a9a" stroke-width="0.7"/>
<rect x="192.90" y="526.33" width="13.60" height="7.33" fill="#e8553a" stroke="#9a9a9a" stroke-width="0.7"/>
<rect x="124.90" y="533.66" width="13.60" height="7.33" fill="#fefcc0" stroke="#9a9a9a" stroke-width="0.7"/>
<rect x="138.50" y="533.66" width="13.60" height="7.33" fill="#f0f8d8" stroke="#9a9a9a" stroke-width="0.7"/>
<rect x="152.10" y="533.66" width="13.60" height="7.33" fill="#fefcc0" stroke="#9a9a9a" stroke-width="0.7"/>
<rect x="165.70" y="533.66" width="13.60" height="7.33" fill="#dc3a2c" stroke="#9a9a9a" stroke-width="0.7"/>
<rect x="179.30" y="533.66" width="13.60" height="7.33" fill="#fefcc0" stroke="#9a9a9a" stroke-width="0.7"/>
<rect x="192.90" y="533.66" width="13.60" height="7.33" fill="#e8553a" stroke="#9a9a9a" stroke-width="0.7"/>
<rect x="124.90" y="540.99" width="13.60" height="7.33" fill="#fdea9f" stroke="#9a9a9a" stroke-width="0.7"/>
<rect x="138.50" y="540.99" width="13.60" height="7.33" fill="#fdea9f" stroke="#9a9a9a" stroke-width="0.7"/>
<rect x="152.10" y="540.99" width="13.60" height="7.33" fill="#fef6b4" stroke="#9a9a9a" stroke-width="0.7"/>
<rect x="165.70" y="540.99" width="13.60" height="7.33" fill="#fefcc0" stroke="#9a9a9a" stroke-width="0.7"/>
<rect x="179.30" y="540.99" width="13.60" height="7.33" fill="#fca060" stroke="#9a9a9a" stroke-width="0.7"/>
<rect x="192.90" y="540.99" width="13.60" height="7.33" fill="#d73027" stroke="#9a9a9a" stroke-width="0.7"/>
<rect x="124.60" y="518.70" width="82.20" height="29.92" fill="none" stroke="#c4c4c4" stroke-width="0.9"/>
<text x="208.60" y="525.57" font-size="9.7" fill="#1a1a1a" stroke="#1a1a1a" stroke-width="0.05" textLength="21.91" lengthAdjust="spacingAndGlyphs">Ccr7</text>
<text x="208.60" y="532.90" font-size="9.7" fill="#1a1a1a" stroke="#1a1a1a" stroke-width="0.05" textLength="27.10" lengthAdjust="spacingAndGlyphs">Cxcr5</text>
<text x="208.60" y="540.23" font-size="9.7" fill="#1a1a1a" stroke="#1a1a1a" stroke-width="0.05" textLength="27.10" lengthAdjust="spacingAndGlyphs">Cxcr3</text>
<text x="208.60" y="547.56" font-size="9.7" fill="#1a1a1a" stroke="#1a1a1a" stroke-width="0.05" textLength="27.10" lengthAdjust="spacingAndGlyphs">Cxcr4</text>
<text transform="translate(35.30,422.40) rotate(-90)" x="0" y="0" font-size="10" fill="#1a1a1a" text-anchor="middle" stroke="#1a1a1a" stroke-width="0.15" textLength="58.90" lengthAdjust="spacingAndGlyphs">Differentiation</text>
<text transform="translate(35.30,487.40) rotate(-90)" x="0" y="0" font-size="10" fill="#1a1a1a" text-anchor="middle" stroke="#1a1a1a" stroke-width="0.15" textLength="56.10" lengthAdjust="spacingAndGlyphs">BCR signalling</text>
<text transform="translate(35.30,537.30) rotate(-90)" x="0" y="0" font-size="10" fill="#1a1a1a" text-anchor="middle" stroke="#1a1a1a" stroke-width="0.15" textLength="38.10" lengthAdjust="spacingAndGlyphs">Migration</text>
<text transform="translate(44.50,553.1) rotate(90)" font-size="10" fill="#ee1c1c" stroke="#ee1c1c" stroke-width="0.3" textLength="13" lengthAdjust="spacingAndGlyphs">CLP</text>
<text transform="translate(128.90,553.1) rotate(90)" font-size="11" fill="#1a1a1a" stroke="#1a1a1a" stroke-width="0.15" textLength="24" lengthAdjust="spacingAndGlyphs">Sham</text>
<text transform="translate(58.10,553.1) rotate(90)" font-size="10" fill="#ee1c1c" stroke="#ee1c1c" stroke-width="0.3" textLength="13" lengthAdjust="spacingAndGlyphs">CLP</text>
<text transform="translate(142.50,553.1) rotate(90)" font-size="11" fill="#1a1a1a" stroke="#1a1a1a" stroke-width="0.15" textLength="24" lengthAdjust="spacingAndGlyphs">Sham</text>
<text transform="translate(71.70,553.1) rotate(90)" font-size="10" fill="#ee1c1c" stroke="#ee1c1c" stroke-width="0.3" textLength="13" lengthAdjust="spacingAndGlyphs">CLP</text>
<text transform="translate(156.10,553.1) rotate(90)" font-size="11" fill="#1a1a1a" stroke="#1a1a1a" stroke-width="0.15" textLength="24" lengthAdjust="spacingAndGlyphs">Sham</text>
<text transform="translate(85.30,553.1) rotate(90)" font-size="10" fill="#ee1c1c" stroke="#ee1c1c" stroke-width="0.3" textLength="13" lengthAdjust="spacingAndGlyphs">CLP</text>
<text transform="translate(169.70,553.1) rotate(90)" font-size="11" fill="#1a1a1a" stroke="#1a1a1a" stroke-width="0.15" textLength="24" lengthAdjust="spacingAndGlyphs">Sham</text>
<text transform="translate(98.90,553.1) rotate(90)" font-size="10" fill="#ee1c1c" stroke="#ee1c1c" stroke-width="0.3" textLength="13" lengthAdjust="spacingAndGlyphs">CLP</text>
<text transform="translate(183.30,553.1) rotate(90)" font-size="11" fill="#1a1a1a" stroke="#1a1a1a" stroke-width="0.15" textLength="24" lengthAdjust="spacingAndGlyphs">Sham</text>
<text transform="translate(112.50,553.1) rotate(90)" font-size="10" fill="#ee1c1c" stroke="#ee1c1c" stroke-width="0.3" textLength="13" lengthAdjust="spacingAndGlyphs">CLP</text>
<text transform="translate(196.90,553.1) rotate(90)" font-size="11" fill="#1a1a1a" stroke="#1a1a1a" stroke-width="0.15" textLength="24" lengthAdjust="spacingAndGlyphs">Sham</text>
<rect x="242.2" y="466.9" width="4.3" height="49.7" fill="url(#cbar)"/>
<text x="256.50" y="471.70" font-size="9.5" fill="#1a1a1a" stroke="#1a1a1a" stroke-width="0.05" text-anchor="end">2</text>
<text x="256.50" y="483.70" font-size="9.5" fill="#1a1a1a" stroke="#1a1a1a" stroke-width="0.05" text-anchor="end">1</text>
<text x="256.50" y="495.40" font-size="9.5" fill="#1a1a1a" stroke="#1a1a1a" stroke-width="0.05" text-anchor="end">0</text>
<text x="256.50" y="507.60" font-size="9.5" fill="#1a1a1a" stroke="#1a1a1a" stroke-width="0.05" text-anchor="end">-1</text>
<text x="256.50" y="518.70" font-size="9.5" fill="#1a1a1a" stroke="#1a1a1a" stroke-width="0.05" text-anchor="end">-2</text>
<text x="300.60" y="408.00" font-size="19" fill="#111" stroke="#111" stroke-width="0.15">j</text>
<line x1="332.50" y1="427.70" x2="332.50" y2="523.20" stroke="#555" stroke-width="0.9"/>
<line x1="332.50" y1="523.20" x2="452.50" y2="523.20" stroke="#555" stroke-width="0.9"/>
<line x1="328.00" y1="427.70" x2="332.50" y2="427.70" stroke="#555" stroke-width="0.9"/>
<text x="327.30" y="430.30" font-size="7.3" fill="#1a1a1a" stroke="#1a1a1a" stroke-width="0.15" text-anchor="end" textLength="16.20" lengthAdjust="spacingAndGlyphs">100</text>
<line x1="328.00" y1="446.80" x2="332.50" y2="446.80" stroke="#555" stroke-width="0.9"/>
<text x="327.30" y="449.40" font-size="7.3" fill="#1a1a1a" stroke="#1a1a1a" stroke-width="0.15" text-anchor="end" textLength="10.80" lengthAdjust="spacingAndGlyphs">80</text>
<line x1="328.00" y1="465.90" x2="332.50" y2="465.90" stroke="#555" stroke-width="0.9"/>
<text x="327.30" y="468.50" font-size="7.3" fill="#1a1a1a" stroke="#1a1a1a" stroke-width="0.15" text-anchor="end" textLength="10.80" lengthAdjust="spacingAndGlyphs">60</text>
<line x1="328.00" y1="485.00" x2="332.50" y2="485.00" stroke="#555" stroke-width="0.9"/>
<text x="327.30" y="487.60" font-size="7.3" fill="#1a1a1a" stroke="#1a1a1a" stroke-width="0.15" text-anchor="end" textLength="10.80" lengthAdjust="spacingAndGlyphs">40</text>
<line x1="328.00" y1="504.10" x2="332.50" y2="504.10" stroke="#555" stroke-width="0.9"/>
<text x="327.30" y="506.70" font-size="7.3" fill="#1a1a1a" stroke="#1a1a1a" stroke-width="0.15" text-anchor="end" textLength="10.80" lengthAdjust="spacingAndGlyphs">20</text>
<line x1="328.00" y1="523.20" x2="332.50" y2="523.20" stroke="#555" stroke-width="0.9"/>
<text x="327.30" y="525.80" font-size="7.3" fill="#1a1a1a" stroke="#1a1a1a" stroke-width="0.15" text-anchor="end" textLength="5.40" lengthAdjust="spacingAndGlyphs">0</text>
<path d="M342.10,523.20V514.13H359.50V523.20" fill="none" stroke="#333" stroke-width="0.85"/>
<path d="M369.90,523.20V458.26H386.80V523.20" fill="none" stroke="#333" stroke-width="0.85"/>
<path d="M397.30,523.20V454.44H414.20V523.20" fill="none" stroke="#333" stroke-width="0.85"/>
<path d="M425.10,523.20V490.73H442.00V523.20" fill="none" stroke="#ff4040" stroke-width="0.85"/>
<line x1="350.80" y1="523.20" x2="350.80" y2="526.20" stroke="#555" stroke-width="0.8"/>
<line x1="378.35" y1="523.20" x2="378.35" y2="526.20" stroke="#555" stroke-width="0.8"/>
<line x1="405.75" y1="523.20" x2="405.75" y2="526.20" stroke="#555" stroke-width="0.8"/>
<line x1="433.55" y1="523.20" x2="433.55" y2="526.20" stroke="#555" stroke-width="0.8"/>
<line x1="350.80" y1="510.79" x2="350.80" y2="517.47" stroke="#333" stroke-width="0.8"/>
<line x1="346.80" y1="510.79" x2="354.80" y2="510.79" stroke="#333" stroke-width="0.8"/>
<line x1="346.80" y1="517.47" x2="354.80" y2="517.47" stroke="#333" stroke-width="0.8"/>
<line x1="378.35" y1="435.34" x2="378.35" y2="480.23" stroke="#333" stroke-width="0.8"/>
<line x1="373.85" y1="435.34" x2="382.85" y2="435.34" stroke="#333" stroke-width="0.8"/>
<line x1="373.85" y1="480.23" x2="382.85" y2="480.23" stroke="#333" stroke-width="0.8"/>
<line x1="405.75" y1="436.30" x2="405.75" y2="470.68" stroke="#333" stroke-width="0.8"/>
<line x1="401.25" y1="436.30" x2="410.25" y2="436.30" stroke="#333" stroke-width="0.8"/>
<line x1="401.25" y1="470.68" x2="410.25" y2="470.68" stroke="#333" stroke-width="0.8"/>
<line x1="433.55" y1="462.08" x2="433.55" y2="516.52" stroke="#ee1c1c" stroke-width="0.9"/>
<line x1="429.05" y1="462.08" x2="438.05" y2="462.08" stroke="#ee1c1c" stroke-width="0.9"/>
<line x1="429.05" y1="516.52" x2="438.05" y2="516.52" stroke="#ee1c1c" stroke-width="0.9"/>
<circle cx="343.50" cy="509.70" r="1.50" fill="none" stroke="#222" stroke-width="0.7"/>
<circle cx="346.50" cy="510.30" r="1.50" fill="none" stroke="#222" stroke-width="0.7"/>
<circle cx="350.00" cy="510.80" r="1.50" fill="none" stroke="#222" stroke-width="0.7"/>
<circle cx="353.50" cy="510.50" r="1.50" fill="none" stroke="#222" stroke-width="0.7"/>
<circle cx="356.50" cy="510.00" r="1.50" fill="none" stroke="#222" stroke-width="0.7"/>
<circle cx="347.50" cy="515.00" r="1.50" fill="none" stroke="#222" stroke-width="0.7"/>
<circle cx="351.00" cy="513.50" r="1.50" fill="none" stroke="#222" stroke-width="0.7"/>
<circle cx="348.30" cy="519.60" r="1.50" fill="none" stroke="#222" stroke-width="0.7"/>
<circle cx="352.00" cy="517.50" r="1.50" fill="none" stroke="#222" stroke-width="0.7"/>
<circle cx="371.00" cy="438.50" r="1.70" fill="none" stroke="#222" stroke-width="0.7"/>
<circle cx="378.40" cy="437.50" r="1.70" fill="none" stroke="#222" stroke-width="0.7"/>
<circle cx="385.60" cy="439.50" r="1.70" fill="none" stroke="#222" stroke-width="0.7"/>
<circle cx="378.40" cy="440.00" r="1.70" fill="none" stroke="#222" stroke-width="0.7"/>
<circle cx="378.40" cy="462.00" r="1.70" fill="none" stroke="#222" stroke-width="0.7"/>
<circle cx="378.40" cy="470.00" r="1.70" fill="none" stroke="#222" stroke-width="0.7"/>
<circle cx="378.40" cy="483.60" r="1.70" fill="none" stroke="#222" stroke-width="0.7"/>
<circle cx="378.40" cy="494.30" r="1.70" fill="none" stroke="#222" stroke-width="0.7"/>
<circle cx="401.50" cy="439.50" r="1.70" fill="none" stroke="#222" stroke-width="0.7"/>
<circle cx="405.80" cy="437.50" r="1.70" fill="none" stroke="#222" stroke-width="0.7"/>
<circle cx="409.50" cy="440.50" r="1.70" fill="none" stroke="#222" stroke-width="0.7"/>
<circle cx="401.50" cy="446.00" r="1.70" fill="none" stroke="#222" stroke-width="0.7"/>
<circle cx="409.50" cy="447.50" r="1.70" fill="none" stroke="#222" stroke-width="0.7"/>
<circle cx="405.80" cy="462.50" r="1.70" fill="none" stroke="#222" stroke-width="0.7"/>
<circle cx="405.80" cy="467.50" r="1.70" fill="none" stroke="#222" stroke-width="0.7"/>
<circle cx="405.40" cy="488.60" r="1.70" fill="none" stroke="#222" stroke-width="0.7"/>
<rect x="428.35" y="443.15" width="3.70" height="3.70" fill="#f01414"/>
<rect x="433.55" y="442.25" width="3.70" height="3.70" fill="#f01414"/>
<rect x="438.85" y="442.25" width="3.70" height="3.70" fill="#f01414"/>
<rect x="433.55" y="445.15" width="3.70" height="3.70" fill="#f01414"/>
<rect x="424.15" y="485.65" width="3.70" height="3.70" fill="#f01414"/>
<rect x="428.35" y="487.75" width="3.70" height="3.70" fill="#f01414"/>
<rect x="433.55" y="487.75" width="3.70" height="3.70" fill="#f01414"/>
<rect x="438.85" y="486.15" width="3.70" height="3.70" fill="#f01414"/>
<rect x="428.75" y="498.65" width="3.70" height="3.70" fill="#f01414"/>
<rect x="433.55" y="496.85" width="3.70" height="3.70" fill="#f01414"/>
<rect x="424.15" y="506.65" width="3.70" height="3.70" fill="#f01414"/>
<rect x="429.15" y="509.85" width="3.70" height="3.70" fill="#f01414"/>
<rect x="433.55" y="507.65" width="3.70" height="3.70" fill="#f01414"/>
<rect x="438.85" y="504.15" width="3.70" height="3.70" fill="#f01414"/>
<rect x="429.15" y="520.65" width="3.70" height="3.70" fill="#f01414"/>
<rect x="433.35" y="520.65" width="3.70" height="3.70" fill="#f01414"/>
<path d="M350.60,426.50 V423.10 H378.50 V426.50" fill="none" stroke="#555" stroke-width="0.9"/>
<text x="338.00" y="421.50" font-size="8.6" fill="#1a1a1a" stroke="#1a1a1a" stroke-width="0.15" textLength="48.70" lengthAdjust="spacingAndGlyphs">p = 0.0002</text>
<path d="M377.80,408.50 V404.30 H435.90 V408.50" fill="none" stroke="#555" stroke-width="0.9"/>
<text x="379.90" y="399.90" font-size="8.6" fill="#1a1a1a" stroke="#1a1a1a" stroke-width="0.15" textLength="49.30" lengthAdjust="spacingAndGlyphs">p = 0.0038</text>
<path d="M405.70,428.20 V423.10 H436.50 V428.20" fill="none" stroke="#555" stroke-width="0.9"/>
<text x="396.80" y="421.50" font-size="8.6" fill="#1a1a1a" stroke="#1a1a1a" stroke-width="0.15" textLength="49.30" lengthAdjust="spacingAndGlyphs">p = 0.0047</text>
<text transform="translate(305.40,477.10) rotate(-90)" x="0" y="0" font-size="10.3" fill="#1a1a1a" text-anchor="middle" stroke="#1a1a1a" stroke-width="0.15" textLength="81.40" lengthAdjust="spacingAndGlyphs">% proliferating T cells</text>
<text x="273.60" y="537.60" font-size="9" fill="#1a1a1a" stroke="#1a1a1a" stroke-width="0.15" textLength="55.70" lengthAdjust="spacingAndGlyphs">&#945;CD3/CD28</text>
<text x="258.90" y="548.10" font-size="9" fill="#1a1a1a" stroke="#1a1a1a" stroke-width="0.15" textLength="85.90" lengthAdjust="spacingAndGlyphs">Sham Plasma cells</text>
<text x="263.70" y="560.00" font-size="9" fill="#ee1c1c" stroke="#ee1c1c" stroke-width="0.15" textLength="76.50" lengthAdjust="spacingAndGlyphs">CLP Plasma cells</text>
<line x1="349.00" y1="534.60" x2="351.80" y2="534.60" stroke="#222" stroke-width="0.8"/>
<line x1="376.50" y1="534.60" x2="381.10" y2="534.60" stroke="#222" stroke-width="0.9"/>
<line x1="378.80" y1="532.30" x2="378.80" y2="536.90" stroke="#222" stroke-width="0.9"/>
<line x1="402.60" y1="534.60" x2="407.20" y2="534.60" stroke="#222" stroke-width="0.9"/>
<line x1="404.90" y1="532.30" x2="404.90" y2="536.90" stroke="#222" stroke-width="0.9"/>
<line x1="431.10" y1="534.60" x2="435.70" y2="534.60" stroke="#222" stroke-width="0.9"/>
<line x1="433.40" y1="532.30" x2="433.40" y2="536.90" stroke="#222" stroke-width="0.9"/>
<line x1="349.00" y1="545.50" x2="351.80" y2="545.50" stroke="#222" stroke-width="0.8"/>
<line x1="377.40" y1="545.50" x2="380.20" y2="545.50" stroke="#222" stroke-width="0.8"/>
<line x1="402.60" y1="545.50" x2="407.20" y2="545.50" stroke="#222" stroke-width="0.9"/>
<line x1="404.90" y1="543.20" x2="404.90" y2="547.80" stroke="#222" stroke-width="0.9"/>
<line x1="432.00" y1="545.50" x2="434.80" y2="545.50" stroke="#222" stroke-width="0.8"/>
<line x1="349.00" y1="557.00" x2="351.80" y2="557.00" stroke="#ee1c1c" stroke-width="0.8"/>
<line x1="377.40" y1="557.00" x2="380.20" y2="557.00" stroke="#ee1c1c" stroke-width="0.8"/>
<line x1="403.50" y1="557.00" x2="406.30" y2="557.00" stroke="#ee1c1c" stroke-width="0.8"/>
<line x1="431.10" y1="557.00" x2="435.70" y2="557.00" stroke="#ee1c1c" stroke-width="0.9"/>
<line x1="433.40" y1="554.70" x2="433.40" y2="559.30" stroke="#ee1c1c" stroke-width="0.9"/>
<text x="497.60" y="410.50" font-size="19" fill="#111" stroke="#111" stroke-width="0.15">k</text>
<line x1="539.10" y1="423.40" x2="539.10" y2="522.70" stroke="#555" stroke-width="0.9"/>
<line x1="539.10" y1="522.70" x2="648.20" y2="522.70" stroke="#555" stroke-width="0.9"/>
<line x1="534.60" y1="423.40" x2="539.10" y2="423.40" stroke="#555" stroke-width="0.9"/>
<text x="536.20" y="426.30" font-size="8.2" fill="#1a1a1a" stroke="#1a1a1a" stroke-width="0.15" text-anchor="end" textLength="20.68" lengthAdjust="spacingAndGlyphs">1000</text>
<line x1="534.60" y1="456.50" x2="539.10" y2="456.50" stroke="#555" stroke-width="0.9"/>
<text x="536.20" y="459.40" font-size="8.2" fill="#1a1a1a" stroke="#1a1a1a" stroke-width="0.15" text-anchor="end" textLength="15.96" lengthAdjust="spacingAndGlyphs">100</text>
<line x1="534.60" y1="489.60" x2="539.10" y2="489.60" stroke="#555" stroke-width="0.9"/>
<text x="536.20" y="492.50" font-size="8.2" fill="#1a1a1a" stroke="#1a1a1a" stroke-width="0.15" text-anchor="end" textLength="11.03" lengthAdjust="spacingAndGlyphs">10</text>
<line x1="534.60" y1="522.70" x2="539.10" y2="522.70" stroke="#555" stroke-width="0.9"/>
<text x="536.20" y="525.60" font-size="8.2" fill="#1a1a1a" stroke="#1a1a1a" stroke-width="0.15" text-anchor="end" textLength="4.20" lengthAdjust="spacingAndGlyphs">1</text>
<path d="M572.00,522.70V451.66H588.50V522.70" fill="none" stroke="#333" stroke-width="0.85"/>
<path d="M597.40,522.70V455.13H614.00V522.70" fill="none" stroke="#333" stroke-width="0.85"/>
<path d="M622.40,522.70V465.90H639.00V522.70" fill="none" stroke="#ff4040" stroke-width="0.85"/>
<line x1="555.70" y1="522.70" x2="555.70" y2="526.10" stroke="#555" stroke-width="0.8"/>
<line x1="580.40" y1="522.70" x2="580.40" y2="526.10" stroke="#555" stroke-width="0.8"/>
<line x1="605.60" y1="522.70" x2="605.60" y2="526.10" stroke="#555" stroke-width="0.8"/>
<line x1="630.30" y1="522.70" x2="630.30" y2="526.10" stroke="#555" stroke-width="0.8"/>
<line x1="580.30" y1="445.20" x2="580.30" y2="456.00" stroke="#333" stroke-width="0.8"/>
<line x1="576.30" y1="445.20" x2="584.30" y2="445.20" stroke="#333" stroke-width="0.8"/>
<line x1="576.30" y1="456.00" x2="584.30" y2="456.00" stroke="#333" stroke-width="0.8"/>
<line x1="605.70" y1="450.00" x2="605.70" y2="458.00" stroke="#333" stroke-width="0.8"/>
<line x1="601.70" y1="450.00" x2="609.70" y2="450.00" stroke="#333" stroke-width="0.8"/>
<line x1="601.70" y1="458.00" x2="609.70" y2="458.00" stroke="#333" stroke-width="0.8"/>
<line x1="630.70" y1="452.00" x2="630.70" y2="466.00" stroke="#ee1c1c" stroke-width="0.9"/>
<line x1="627.00" y1="452.00" x2="634.40" y2="452.00" stroke="#ee1c1c" stroke-width="0.9"/>
<circle cx="574.60" cy="443.30" r="1.90" fill="none" stroke="#222" stroke-width="0.7"/>
<circle cx="580.30" cy="446.50" r="1.90" fill="none" stroke="#222" stroke-width="0.7"/>
<circle cx="587.00" cy="447.30" r="1.90" fill="none" stroke="#222" stroke-width="0.7"/>
<circle cx="574.60" cy="453.80" r="1.90" fill="none" stroke="#222" stroke-width="0.7"/>
<circle cx="587.00" cy="456.50" r="1.90" fill="none" stroke="#222" stroke-width="0.7"/>
<circle cx="581.20" cy="463.60" r="1.90" fill="none" stroke="#222" stroke-width="0.7"/>
<circle cx="605.60" cy="447.30" r="1.90" fill="none" stroke="#222" stroke-width="0.7"/>
<circle cx="602.00" cy="451.50" r="1.90" fill="none" stroke="#222" stroke-width="0.7"/>
<circle cx="609.50" cy="453.50" r="1.90" fill="none" stroke="#222" stroke-width="0.7"/>
<circle cx="600.00" cy="460.40" r="1.90" fill="none" stroke="#222" stroke-width="0.7"/>
<circle cx="605.60" cy="457.80" r="1.90" fill="none" stroke="#222" stroke-width="0.7"/>
<circle cx="612.20" cy="459.60" r="1.90" fill="none" stroke="#222" stroke-width="0.7"/>
<rect x="622.55" y="450.35" width="3.90" height="3.90" fill="#f01414"/>
<rect x="629.15" y="452.95" width="3.90" height="3.90" fill="#f01414"/>
<rect x="635.15" y="450.55" width="3.90" height="3.90" fill="#f01414"/>
<rect x="629.15" y="459.75" width="3.90" height="3.90" fill="#f01414"/>
<rect x="625.95" y="468.95" width="3.90" height="3.90" fill="#f01414"/>
<rect x="633.05" y="468.95" width="3.90" height="3.90" fill="#f01414"/>
<rect x="629.15" y="487.85" width="3.90" height="3.90" fill="#f01414"/>
<rect x="629.15" y="499.75" width="3.90" height="3.90" fill="#f01414"/>
<rect x="625.95" y="520.05" width="3.90" height="3.90" fill="#f01414"/>
<rect x="633.05" y="520.05" width="3.90" height="3.90" fill="#f01414"/>
<path d="M553.00,438.60 V435.20 H578.50 V438.60" fill="none" stroke="#555" stroke-width="0.9"/>
<text x="543.60" y="432.60" font-size="8.8" fill="#1a1a1a" stroke="#1a1a1a" stroke-width="0.15" textLength="46.20" lengthAdjust="spacingAndGlyphs">p = 0.0079</text>
<path d="M581.20,419.40 V415.00 H628.40 V419.40" fill="none" stroke="#555" stroke-width="0.9"/>
<text x="582.00" y="411.00" font-size="8.8" fill="#1a1a1a" stroke="#1a1a1a" stroke-width="0.15" textLength="46.40" lengthAdjust="spacingAndGlyphs">p = 0.0383</text>
<text transform="translate(501.00,478.20) rotate(-90)" x="0" y="0" font-size="9.7" fill="#1a1a1a" text-anchor="middle" stroke="#1a1a1a" stroke-width="0.15" textLength="80.30" lengthAdjust="spacingAndGlyphs">IFNg in supernatant</text>
<text transform="translate(513.60,477.20) rotate(-90)" x="0" y="0" font-size="9.7" fill="#1a1a1a" text-anchor="middle" stroke="#1a1a1a" stroke-width="0.15" textLength="33.00" lengthAdjust="spacingAndGlyphs">(pg/mL)</text>
<text x="484.70" y="537.00" font-size="8.8" fill="#1a1a1a" stroke="#1a1a1a" stroke-width="0.15" textLength="54.70" lengthAdjust="spacingAndGlyphs">&#945;CD3/CD28</text>
<text x="469.70" y="548.30" font-size="8.8" fill="#1a1a1a" stroke="#1a1a1a" stroke-width="0.15" textLength="80.70" lengthAdjust="spacingAndGlyphs">Sham Plasma cells</text>
<text x="475.00" y="559.60" font-size="8.8" fill="#ee1c1c" stroke="#ee1c1c" stroke-width="0.15" textLength="70.90" lengthAdjust="spacingAndGlyphs">CLP Plasma cells</text>
<line x1="555.60" y1="533.80" x2="558.40" y2="533.80" stroke="#222" stroke-width="0.8"/>
<line x1="577.50" y1="533.80" x2="582.10" y2="533.80" stroke="#222" stroke-width="0.9"/>
<line x1="579.80" y1="531.50" x2="579.80" y2="536.10" stroke="#222" stroke-width="0.9"/>
<line x1="603.80" y1="533.80" x2="608.40" y2="533.80" stroke="#222" stroke-width="0.9"/>
<line x1="606.10" y1="531.50" x2="606.10" y2="536.10" stroke="#222" stroke-width="0.9"/>
<line x1="628.70" y1="533.80" x2="633.30" y2="533.80" stroke="#222" stroke-width="0.9"/>
<line x1="631.00" y1="531.50" x2="631.00" y2="536.10" stroke="#222" stroke-width="0.9"/>
<line x1="555.60" y1="545.30" x2="558.40" y2="545.30" stroke="#222" stroke-width="0.8"/>
<line x1="578.40" y1="545.30" x2="581.20" y2="545.30" stroke="#222" stroke-width="0.8"/>
<line x1="603.80" y1="545.30" x2="608.40" y2="545.30" stroke="#222" stroke-width="0.9"/>
<line x1="606.10" y1="543.00" x2="606.10" y2="547.60" stroke="#222" stroke-width="0.9"/>
<line x1="629.60" y1="545.30" x2="632.40" y2="545.30" stroke="#222" stroke-width="0.8"/>
<line x1="555.60" y1="556.80" x2="558.40" y2="556.80" stroke="#ee1c1c" stroke-width="0.8"/>
<line x1="578.40" y1="556.80" x2="581.20" y2="556.80" stroke="#ee1c1c" stroke-width="0.8"/>
<line x1="604.70" y1="556.80" x2="607.50" y2="556.80" stroke="#ee1c1c" stroke-width="0.8"/>
<line x1="628.70" y1="556.80" x2="633.30" y2="556.80" stroke="#ee1c1c" stroke-width="0.9"/>
<line x1="631.00" y1="554.50" x2="631.00" y2="559.10" stroke="#ee1c1c" stroke-width="0.9"/>
</svg></body></html>
